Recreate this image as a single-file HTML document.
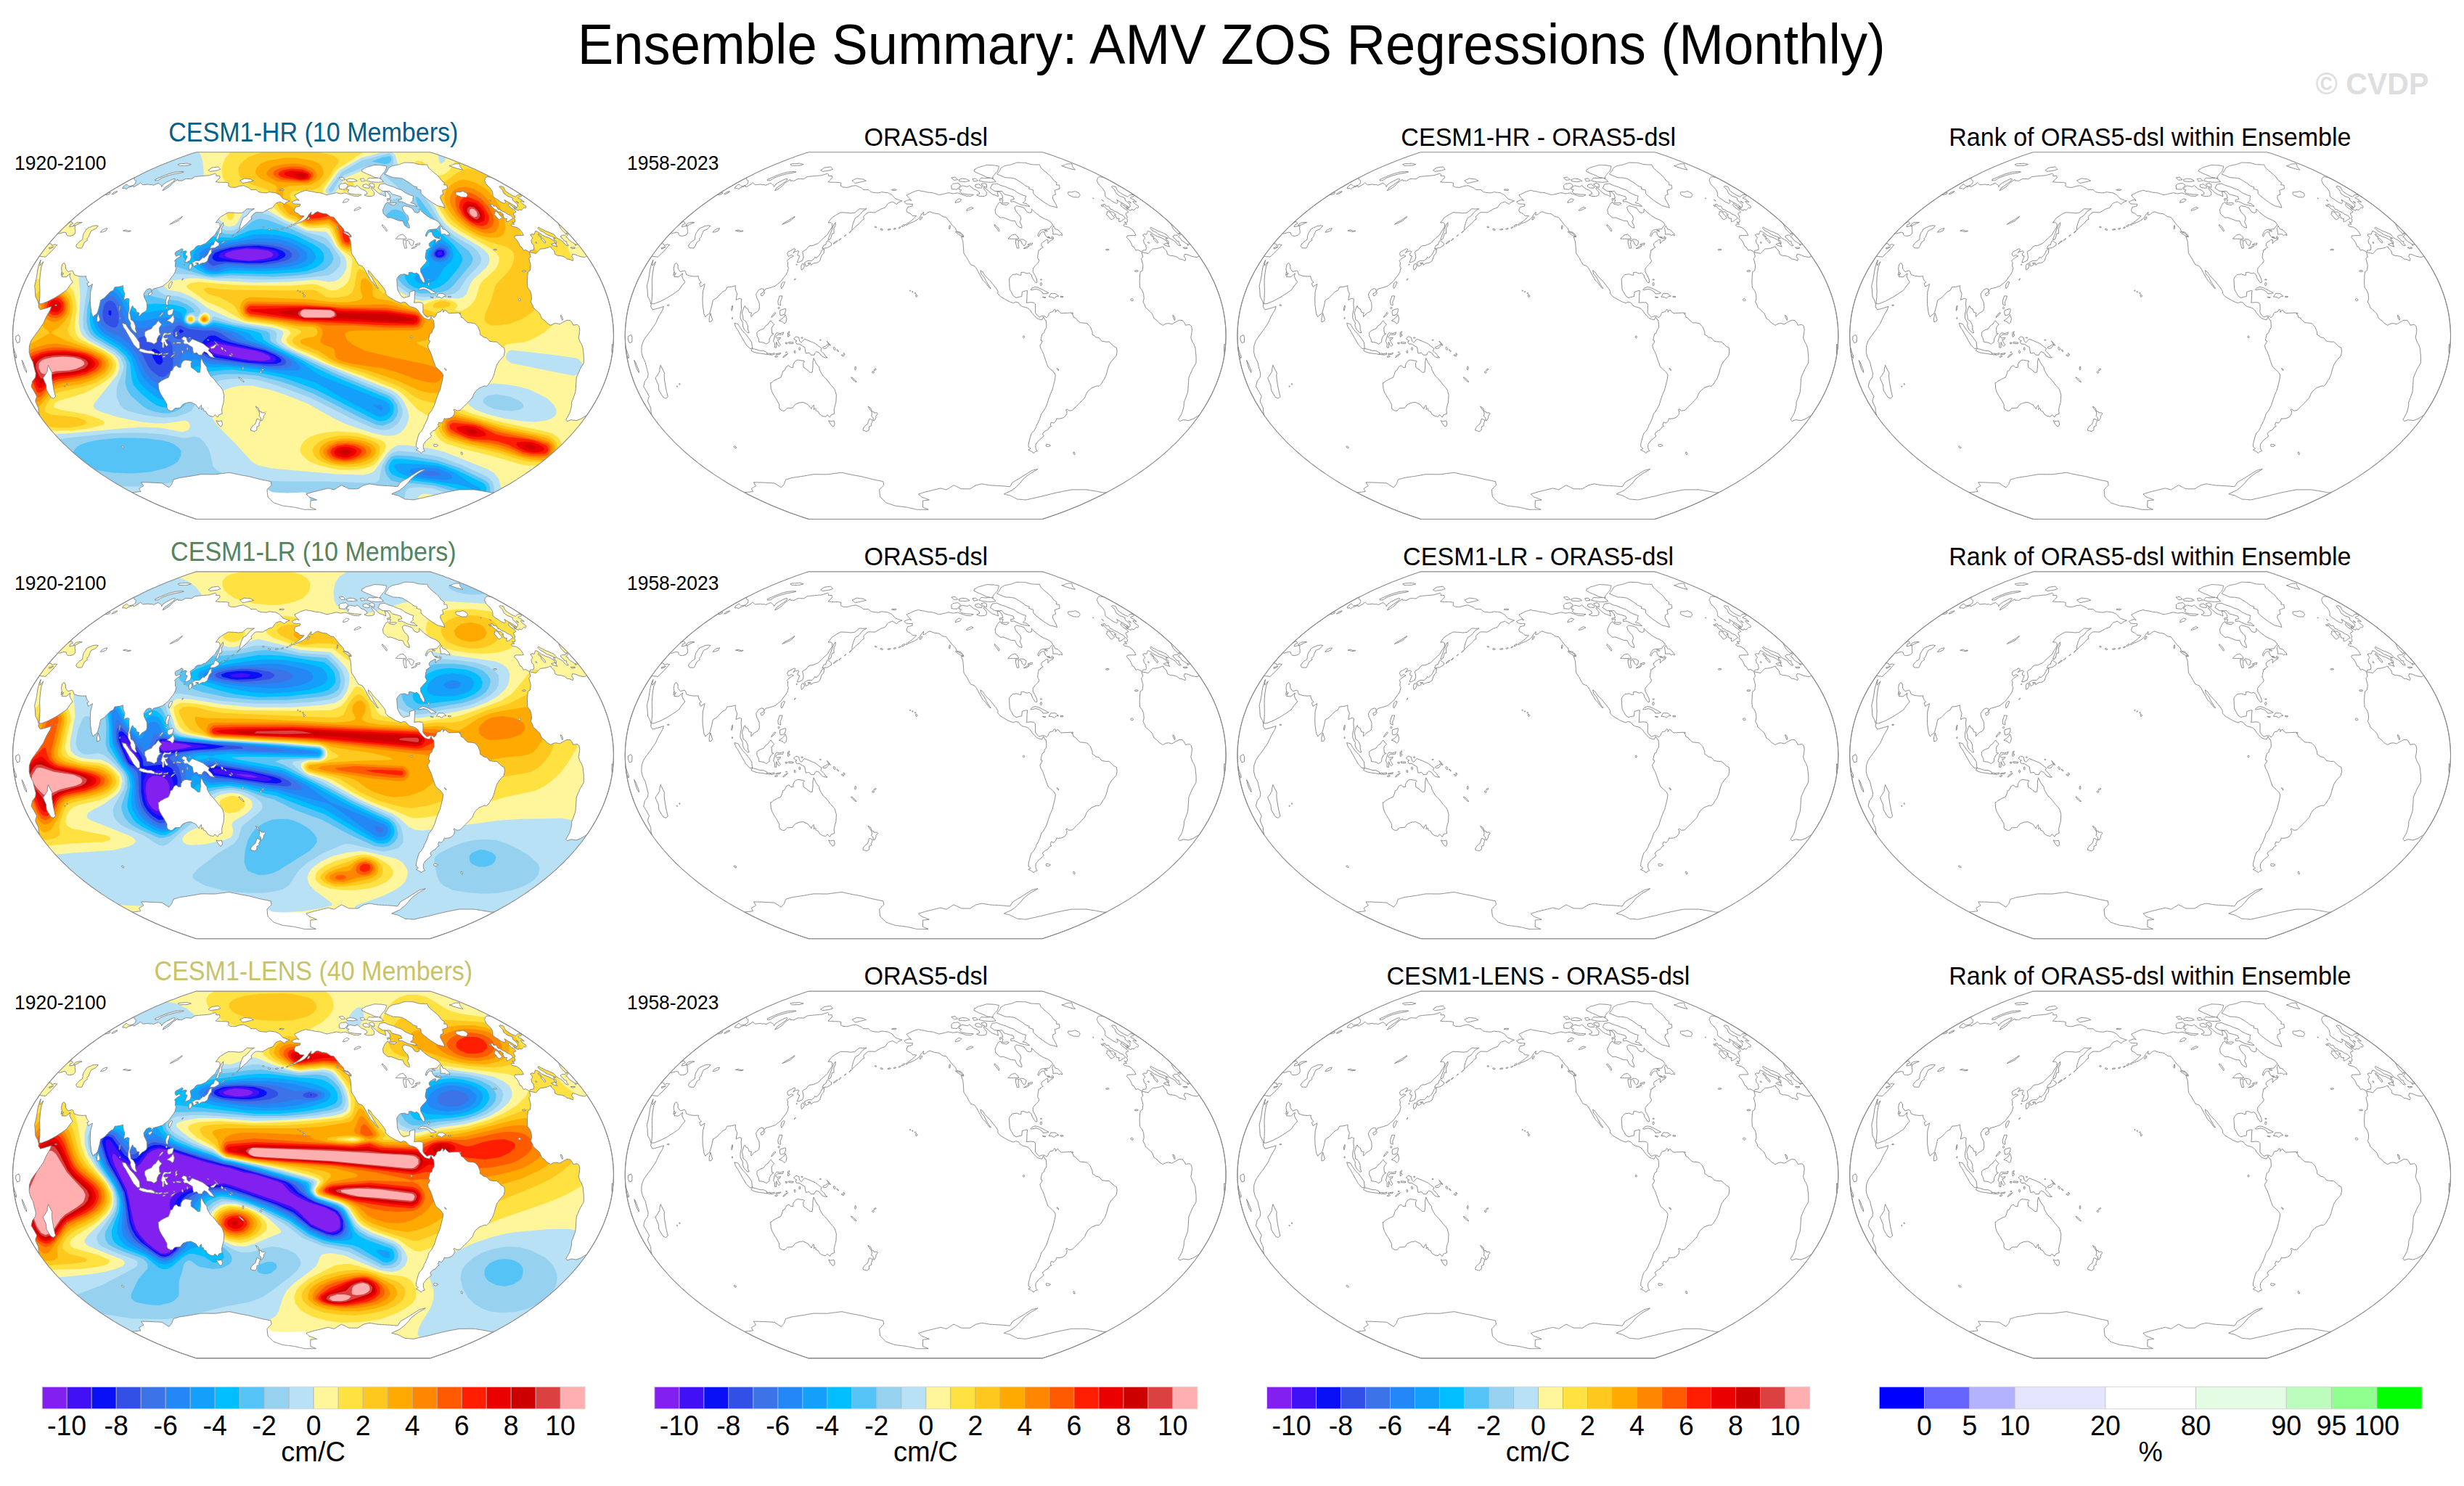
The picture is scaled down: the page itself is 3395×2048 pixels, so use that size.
<!DOCTYPE html>
<html><head><meta charset="utf-8"><title>Ensemble Summary: AMV ZOS Regressions (Monthly)</title>
<style>html,body{margin:0;padding:0;background:#fff;width:3395px;height:2048px;overflow:hidden}svg{display:block;font-family:"Liberation Sans",Arial,Helvetica,sans-serif}</style></head>
<body>
<svg xmlns="http://www.w3.org/2000/svg" width="3395" height="2048" viewBox="0 0 3395 2048">
<defs>
<path id="land" d="M-260.9 153.5L-260.5 154.5 -261.1 155.1 -262.4 154.8 -263.7 153.8 -264.1 152.8 -263.5 152.2 -262.2 152.5 -260.9 153.5ZM-341.7 70.6L-342 70.8 -342.5 70.6 -342.8 70.1 -342.9 69.5 -342.6 69.2 -342.1 69.4 -341.8 70 -341.7 70.6ZM-338.2 67.4L-338.5 67.7 -339 67.5 -339.4 66.8 -339.4 66.1 -339.2 65.8 -338.7 66 -338.3 66.7 -338.2 67.4ZM-367.9 68.3L-369.4 65 -370.8 61.7 -372.2 58.3 -371.2 56.9 -370.1 55.4 -369.1 54 -368.2 52.4 -367.3 50.9 -366.3 49.4 -366.3 49.3 -366.3 47.4 -366.2 45.6 -365.6 43.1 -365 40.7 -363.7 43.5 -362.4 46.2 -361 48.9 -359.6 51.6 -360 54 -360 54.1 -359.9 56.6 -359.8 59.1 -359.8 59.2 -359.4 62.2 -358.9 65.2 -358.4 68.3 -357.9 71.3 -357.3 74.3 -356.7 76.8 -356.2 79.2 -355.6 81.7 -354.9 84.1 -356.4 85.3 -357.9 86.5 -359.6 85.8 -361.2 85.1 -362.9 82.7 -364.4 80.2 -364.5 80.2 -365.9 77.8 -367.3 75.3 -367.6 73 -367.8 70.7 -367.9 68.4 -367.9 68.3ZM-204.1 29L-205.4 29.6 -206.9 29.7 -207.6 29.2 -207.2 28.5 -205.8 27.9 -204.4 27.8 -203.6 28.3 -204.1 29ZM-192 27.4L-193.6 28.6 -195.3 29.8 -196.4 30.1 -195.4 28.6 -194.3 27.1 -192.7 26.3 -191.1 25.5 -189.5 24.7 -190.8 26 -192 27.4ZM-212.7 26.8L-213.3 25.3 -213.2 25.3 -211.6 24.9 -210 24.5 -208.3 24 -208.2 25.8 -209.7 26.1 -211.2 26.5 -212.7 26.8ZM-205.9 26.1L-206.4 25.2 -204.6 24.9 -202.9 24.6 -201.1 24.2 -199.4 23.9 -200.6 25.7 -202.4 25.8 -204.1 26 -205.9 26.1ZM-190.8 23.3L-191.6 23.4 -192.5 23.3 -192.8 23 -192.5 22.6 -191.7 22.5 -190.9 22.6 -190.5 22.9 -190.8 23.3ZM-223.5 20.7L-221.9 21.4 -220.3 22.2 -218.7 23 -218.6 24 -218.6 24.1 -218.6 24.2 -218.5 24.2 -216.8 24.4 -215.2 24.5 -213.5 24.7 -214.1 26.5 -216 26.1 -218 25.7 -218.3 24.9 -218.4 24.9 -218.4 24.8 -218.5 24.8 -218.5 24.9 -218.5 25 -218.5 26 -220.4 25.6 -222.3 25.2 -224.3 24.9 -225.8 24.7 -227.4 24.5 -228.9 24.3 -230.5 24.1 -232 23.8 -233.5 23.5 -233.6 23.5 -235.3 22.9 -237.1 22.3 -238.6 21.5 -240.2 20.6 -239.4 19.2 -238.6 17.8 -236.8 18.2 -235 18.6 -233.2 19 -231.5 19.6 -229.8 20.1 -228.1 20.7 -228 20.7 -225.7 20.7 -223.5 20.7ZM-205.1 -3.9L-203.4 -3.6 -201.7 -3.3 -200.1 -3 -200 -3 -198.5 -3.5 -197 -4.1 -195.4 -4.7 -196 -3.1 -196.6 -1.5 -198.9 -1.5 -201.2 -1.5 -203.5 -1.5 -203.5 -1.4 -205 0 -206.4 1.4 -206.4 1.5 -206.4 1.6 -204.7 3.5 -204.6 3.5 -202.9 3.2 -201.2 3 -199.6 2.7 -200.4 4 -201.2 5.3 -202.4 5.5 -203.7 5.6 -203.8 5.6 -203.8 5.7 -203.8 5.8 -203 7.6 -202.2 9.4 -202.2 9.5 -201 11.1 -199.8 12.7 -200.9 13.7 -202 14.8 -203.2 13.3 -204.4 11.8 -204.8 10.4 -205.3 9 -205.3 8.9 -205.4 8.9 -205.5 8.9 -205.5 9 -205.5 11.6 -205.6 14.1 -205.6 16.6 -206.7 16.5 -207.9 16.3 -207.8 13.4 -207.7 10.5 -207.7 10.4 -207.7 10.3 -208.7 9.2 -209.6 8 -209.1 6.1 -208.6 4.3 -208.1 2.4 -207.5 0.4 -206.9 -1.5 -206 -2.7 -205.1 -3.8 -205.1 -3.9ZM-251.7 -6.1L-250.2 -4.6 -248.7 -3 -247.2 -1.5 -246 0 -244.9 1.5 -243.7 3 -242.3 5 -240.9 7.1 -239.5 9.1 -239.2 11.9 -238.9 14.7 -238.6 17.5 -240.3 17.7 -242 17.9 -243.8 16 -245.6 14.1 -247.4 12.2 -248.5 10.3 -249.6 8.4 -250.7 6.5 -251.7 4.6 -253.2 2.1 -254.5 -0.3 -255.9 -2.7 -257.3 -5.2 -258.6 -7.7 -259.7 -9.2 -260.8 -10.7 -261.8 -12.3 -262.5 -14.7 -263.2 -17.2 -263.1 -17.2 -261.5 -16.8 -259.8 -16.4 -258.2 -15.9 -257.1 -14.1 -256.1 -12.2 -254.7 -10.2 -253.2 -8.1 -251.7 -6.1ZM-222.9 -9.6L-221.7 -11.5 -220.4 -13.4 -218.8 -14.5 -217.1 -15.5 -215.6 -17.9 -214.4 -19.4 -213.1 -20.8 -212.1 -19.3 -211 -17.8 -209.7 -16.6 -208.4 -15.4 -209.5 -14.3 -210.6 -13.1 -211.3 -11.8 -212 -10.5 -212 -10.4 -212.1 -10.4 -211.9 -7.9 -211.7 -5.5 -211.5 -3.1 -211.5 -3 -211.4 -3 -209.2 -2.7 -211 -1.3 -212.7 0 -213.8 2.2 -214.9 4.4 -215 4.5 -215.2 6.7 -215.3 8.9 -216.7 9.8 -218 10.7 -219.4 11.6 -221.1 10.6 -222.9 9.6 -224.6 9.3 -226.4 9 -227.9 8.9 -229.3 8.7 -229.4 8.7 -229.6 6.6 -229.9 4.5 -231.1 2.2 -232.2 0 -232.2 -2.3 -232.2 -4.5 -230.8 -6 -229.2 -6.9 -227.5 -7.8 -226 -8.4 -224.5 -9 -222.9 -9.6ZM-193.1 -28.9L-192.4 -27.1 -191.8 -25.3 -191.2 -23.5 -191.7 -21 -192.2 -18.5 -193.2 -17.5 -194.1 -16.5 -195.7 -17.8 -197.2 -19.2 -198.7 -19.7 -200.2 -20.2 -201.7 -20.7 -199.9 -21.9 -198.1 -23 -196.9 -24 -195.7 -25 -195.7 -25.1 -195.6 -25.1 -194.3 -27 -193.1 -28.9ZM-265.9 -23.2L-266.4 -22.8 -266.7 -23.2 -266.8 -24.1 -266.6 -24.9 -266.1 -25.3 -265.8 -24.9 -265.7 -24 -265.9 -23.2ZM-293.5 -22L-295.1 -19.6 -296.5 -19.3 -297.9 -19 -298 -21.3 -298.1 -23.7 -297.5 -26.1 -296.9 -28.5 -296.3 -31 -295.7 -28.9 -295 -26.8 -294.3 -24.4 -293.5 -22.1 -293.5 -22ZM-206.3 -31.1L-207.7 -29.4 -209.2 -27.6 -210.8 -26.3 -212.4 -25 -211.5 -27.4 -210.2 -28.9 -208.9 -30.5 -207.6 -32 -206.3 -31.1ZM-194.3 -36.5L-194.2 -36.7 -193.3 -37.4 -192.6 -36.7 -192.5 -35 -192.7 -34.1 -192.6 -33.9 -193.4 -31.7 -194.1 -29.5 -195.9 -28.8 -197.7 -28 -200 -28.1 -200.4 -29.6 -200.8 -31 -200.7 -33 -200.4 -34.9 -198.5 -35.5 -196.5 -36.2 -194.5 -36.8 -194.3 -36.5ZM-266.5 -35.3L-267.1 -34.2 -267.4 -35.3 -267.2 -38 -266.6 -40.6 -265.9 -41.6 -265.6 -40.5 -265.9 -37.9 -266.5 -35.3ZM-353.5 -41.4L-354.7 -41.2 -355.7 -41.5 -356.1 -42 -355.5 -42.4 -354.4 -42.6 -353.3 -42.3 -353 -41.8 -353.5 -41.4ZM-201.4 -37.3L-202.3 -37 -203 -37.4 -203.3 -38.2 -202.8 -39 -202 -39.4 -201.2 -39 -201 -38.2 -201.4 -37.3ZM-198.4 -50.2L-199.2 -48.3 -200.1 -46.5 -200.1 -46.4 -199.9 -44 -199.7 -41.7 -200.7 -42 -201.8 -42.5 -202.9 -42.9 -203.1 -45.2 -203.4 -47.4 -202.6 -49.8 -201.8 -52.3 -201 -54.7 -199.1 -54.7 -197.2 -54.6 -197.8 -52.4 -198.4 -50.2ZM-224.3 -55.2L-226.4 -54.9 -226.4 -55 -226.8 -56.3 -227.2 -57.7 -225.6 -58.5 -224 -59.4 -222.4 -60.2 -221.6 -58.7 -223 -56.9 -224.3 -55.2ZM-372.9 -108.7L-372.8 -108.7 -372.8 -108.8 -372.7 -108.8 -372.7 -109 -370.9 -108.7 -369 -108.4 -368.9 -108.4 -368.9 -108.5 -366.9 -110.3 -365 -112.1 -364.9 -112.1 -363.2 -114 -360.6 -116.4 -358.4 -118.8 -356.3 -121.1 -354.6 -123.2 -352.8 -125.2 -352.8 -125.3 -352.8 -125.4 -354 -125 -354.1 -125 -354.7 -125.5 -355.3 -126 -355.4 -126 -357.6 -125.1 -359.9 -124.2 -360.2 -125.2 -360.4 -126.1 -360.4 -126.2 -361.6 -126.6 -362.8 -127 -362.9 -127 -362.9 -126.9 -364.4 -126.3 -361.9 -129.3 -359.4 -132.3 -356.8 -135.2 -354.1 -138.1 -351.4 -141 -350.7 -140.8 -349.9 -140.5 -347.7 -141.2 -345.6 -141.8 -343.4 -142.5 -342 -142.2 -340.5 -141.9 -340.2 -140.6 -339.9 -139.3 -339.1 -138.4 -338.4 -137.6 -337.1 -137.5 -335.9 -137.4 -334.6 -137.3 -332.4 -137.9 -330.2 -138.6 -327.8 -141.3 -327.8 -143.1 -327.8 -144.8 -328 -146 -328.2 -147.2 -328.3 -148.4 -328 -150.2 -328.3 -151.3 -329.8 -151.1 -331.4 -150.9 -333.6 -150.4 -335.7 -149.9 -335.2 -151.5 -334.6 -153 -332.8 -153.7 -331 -154.3 -331.5 -155.2 -331.9 -156 -332.4 -156.8 -334 -156.8 -335.9 -155.7 -337.8 -154.6 -334.7 -157.4 -331.7 -160.1 -328.6 -162.8 -325.4 -165.6 -322.2 -168.2 -319 -170.9 -315.7 -173.5 -312.4 -176.1 -309 -178.7 -305.6 -181.2 -302.1 -183.7 -298.7 -186.2 -295.1 -188.6 -291.6 -191.1 -288 -193.5 -287.9 -193.5 -287.8 -193.5 -287.8 -193.6 -287.7 -193.6 -287.6 -193.7 -284 -196 -280.4 -198.4 -276.7 -200.6 -273 -202.9 -269.2 -205.1 -265.5 -207.3 -261.7 -209.5 -257.9 -211.6 -254 -213.7 -250.2 -215.8 -246.3 -217.8 -246.4 -217.2 -246.5 -216.5 -246.6 -215.9 -246.7 -215.2 -246.1 -214.8 -245.4 -214.4 -244.8 -214.1 -244.1 -213.7 -244.3 -212.9 -244.4 -212.2 -244.5 -211.4 -244.6 -210.6 -244.7 -209.8 -246.3 -208.6 -247.8 -207.3 -249.6 -206.8 -251.5 -206.2 -252.8 -206.1 -254.1 -206.1 -254.6 -206.6 -255.1 -207.1 -255.7 -207.6 -256.2 -208.1 -256.8 -208.4 -257.4 -208.7 -257.5 -208.7 -257.5 -208.6 -257.6 -208.6 -257.7 -208.6 -257.7 -208.5 -257.8 -208.5 -260 -206.6 -262.3 -204.7 -262.3 -204.6 -262.5 -203.7 -262.6 -202.8 -261.1 -202.9 -259.7 -203.1 -258.9 -202.7 -258.2 -202.4 -257.5 -202 -257.4 -202 -257.4 -202.1 -257.3 -202.1 -257.2 -202.1 -257.2 -202.2 -257.1 -202.2 -255.3 -203.8 -252.9 -204.7 -250.4 -205.5 -248 -206.4 -247.8 -205.9 -247.7 -205.3 -247.5 -204.8 -247.4 -204.8 -247.3 -204.8 -243.7 -206.9 -240.2 -208.8 -240.1 -208.9 -240 -208.9 -240 -209 -239.1 -210 -238.1 -211 -237.7 -210.5 -237.2 -210 -236.8 -209.5 -236.2 -209.1 -235.7 -208.7 -235.2 -208.3 -234.7 -207.9 -233.1 -208 -231.5 -208.2 -229.9 -208.3 -228.3 -208.5 -226.7 -208.6 -226.4 -208.3 -226.2 -207.9 -224.8 -208 -223.4 -208.1 -222 -208.1 -221.2 -207.7 -220.3 -207.2 -220.2 -207.2 -220.2 -207.3 -217.9 -208.3 -215.7 -209.3 -213.4 -210.3 -212.8 -209.9 -212.2 -209.4 -211.5 -208.9 -210.9 -208.5 -210.4 -208 -209.9 -207.6 -209.3 -207.1 -208.8 -206.7 -208.8 -206.6 -208.9 -205.9 -208.9 -205.2 -208.8 -205.2 -208.8 -205.3 -208.7 -205.3 -208.6 -205.3 -208.6 -205.4 -207.5 -207.1 -206.3 -208.7 -204.1 -210.1 -201.9 -211.6 -199.3 -212.8 -196.8 -214.1 -194.2 -215.4 -192.7 -215.9 -191.2 -216.4 -190.7 -216.1 -190.1 -215.7 -191.4 -214 -192.7 -212.3 -192.8 -212.3 -196.1 -209.9 -199.1 -207.8 -202 -205.8 -204.9 -203.8 -205 -203.8 -205 -203.7 -205.1 -203.7 -206.3 -201.8 -207.5 -200 -207.5 -199.9 -207.4 -199.9 -205.4 -200.9 -203.4 -202 -203.3 -202 -200.6 -203.8 -198 -205.6 -197.9 -205.6 -197.9 -205.7 -197.8 -205.7 -196.2 -207.5 -194.5 -209.2 -192.8 -210.9 -189.7 -213.1 -186.5 -215.2 -186.4 -214.6 -186.2 -214.1 -186.1 -213.5 -184.5 -213.6 -182.9 -213.6 -182.2 -213.4 -181.4 -213.2 -181.3 -213.2 -178.8 -214.6 -176.2 -216 -175 -216.1 -173.7 -216.2 -172.6 -216.2 -171.4 -216.1 -170.2 -216 -169.1 -215.9 -167.9 -215.9 -167.8 -215.9 -165.3 -217.5 -165.3 -217.6 -163.1 -219 -161.9 -219.2 -160.6 -219.3 -159.4 -219.5 -158.2 -219.6 -156.8 -219.7 -155.4 -219.8 -154 -220 -152.7 -220.1 -151.3 -220.2 -149.9 -220.3 -148.5 -220.4 -147.1 -220.6 -145.8 -220.7 -144.4 -220.8 -143 -220.9 -141.3 -221.5 -139.6 -222 -138 -222.5 -136.3 -223 -134.6 -223.5 -134.2 -223.1 -133.8 -222.7 -133.4 -222.3 -133.7 -221.3 -133.9 -220.2 -132.6 -220.2 -131.4 -220.2 -130.2 -220.3 -129 -220.3 -128.8 -219.5 -128.6 -218.6 -128.3 -217.8 -130.3 -215.8 -132.2 -213.9 -134.1 -211.9 -134.2 -211.9 -134.2 -211.8 -133 -211.7 -131.9 -211.6 -130.7 -211.5 -129.5 -211.4 -128.3 -211.3 -127.1 -211.3 -125.9 -211.3 -124.7 -211.3 -123.5 -211.3 -122.3 -211.2 -121.1 -211.2 -119.9 -211.2 -119 -211 -118.1 -210.8 -117.2 -210.6 -116.3 -210.4 -116.5 -209 -116.6 -207.6 -116.8 -206.2 -116 -205.8 -115.2 -205.4 -114.4 -205 -113.6 -204.6 -112.2 -204.5 -110.8 -204.4 -109.4 -204.3 -108 -204.2 -106.5 -204.6 -105 -205 -103.6 -205.5 -102.1 -205.9 -100.7 -206.3 -99.5 -206.4 -98.3 -206.6 -97.1 -206.7 -95.9 -206.9 -95 -206.4 -94 -206 -93 -205.6 -92 -205.1 -90.9 -204.7 -89.9 -204.2 -88.9 -203.8 -87.8 -203.3 -87.2 -202.7 -86.6 -202 -86 -201.3 -84.5 -201.3 -83 -201.2 -81.6 -201.2 -80.1 -201.2 -78.6 -201.2 -77.8 -200.5 -77 -199.7 -76.3 -199 -75.5 -198.3 -75.4 -198.3 -74.4 -198 -73.4 -197.7 -72.4 -197.5 -71.3 -197.2 -70 -197.1 -68.7 -197 -67.4 -196.9 -66 -196.8 -64.7 -196.7 -63.2 -197.1 -61.8 -197.5 -60.4 -198 -59.2 -197.8 -57.9 -197.6 -56.7 -197.5 -55.4 -197.3 -54.2 -197.2 -52.9 -197 -51.7 -196.9 -50.6 -196.3 -49.5 -195.8 -48.5 -195.2 -47.4 -194.7 -46.3 -194.2 -45.3 -193.1 -44.4 -192 -43.4 -190.9 -42.4 -189.8 -41.3 -188.7 -40.1 -188.3 -38.9 -187.9 -37.7 -187.5 -36.5 -187 -35.3 -186.6 -34.3 -186.3 -33.3 -186 -32.3 -185.7 -33.6 -185.2 -34.9 -184.6 -36.2 -184.1 -37.5 -183.6 -37.5 -183.5 -38.6 -182.3 -39.6 -181.1 -40.8 -181.8 -42 -182.5 -43.1 -183.2 -44.3 -183.9 -45.4 -184.6 -45.5 -184.6 -46.8 -184.1 -48.1 -183.7 -49.4 -183.2 -50.8 -182.7 -51.9 -181.6 -53 -180.6 -53 -180.5 -54.3 -178.4 -55.7 -176.4 -57.1 -175.9 -58.5 -175.5 -59.9 -175 -61.3 -174.6 -62.9 -173.6 -64.5 -172.6 -66.2 -171.7 -67.8 -170.7 -69.5 -169.7 -71.2 -169.8 -73 -169.8 -74.7 -169.9 -76.4 -170 -77.7 -169.9 -79.1 -169.8 -80.8 -168.6 -82.5 -167.4 -82.5 -167.3 -83.9 -165.7 -85.3 -164.1 -85.4 -164 -85.1 -162.2 -84.8 -160.3 -85.8 -160 -86.8 -159.6 -86.8 -159.5 -86.9 -159.5 -88.3 -157.9 -89.7 -156.3 -91 -154.9 -92.4 -153.5 -94.3 -152 -96.1 -150.5 -97.8 -148.8 -99.5 -147 -101.2 -145.3 -101.2 -147.4 -101.1 -149.6 -100.5 -151.9 -99.8 -154.3 -99.1 -156.6 -98.3 -158.5 -97.5 -160.4 -96.7 -162.2 -96.7 -162.3 -95.2 -163.1 -93.7 -164 -92.2 -164.9 -90.7 -166.6 -89.2 -168.3 -87.7 -170.1 -86.2 -171.8 -84.6 -172.7 -82.9 -173.7 -81.3 -174.6 -81.3 -174.7 -81.2 -174.7 -81.2 -174.8 -81.2 -174.9 -82.6 -174.8 -83.9 -174.7 -85.2 -174.6 -86.6 -174.6 -88.1 -174.7 -89.6 -174.8 -91 -174.8 -91.1 -174.8 -92.7 -173.4 -94.3 -172.1 -95.9 -170.8 -97.6 -169.4 -98.9 -169.3 -100.3 -169.1 -101.7 -169 -103.1 -168.8 -104.7 -169 -106.4 -169.2 -108.1 -169.4 -109.8 -169.5 -111.5 -169.6 -113.2 -169.6 -114.9 -169.7 -116.6 -169.8 -116.7 -169.8 -118.5 -168.9 -120.3 -167.9 -122.1 -167 -123.8 -165.9 -125.5 -164.8 -127.3 -163.6 -129 -162.5 -129.1 -162.5 -130.8 -160.2 -132.4 -158 -134 -155.8 -134.1 -155.8 -134.1 -155.7 -134.1 -155.6 -134 -155.6 -132.2 -155.8 -130.3 -155.9 -129.3 -154.9 -128.3 -153.8 -128.5 -151.6 -128.6 -149.5 -128.7 -149.5 -130 -147.6 -131.3 -145.8 -132.6 -143.9 -133.7 -141.8 -134.7 -139.7 -136.4 -138.1 -138.2 -136.6 -140 -135 -141.9 -133.1 -143.9 -131.2 -145.9 -129.3 -147.8 -127.3 -149.6 -126.5 -151.4 -125.8 -153.2 -125 -155 -124.2 -157.1 -124 -159.2 -123.9 -159.2 -123.8 -160.5 -123.1 -161.8 -122.3 -161.8 -122.2 -161.9 -122.2 -163 -120.5 -164.1 -118.9 -166 -117.8 -168 -116.7 -169.4 -115.4 -169.5 -115.4 -169.5 -115.3 -169.5 -115.2 -169.1 -113.5 -168.7 -111.8 -168.4 -109.9 -168.1 -107.9 -168.8 -105.8 -169.5 -103.6 -171.1 -102.8 -172.7 -102 -174.3 -101.2 -175.6 -101.1 -176.9 -101 -176 -103.2 -175.1 -105.3 -174.3 -107.4 -173.4 -109.5 -173.4 -109.6 -173.4 -109.7 -173.5 -109.7 -174.8 -110 -176.1 -110.4 -176.2 -112.8 -175.3 -114.1 -174.3 -115.5 -174.2 -115.5 -174.2 -115.6 -174.2 -115.7 -175.5 -116.8 -175.6 -116.8 -177.6 -116.4 -179.6 -115.9 -181 -115 -182.4 -114 -180.8 -116.3 -179.2 -118.7 -179.2 -118.8 -179.2 -118.9 -180.1 -119.4 -181.1 -119.8 -181.2 -119.8 -183.2 -118.6 -185.2 -117.4 -187.1 -116.5 -189 -115.6 -189.1 -115.5 -190.4 -113.1 -190.5 -113.1 -190.5 -113 -190.5 -112.9 -189.9 -111.5 -189.4 -110 -189.3 -110 -188.4 -109.3 -188.3 -109.3 -186.6 -110.3 -184.9 -111.2 -183.4 -110.5 -181.9 -109.8 -183.9 -108.6 -185.9 -107.4 -188.2 -105.8 -188.2 -105.7 -189.5 -104.5 -190.8 -103.4 -190.9 -103.3 -190.9 -103.2 -190.9 -103.1 -190.3 -102.1 -189.6 -101.1 -189.8 -98.5 -190.1 -95.8 -190 -95.7 -189.4 -94.5 -188.7 -93.3 -189.5 -90.7 -189.8 -89.2 -190.1 -87.8 -191.2 -85.9 -192.2 -84 -193.9 -81.9 -195.6 -79.7 -197.1 -77.6 -198.6 -75.4 -200.2 -74 -201.8 -72.6 -203.6 -71.2 -205.4 -69.7 -207.2 -68.3 -209 -67.7 -210.9 -67.1 -212.7 -66.4 -214.6 -65.9 -216.5 -65.4 -218.4 -64.9 -220.3 -64.4 -220.3 -64.3 -220.4 -64.3 -221.5 -62.6 -222.7 -60.8 -222.9 -62.5 -223.1 -64.1 -223.1 -64.2 -224.5 -64.5 -225.8 -64.9 -225.8 -64.8 -227.7 -64 -229.5 -63.2 -229.6 -63.2 -231.2 -60.9 -232.4 -59.1 -233.5 -57.4 -233.5 -57.3 -233.5 -57.2 -233.1 -55 -232.7 -52.8 -232.7 -52.7 -231.7 -50.7 -230.7 -48.8 -229.9 -46.9 -229.1 -45.1 -229 -43.1 -228.9 -41.1 -228.8 -39.1 -229.2 -37 -229.6 -34.9 -231.1 -33.7 -232.6 -32.5 -234.1 -31.8 -235.5 -31.1 -235.6 -31.1 -237.1 -29.4 -238.7 -27.7 -240.2 -26 -240.3 -27.5 -240.3 -29.1 -239.7 -31.3 -239.7 -31.4 -239.7 -31.5 -241.3 -31.8 -243 -32.1 -243.8 -34.4 -244.6 -36.7 -244.7 -36.7 -244.7 -36.8 -246.3 -37.7 -248 -38.6 -248 -38.7 -248.5 -40.9 -248.5 -41 -248.6 -41 -248.7 -41 -249.9 -39.6 -250.9 -36.9 -251.9 -34.2 -252.8 -31.5 -252.8 -31.4 -252.4 -29.7 -251.9 -28.1 -251.6 -26 -251.4 -24 -251.1 -22 -251.1 -21.9 -251 -21.9 -249.9 -21.3 -248.7 -20.7 -247.7 -19.5 -246.8 -18.2 -245.8 -15.9 -244.8 -13.7 -244.8 -11.1 -244.8 -8.5 -244.7 -8.5 -243.9 -6.4 -243 -4.2 -245.1 -3.9 -246.7 -5.5 -248.2 -7 -249.8 -8.5 -250.9 -11.1 -251.9 -13.7 -251.7 -15.4 -251.5 -17 -251.5 -17.1 -252.2 -18.5 -252.9 -19.8 -254.1 -22.1 -255.2 -24.5 -255.2 -26.5 -255.1 -28.5 -255 -30.6 -254.5 -32.6 -254 -34.6 -253.5 -36.6 -253.5 -36.7 -253.7 -39.5 -253.9 -42.4 -254 -45.2 -253.7 -47.8 -253.4 -50.3 -253.4 -50.4 -253.5 -50.4 -253.5 -50.5 -254.8 -51 -256.1 -51.4 -256.2 -51.4 -257.8 -50.7 -259.5 -49.9 -261.1 -49.2 -260.6 -52 -260.1 -54.9 -259.5 -57.7 -259.5 -57.8 -260.4 -59.7 -261.2 -61.5 -261.7 -63.4 -262 -65.3 -262 -67.1 -261.9 -68.8 -261.9 -68.9 -262 -68.9 -263.5 -68.4 -265.1 -67.9 -266.9 -67.5 -268.6 -67.2 -270.9 -67 -273.1 -66.8 -273.2 -66.8 -273.2 -66.7 -273.3 -66.7 -274.4 -64.5 -275.6 -62.2 -277.5 -61.4 -279.4 -60.5 -281.5 -58.4 -283.6 -56.3 -285.6 -54.2 -287.6 -52.1 -289.3 -51 -291.1 -50 -292.8 -48.9 -292.9 -48.8 -293.4 -46.3 -293.9 -43.8 -294.4 -41.3 -295.2 -38.4 -296 -35.5 -296.8 -32.6 -296.8 -32.5 -297.8 -31 -298.8 -29.4 -300 -28.8 -301.2 -28.2 -301.3 -28.2 -302.2 -27 -303.2 -25.7 -304.3 -28 -305.3 -30.2 -305.3 -30.3 -305.6 -32.4 -305.9 -34.5 -306.2 -36.7 -306.5 -39.1 -306.9 -41.5 -307 -44.2 -307.1 -46.8 -307.2 -49.5 -307.1 -52.3 -307 -55.1 -306.9 -57.9 -306.7 -60.7 -306.1 -62.9 -305.5 -65.1 -304.9 -67.4 -304.5 -69.2 -304.1 -70.9 -304.1 -71 -304.1 -71.1 -304.2 -71.1 -304.3 -71.1 -306.1 -69.8 -308 -68.6 -309.8 -67.4 -310.4 -68.9 -311 -70.5 -311.5 -72 -311.6 -72 -311.5 -72 -310.3 -72.7 -309.1 -73.3 -309 -73.3 -309 -73.4 -309 -73.5 -308.9 -73.5 -309 -73.6 -310.1 -74.7 -311.2 -75.9 -312.1 -77.9 -313 -79.9 -312.8 -81.8 -312.9 -81.9 -314.5 -81.8 -316.1 -81.7 -317.8 -81.6 -319.8 -81.8 -321.9 -82 -323.9 -82.2 -325.7 -82.8 -327.5 -83.4 -329.3 -84 -329.9 -85.6 -330.4 -87.2 -331 -88.8 -332.1 -89.6 -332.2 -89.6 -334.1 -89.1 -335.9 -88.6 -337.8 -88.1 -339 -89.6 -340 -91.1 -341.1 -92.5 -341.1 -94.9 -341.1 -97.3 -341.2 -97.3 -342.2 -98.8 -343.3 -100.3 -343.4 -100.3 -343.4 -100.2 -345.7 -98.3 -345.8 -98.3 -345.8 -98.2 -345.8 -98.1 -345.9 -98.1 -346.4 -95.3 -347 -92.5 -346.6 -90.4 -346.3 -88.3 -346.8 -85.8 -347.3 -83.2 -347.2 -83.2 -347.2 -83.1 -347.1 -83.2 -345.5 -84.8 -343.9 -86.4 -345.1 -83.9 -346.3 -81.4 -346.3 -81.3 -346.3 -81.2 -346.2 -81.2 -344.3 -81.1 -342.3 -81 -340.3 -81 -340.2 -81 -338.4 -82.6 -336.5 -84.2 -334.6 -85.8 -335 -83.8 -335.5 -81.9 -335.5 -81.8 -334.8 -79.9 -334 -78.1 -334 -78 -333.1 -76.6 -332.2 -75.2 -331.3 -73.8 -333.1 -71.7 -334.8 -69.7 -336.5 -67.6 -338.1 -65.2 -339.7 -62.8 -341.7 -61.4 -343.7 -60.1 -345.7 -58.7 -347.7 -57.3 -349.7 -56.1 -351.6 -54.9 -353.6 -53.6 -355.5 -52.4 -357.8 -51.2 -360.1 -50 -362.4 -48.8 -364.8 -47.5 -367.1 -46.6 -369.4 -45.7 -371.7 -44.8 -374.1 -43.9 -375.8 -43.9 -377.5 -43.8 -377.3 -47 -377 -50.2 -376.7 -53.4 -376.7 -53.5 -376.7 -56.4 -376.6 -59.3 -376.5 -62.1 -376.5 -62.2 -376.7 -64.6 -376.7 -67.1 -376.8 -69.5 -376.8 -72 -376.8 -74.5 -376.7 -76.9 -376.5 -79.4 -376.3 -81.8 -376.1 -84.3 -375.8 -86.8 -375.3 -89.7 -374.8 -92.6 -374.3 -95.5 -373 -98.6 -371.7 -101.8 -371.7 -101.9 -371.8 -101.9 -371.8 -101.8 -371.9 -101.8 -374.1 -99.2 -376.3 -96.5 -376.5 -98.7 -375.9 -101.4 -375.2 -104.2 -375.2 -104.3 -375.3 -104.3 -375.3 -104.2 -375.4 -104.2 -375.4 -104.1 -376.4 -101.8 -377.3 -99.5 -378 -97.2 -378.6 -94.9 -379.2 -92.6 -379.8 -89.6 -380.2 -86.7 -380.6 -83.8 -381 -81.4 -381.4 -79.1 -381.8 -76.8 -382.5 -74 -383.2 -71.2 -383.8 -68.5 -383.8 -68.4 -383.6 -66.5 -383.3 -64.6 -383.1 -62.7 -383 -59.8 -382.8 -56.8 -382.6 -53.9 -381.7 -52 -380.7 -50.2 -379.7 -48.4 -378.9 -45.8 -378.1 -43.1 -378.5 -39.7 -378.4 -39.6 -377.2 -37.7 -375.9 -35.8 -375.8 -35.8 -373.9 -36.3 -372 -36.8 -370.1 -37.3 -368.1 -37.9 -366.2 -38.4 -364.4 -39 -362.6 -39.6 -360.8 -40.2 -361.5 -37.8 -362.2 -35.5 -363.9 -32.7 -365.5 -30 -367.1 -27.2 -368.3 -24.7 -369.5 -22.1 -370.6 -19.6 -371.7 -17.1 -373.1 -15 -374.5 -13 -375.9 -11 -377.3 -8.9 -378.6 -6.9 -380.3 -4.7 -381.9 -2.6 -383.5 -0.4 -385.1 1.7 -386.3 3.5 -387.4 5.2 -388.5 7 -389.4 9.3 -390.2 11.6 -391 14 -391.2 16.9 -391.2 19.8 -391.3 22.7 -391.3 22.8 -390.7 25.1 -390.2 27.4 -389.6 29.7 -389.5 29.7 -388.4 32 -387.2 34.3 -386 36.6 -385.3 39.7 -384.6 42.8 -383.8 45.9 -383 49 -382.1 52.1 -382.4 54.7 -382.7 57.4 -383.7 58.8 -384.7 60.2 -385.8 61.6 -386.7 63 -386.8 63 -387.3 65.4 -387.9 67.8 -388.4 70.2 -388.4 70.3 -388.3 70.3 -388.3 70.4 -387 72.6 -385.7 74.8 -384.3 77 -383.1 79.3 -381.9 81.5 -380.6 83.8 -381.3 85.4 -381.9 87 -382.5 88.6 -382.5 88.7 -382.4 91.1 -382.4 91.2 -381.1 94 -379.8 96.9 -378.5 99.7 -378.4 102.2 -378.3 104.7 -378.3 104.8 -377.7 107.2 -377.1 109.7 -379.3 106.4 -381.5 103.1 -383.6 99.8 -385.7 96.4 -387.7 93.1 -389.6 89.7 -391.4 86.3 -393.2 82.9 -394.9 79.5 -396.5 76.1 -398.1 72.6 -399.6 69.2 -401 65.7 -402.3 62.2 -403.6 58.7 -404.8 55.2 -405.9 51.7 -407 48.2 -408 44.6 -408.9 41.1 -409.7 37.6 -410.5 34 -411.2 30.4 -411.8 26.9 -412.3 23.3 -412.7 19.7 -413.1 16.1 -413.4 12.6 -413.7 9 -413.8 5.4 -413.9 1.8 -413.9 -1.8 -413.8 -5.4 -413.7 -9 -413.4 -12.6 -413.1 -16.1 -412.7 -19.7 -412.3 -23.3 -411.8 -26.9 -411.2 -30.4 -410.5 -34 -409.7 -37.6 -408.9 -41.1 -408 -44.6 -407 -48.2 -405.9 -51.7 -404.8 -55.2 -403.6 -58.7 -402.3 -62.2 -401 -65.7 -399.6 -69.2 -398.1 -72.6 -396.5 -76.1 -394.9 -79.5 -393.2 -82.9 -391.4 -86.3 -389.6 -89.7 -387.7 -93.1 -385.7 -96.4 -383.6 -99.8 -381.5 -103.1 -379.3 -106.4 -377.1 -109.7 -375.7 -109.3 -374.3 -109 -373 -108.7 -372.9 -108.7ZM-296.2 -151.3L-297.9 -151.6 -299.6 -151.8 -301.1 -151.5 -302.7 -151.3 -304.3 -151 -306.2 -149.9 -307.8 -149.3 -309.3 -148.8 -311 -147.7 -312.7 -146.6 -313.6 -144.7 -314.9 -142.9 -316.2 -141 -316.8 -139.1 -317.4 -137.1 -317.5 -135.5 -317.7 -134 -317.8 -132.4 -319.7 -131.1 -321.7 -129.9 -323.4 -128.3 -325 -126.6 -326.9 -123.8 -326.3 -122.8 -325.6 -121.8 -324.9 -120.8 -323 -120.8 -321 -120.7 -319 -120.7 -318.1 -121.9 -317.1 -124.2 -316 -126.6 -314.9 -128.9 -312.9 -130.3 -310.8 -131.7 -311.3 -132.6 -311.8 -133.5 -310.4 -135 -309 -136.5 -308.7 -138.1 -307.8 -140.2 -306.9 -142.3 -305.9 -144.4 -304 -145.3 -302.1 -146.1 -300.2 -146.9 -298.2 -149.1 -296.2 -151.3ZM-321.4 -156.3L-323 -156 -324.6 -155.8 -326.3 -155.5 -329.6 -153 -330 -151.6 -329 -151.6 -328 -151.6 -325 -153.1 -322.1 -154.6 -320.2 -155.3 -318.3 -156 -319.9 -156.1 -321.4 -156.3ZM-193.8 -73.7L-194.6 -71.8 -195.4 -69.9 -196.2 -67.9 -197.3 -66.3 -198.4 -64.7 -198.9 -66.4 -199.3 -68 -198.7 -69.9 -198.2 -71.8 -197 -73.1 -195.8 -74.4 -194.8 -74.1 -193.8 -73.7ZM-346 -86.4L-346.3 -86.3 -346.4 -86.5 -346.3 -87 -346 -87.4 -345.7 -87.6 -345.5 -87.4 -345.7 -86.9 -346 -86.4ZM-177.1 -97.4L-177.6 -97.2 -178.1 -97.4 -178.2 -97.9 -177.9 -98.3 -177.3 -98.4 -176.8 -98.2 -176.7 -97.8 -177.1 -97.4ZM-363.6 -119.4L-363.9 -121 -361.9 -121.5 -359.9 -122 -357.9 -122.5 -361 -120.4 -363.6 -119.4ZM-189.9 -225.5L-188.5 -225.6 -187.2 -225.7 -185.9 -225.8 -184.6 -225.9 -183.3 -226 -182 -226.1 -180.6 -226.2 -179.8 -226 -179 -225.9 -178.2 -225.7 -180.2 -225.1 -182.1 -224.5 -183.7 -224.2 -185.2 -224 -186.8 -223.7 -188.3 -223.5 -189.9 -223.2 -191.5 -222.9 -193.7 -222.3 -195.9 -221.7 -198.1 -221.1 -200.3 -220.5 -202.8 -219.6 -205.3 -218.6 -207.8 -217.7 -207.9 -217.7 -207.9 -217.6 -208 -217.6 -210.9 -215.8 -213.8 -214 -213.8 -213.9 -215.2 -213.9 -216.5 -213.8 -217.9 -213.7 -217.8 -214.4 -217.8 -215.2 -215 -216.4 -212.2 -217.6 -209.5 -218.8 -206.7 -220.1 -204 -221.1 -201.4 -222.1 -198.7 -223.1 -196.5 -223.7 -194.3 -224.3 -192.1 -224.9 -189.9 -225.5ZM-132.2 -227.7L-133.5 -227.5 -134.8 -227.3 -136.2 -227.1 -137.5 -226.9 -138.9 -226.7 -140.2 -226.5 -141.6 -226.3 -142.2 -226.6 -142.8 -226.9 -143.3 -227.3 -143.9 -227.6 -144.5 -227.9 -142 -229.7 -139.5 -231.5 -138.2 -231.7 -137 -231.8 -135.7 -232 -134.4 -232.2 -133.1 -232.3 -131.9 -232.5 -130.6 -232.7 -130.2 -232.2 -129.8 -231.7 -129.4 -231.2 -129 -230.7 -128.6 -230.2 -128.2 -229.8 -127.7 -229.3 -129.2 -228.7 -130.7 -228.2 -132.2 -227.7ZM-168.2 -236L-169.9 -235.5 -171.7 -235 -173.4 -234.5 -174.6 -234.5 -175.8 -234.4 -176.9 -234.4 -178.1 -234.4 -179.3 -234.3 -180.4 -234.3 -181.6 -234.2 -182.8 -234.2 -184 -234.2 -184.4 -234.5 -184.8 -234.8 -185.2 -235 -185.6 -235.3 -186 -235.6 -186.4 -235.9 -184.9 -236.4 -183.4 -236.8 -182.2 -236.9 -180.9 -237 -179.7 -237 -178.5 -237.1 -177.3 -237.2 -176 -237.3 -174.8 -237.4 -173.6 -237.5 -172.9 -237.3 -172.3 -237.1 -171.6 -236.9 -170.9 -236.8 -170.2 -236.6 -169.6 -236.4 -168.9 -236.2 -168.2 -236ZM-79.9 121.9L-79.9 121.8 -79.8 121.8 -79.2 120 -78.5 118.1 -78.2 116.5 -77.8 115 -76.6 114.7 -74.8 115.6 -73 116.6 -73.5 118.8 -73.5 118.9 -74.1 120.3 -74.8 121.7 -74.8 121.8 -74.2 124 -75.9 124.7 -77.5 125.4 -77.5 125.5 -77.6 125.5 -77.6 127.8 -77.7 130 -79.2 131 -80.8 132.1 -82.5 131.6 -84.3 131 -86.1 130.5 -86 128.3 -84.9 126.5 -83.7 124.8 -82.4 123.8 -81.2 122.8 -79.9 121.9ZM-126.1 117.4L-125.6 119.2 -125.1 121.1 -125.4 123.4 -126 124.3 -126.7 125.2 -128.5 125 -128.5 124.9 -129.9 123.1 -131.3 121.3 -132.4 119.2 -133.6 117.1 -132.1 117.6 -130.6 118.1 -129.1 117.9 -127.6 117.6 -126.1 117.4ZM-73.8 104.4L-72.6 104.5 -71.5 104.7 -71.1 106.2 -71.1 106.3 -71 106.3 -68.9 106.3 -66.9 106.3 -65.7 107.4 -67 109.1 -68.3 110.8 -68.3 110.9 -68.2 113.1 -69.4 115.1 -70.5 117.1 -72 116.8 -72 115 -72.1 113.2 -72.2 113.1 -73.4 112 -74.5 110.9 -74.2 109.3 -73.8 107.6 -73.8 107.5 -74.4 104.7 -75.7 102.8 -77.1 101 -78.4 99.1 -79.2 97.4 -77.4 98.7 -75.5 99.9 -74.7 102.1 -73.9 104.3 -73.8 104.3 -73.8 104.4ZM-212.2 64.9L-210.9 63.7 -209.6 62.5 -209.6 62.4 -208.6 62 -207.6 61.5 -206.2 60.7 -204.9 60 -203.5 59.3 -202.2 58.7 -200.8 58.2 -199.4 57.7 -199.4 57.6 -198.4 55.2 -197.5 52.9 -197 50.8 -196.4 48.7 -195.3 48.4 -194.3 48.1 -194.2 48.1 -194.2 48 -193.3 46.2 -192.5 44.5 -191.6 42.7 -190 41.9 -188.4 41.1 -188.3 41.1 -187.1 42.4 -185.8 43.7 -185.7 43.7 -184.1 43.7 -182.5 43.7 -182.4 43.7 -182.4 43.6 -182.4 43.5 -182.3 41.5 -182.2 39.6 -182.2 39.5 -181.2 37.9 -180.3 36.3 -179.9 35.7 -178.3 34.6 -176.6 33.6 -175.5 33.6 -173.8 33.8 -172 34.1 -170.3 34.4 -168.6 34.6 -166.7 35.5 -167.6 36.6 -168.5 37.8 -168.5 37.9 -168.3 40.7 -168.1 43.6 -168.1 43.7 -168 43.7 -166 45.1 -163.9 46.5 -162.2 47.9 -160.6 49.3 -158.9 50.7 -158.8 50.7 -157.4 50.6 -156 50.4 -156 50.3 -155.7 48 -155.5 45.7 -155.2 43.4 -155.2 41 -155.2 38.6 -155.2 36.2 -154.6 33.6 -154.1 31 -153.1 33 -152.2 35 -151.3 37 -150 39 -148.6 41 -147.6 42.2 -146.6 43.3 -146.3 45.1 -146 47 -146 47.1 -145.1 48.8 -144.2 50.5 -142.8 52.9 -141.4 55.3 -139.7 57 -138 58.7 -136.2 60.4 -134.9 62.1 -133.6 63.8 -133.5 63.8 -132.2 65.6 -130.8 67.5 -129.5 68.9 -128.2 70.3 -126.9 71.7 -125.9 73.1 -124.9 74.5 -124.2 77 -123.5 79.4 -122.8 81.9 -123 84.4 -123.1 86.8 -123.2 89.2 -123.4 91.7 -123.9 93.5 -124.5 95.4 -125 97.2 -125.3 98.9 -125.7 100.6 -126 102.4 -125.7 105 -125.4 107.5 -125.4 107.6 -126.9 108.1 -128.4 108.6 -129.9 109.2 -130 109.2 -130.8 110.8 -131.6 112.4 -133.5 110.8 -135.3 109.1 -135.4 109.1 -135.5 109.1 -136.5 110.5 -137.6 111.8 -139 111.4 -140.5 111.1 -142 110.8 -143.9 109.6 -145.8 108.4 -146.8 106.5 -147.7 104.7 -147.8 104.7 -147.8 104.6 -149.5 103.9 -151.3 103.1 -151.1 101.1 -151.1 101 -151.9 100 -152 100 -153 101 -153.9 102 -153.5 100 -153.5 99.9 -153.8 97.9 -154.1 95.9 -154.2 95.9 -154.2 95.8 -154.3 95.8 -155.2 96.9 -156.1 98 -156.1 98.1 -156.7 99.5 -157.2 101 -158.7 99 -160.3 97.1 -161.8 95.1 -164 94 -166.2 92.9 -168.4 91.9 -168.5 91.8 -170.2 92 -172 92.2 -173.7 92.4 -175.2 92.9 -176.6 93.5 -178 94.1 -179.5 94.7 -180.8 96.3 -182.1 97.9 -183.3 99.6 -185.1 99.7 -187 99.8 -188.8 99.9 -190.6 100 -191.7 101.1 -192.7 102.2 -193.7 103.4 -195.2 103.5 -196.8 103.6 -198.6 102.6 -200.4 101.7 -201.5 99.4 -201.5 97.1 -201.5 94.9 -201.5 94.8 -202.9 92.4 -204.2 90 -205.5 87.6 -206.8 85.7 -208 83.8 -209.2 81.8 -210.4 79.6 -211.5 77.5 -212.2 75.2 -212.9 73 -213.1 70.3 -213.3 67.7 -213.5 65 -212.2 64.9ZM-96.6 63.5L-98 62.4 -99.3 61.4 -100.6 60.1 -101.8 58.8 -102.6 57.3 -101.2 57.7 -99.9 58.7 -98.5 59.8 -97.3 61.1 -96 62.3 -95.3 63.9 -96.6 63.5ZM-96.1 46.8L-96.8 47.4 -97.4 46.6 -97.5 44.7 -97.1 43 -96.4 42.4 -95.9 43.3 -95.7 45.1 -96.1 46.8ZM-113 28.5L-114.3 28.2 -115.4 27.4 -115.8 26.6 -115.2 26.3 -113.9 26.6 -112.7 27.4 -112.3 28.2 -113 28.5ZM-111.7 26.6L-112.5 25.9 -113.1 24.8 -113 24.1 -112.5 24.1 -111.7 24.9 -111.1 26 -111.2 26.7 -111.7 26.6ZM-179.3 23.7L-179.9 24.3 -180.6 23.7 -181 22.2 -180.8 20.8 -180.2 20.2 -179.5 20.8 -179.1 22.2 -179.3 23.7ZM-120.3 21.9L-121.4 21.1 -122.2 20.1 -122.3 19.3 -121.7 19.3 -120.7 20 -119.9 21.1 -119.7 21.9 -120.3 21.9ZM-172.7 19.5L-173.3 20.1 -174 19.5 -174.3 18.1 -174.1 16.6 -173.5 16 -172.8 16.6 -172.5 18.1 -172.7 19.5ZM-124.1 18.6L-124.5 19.7 -125.5 19.7 -126.4 18.5 -126.9 16.9 -126.5 15.8 -125.5 15.9 -124.5 17 -124.1 18.6ZM-173.5 7.2L-173.5 7.3 -172.4 8.4 -171.3 9.5 -171.2 9.6 -171.1 9.6 -171.1 9.5 -169.6 7.9 -168.2 6.3 -166.7 4.7 -164.8 5.4 -162.8 6.2 -160.9 7 -159.4 7.6 -157.8 8.3 -156.3 9 -154.7 9.6 -153.2 10.3 -151.6 11 -150.2 12.1 -148.8 13.3 -147.4 14.4 -146 15.5 -144.6 16.5 -143.1 17.6 -143.7 19.1 -144.3 20.7 -144.3 20.8 -143.1 21.9 -142 23 -140.5 24.5 -139.1 25.9 -138.1 27.6 -137.1 29.3 -137 29.3 -135.2 30.2 -136.3 30.3 -137.4 30.5 -139.5 29.8 -141.6 29.1 -143.6 27.4 -145 25.5 -146.5 23.7 -146.5 23.6 -148.3 22.8 -150 22 -150.1 22 -151.2 23 -152.2 24 -152.7 25.3 -153.2 26.6 -155.5 26.6 -157.8 26.7 -159 25.1 -160.2 23.6 -160.2 23.5 -160.3 23.5 -161.7 23.8 -163 24.1 -164.8 24.4 -165.3 22.4 -165.7 20.4 -165.7 20.3 -166 18.2 -166.4 16.1 -166.4 16 -168.2 15 -169.9 14 -171.7 12.8 -173.4 11.7 -175.7 11.4 -177.3 11.7 -178.3 10.1 -179.3 8.5 -177.3 7.2 -177.3 7.1 -177.3 7 -177.4 7 -178.8 6.7 -179.9 5.6 -180.9 4.4 -181 4.4 -181.6 4.1 -179.9 2.6 -178.2 1.2 -176.4 1.9 -174.5 2.6 -174 4.9 -173.5 7.2ZM-134.4 12.1L-132.9 12.3 -132.8 12.3 -132.8 12.2 -132.7 12.2 -132.7 12.1 -132.8 12.1 -134.4 10.1 -135.2 8.8 -136.1 7.5 -134.7 8.8 -133.3 10 -133.3 10.1 -132.1 11.5 -130.9 12.9 -131.3 13.8 -132.4 12.4 -132.5 12.4 -132.6 12.4 -133.4 13.4 -134.3 14.4 -135.4 15.8 -136.5 17.2 -136.5 17.3 -138.2 17.5 -139.9 17.8 -141.6 16.7 -141.1 15.8 -139.4 15.1 -137.8 14.4 -137.7 14.4 -136.1 13.2 -134.4 12.1ZM-191.1 11.5L-193 10.9 -193 9.4 -191.6 9.6 -190.3 9.7 -191.1 11.5ZM-188.4 10.6L-188.4 8.8 -186.3 9 -184.1 9.2 -182 9.4 -182.6 11.1 -184.6 10.9 -186.5 10.8 -188.4 10.6ZM-144 6.5L-144.8 6.6 -145.6 6.5 -146 6.1 -145.6 5.6 -144.8 5.5 -144 5.6 -143.7 6.1 -144 6.5ZM-169.3 3.4L-170.1 3.6 -171 3.4 -171.3 2.9 -171 2.4 -170.2 2.2 -169.3 2.4 -169 2.9 -169.3 3.4ZM-188.5 -1.6L-188.5 -1.5 -188.5 -1.4 -188.4 -1.4 -186.7 -0.9 -187.6 0.3 -188.5 1.5 -188.6 1.5 -189.7 1.5 -189.7 -1.5 -189.7 -4.4 -188.5 -5.1 -187.4 -5.9 -187.9 -3.7 -188.5 -1.6ZM-179 -78L-179.6 -77.2 -180.4 -76.6 -180.9 -76.6 -180.7 -77.2 -180.1 -78.1 -179.3 -78.6 -178.9 -78.6 -179 -78ZM-166.9 -95.3L-167.9 -93.4 -169 -91.6 -170.8 -90.5 -171.2 -92 -171.3 -94.2 -171.3 -96.4 -169.7 -98.9 -167.6 -98.8 -167.2 -97.1 -166.9 -95.3ZM-156.8 -103.3L-156.7 -103.3 -155.4 -104.4 -153.9 -105.8 -152.5 -107.1 -152.5 -107.2 -152.5 -107.3 -152.5 -108.4 -151.5 -107.7 -150.4 -107.1 -150.3 -107.1 -150.3 -107.2 -148.9 -108.5 -147.5 -109.9 -146 -111.2 -146 -111.3 -144.9 -113.4 -143.7 -115.5 -143.4 -117.2 -142.2 -118 -141 -118.9 -139.6 -119.4 -139.9 -116.6 -140.1 -113.9 -141.6 -112.2 -143.1 -110.6 -143.1 -110.5 -144 -108.1 -144.8 -105.6 -145.6 -103.1 -146.9 -102.2 -148.2 -101.2 -149.7 -100.4 -151 -100.3 -152.3 -100.2 -153.6 -99.8 -154.8 -99.4 -154.9 -99.4 -156.3 -98.3 -157.8 -97.2 -158.2 -98.8 -158.6 -100.4 -158.6 -100.5 -158.7 -100.5 -160.3 -100.2 -161.9 -100 -162.1 -100 -162.2 -99.9 -162.2 -99.8 -162.2 -99.7 -161 -99.5 -159.8 -99.4 -159.9 -98.2 -162.1 -96.8 -164.3 -95.5 -165.2 -96.1 -165.6 -98.4 -165.5 -98.5 -165.5 -98.6 -165.4 -98.6 -165.4 -98.7 -165.5 -98.7 -166.4 -99.4 -167.2 -100 -165.9 -101.1 -163.9 -102.2 -162 -103.2 -162 -103.3 -160.3 -103.3 -158.5 -103.3 -156.8 -103.3ZM-137.5 -125.3L-137.5 -125.4 -137.4 -125.4 -137.4 -125.5 -136.5 -128 -135.5 -130.5 -134.5 -131 -133.3 -130.1 -132 -129.1 -130.7 -128.2 -129.4 -127.3 -129.6 -125.9 -129.7 -124.4 -131.6 -123.3 -133.5 -122.1 -135.5 -120.9 -136.9 -120.8 -138.2 -120.7 -139.6 -120.5 -139.7 -120.5 -141 -120.2 -142.3 -119.8 -141.6 -122.1 -140.1 -124.6 -138.8 -125 -137.5 -125.3ZM-121.7 -130.6L-121.1 -130.7 -121.5 -130 -122.7 -128.9 -123.9 -128 -124.3 -127.9 -126.1 -126.6 -126.9 -126.4 -126.3 -127.4 -124.6 -129.1 -122.7 -130.4 -121.9 -130.6 -122.1 -130.3 -121.7 -130.6ZM-116.5 -133.2L-117.7 -132.1 -118.9 -131.2 -119.4 -131.1 -119 -131.9 -117.9 -133 -116.7 -133.8 -116.1 -133.9 -116.5 -133.2ZM-133.6 -134.1L-132.8 -136.1 -132 -138.1 -130.9 -140.9 -129.8 -143.8 -129.2 -145.7 -128.6 -147.5 -127.9 -149.4 -126.8 -151.5 -125.8 -153.6 -125.8 -153.7 -123.9 -155.9 -124 -154 -124 -152.1 -125.1 -150 -126.2 -148 -126.2 -147.9 -126.3 -147.9 -126.3 -145.5 -126.2 -143.1 -126.2 -140.7 -127.3 -140.8 -128.5 -140.8 -128.6 -140.8 -128.6 -140.7 -128.7 -140.7 -129.3 -138.3 -130 -136 -130.6 -133.7 -131.6 -133.3 -131.6 -133.2 -132.1 -132.2 -132.7 -131.8 -132.9 -132.2 -132.8 -132.9 -134 -132.4 -133.6 -134.1ZM-109.7 -138.4L-110.5 -137.5 -111.4 -136.9 -111.8 -136.9 -111.5 -137.5 -110.7 -138.4 -109.8 -139 -109.4 -139 -109.7 -138.4ZM-102.4 -143.9L-103.4 -142.7 -104.6 -141.7 -105.2 -141.6 -104.8 -142.3 -103.7 -143.5 -102.6 -144.5 -102 -144.7 -102.4 -143.9ZM-67.9 -148.8L-68.9 -148.9 -69.8 -149.4 -70 -150 -69.5 -150.4 -68.4 -150.3 -67.5 -149.8 -67.3 -149.2 -67.9 -148.8ZM-81.9 -213.5L-83.4 -213.1 -84.8 -212.8 -86.3 -212.4 -87.8 -212.1 -89.3 -211.7 -90.7 -211.4 -92.2 -211.1 -93.7 -210.7 -95.2 -210.4 -96.7 -210 -97.5 -210.6 -98.2 -211.2 -99 -211.9 -99.7 -212.5 -100.4 -213.1 -101.1 -213.7 -99.5 -214.4 -97.9 -215.2 -96.3 -215.9 -94.8 -216.7 -93.5 -216.5 -92.3 -216.4 -91 -216.2 -89.8 -216.1 -88.5 -215.9 -87.3 -215.8 -86 -215.6 -85.2 -215.2 -84.4 -214.8 -83.6 -214.4 -82.8 -213.9 -81.9 -213.5ZM-237.6 214.8L-238.2 213.8 -238.8 212.8 -239.3 211.8 -239.8 210.7 -239.1 210.3 -238.4 209.8 -237.6 209.4 -236.9 208.9 -236.1 208.5 -235.3 208 -234.5 207.6 -233.7 207.1 -234.5 205.9 -235.3 204.6 -236.1 203.4 -236.8 202.1 -235.2 202.1 -233.6 202.2 -232 202.2 -230.4 202.2 -228.8 202.3 -227.2 202.3 -225.6 202.4 -224 202.5 -222.5 202.5 -220.9 202.6 -219.3 202.7 -217.7 202.8 -216.1 202.8 -214.6 202.9 -213 203 -211.4 203.1 -209.8 203.2 -208.2 203.3 -205.1 205.3 -202 207.3 -198.8 209.2 -198.8 209.3 -198.7 209.3 -198.6 209.3 -198.1 208.6 -197.6 208 -197 207.3 -196.5 206.7 -195.9 206 -195.3 205.3 -194.7 204.7 -194.5 203.8 -194.2 202.9 -193.9 202 -193.5 201.1 -193.2 200.2 -192.8 199.3 -192.5 198.4 -191.4 198.1 -190.4 197.8 -189.3 197.5 -188.3 197.2 -187.3 196.9 -186.2 196.6 -185.1 196.2 -184.1 195.9 -182.7 195.7 -181.4 195.5 -180 195.3 -178.7 195.1 -177.4 194.9 -176 194.7 -174.6 194.5 -173.3 194.3 -171.9 194.1 -170.5 193.9 -169.2 193.7 -167.9 193.5 -166.6 193.2 -165.2 193 -163.9 192.8 -162.6 192.5 -161.3 192.3 -159.9 192.1 -158.6 191.8 -157.3 191.6 -155.9 191.4 -154.6 191.1 -153.1 191.1 -151.6 191.1 -150.1 191.1 -148.6 191.1 -147.1 191.1 -145.6 191.1 -144.1 191.2 -142.6 191.2 -141.1 191.2 -139.6 191.2 -138.1 191.2 -136.6 191.2 -135.1 191.2 -133.7 191 -132.3 190.9 -130.9 190.7 -129.6 190.5 -128.2 190.3 -126.8 190.1 -125.4 189.9 -123.9 189.8 -122.5 189.6 -121.1 189.4 -119.6 189.2 -118.2 189 -116.7 188.9 -115.2 188.7 -113.5 189.1 -111.7 189.5 -109.9 189.9 -108.1 190.3 -106.4 190.7 -104.6 191 -102.9 191.4 -101.1 191.8 -99.6 192.1 -98 192.4 -96.4 192.7 -94.9 192.9 -93.3 193.2 -91.8 193.5 -90.2 193.8 -88.7 194 -87 194.4 -85.4 194.8 -83.8 195.3 -82.2 195.7 -80.6 196.1 -79 196.5 -77.4 196.9 -75.8 197.3 -74.2 197.7 -72.6 198.1 -71 198.4 -69.4 198.8 -67.8 199.1 -66.3 199.4 -64.7 199.7 -63.1 200 -61.5 200.4 -60 200.7 -58.4 201 -57.9 203.5 -57.4 206 -58.3 206.9 -59.2 207.8 -60.1 208.7 -61 209.5 -61.8 210.4 -62.6 211.3 -63.4 212.1 -63.4 212.2 -63.5 212.2 -63.3 214.2 -63.2 216.2 -63 218.2 -62.7 220.1 -62.5 222.1 -62.5 222.2 -62.4 222.2 -62.4 222.3 -60.7 223.9 -59.1 225.5 -57.5 227.1 -55.9 228.7 -54.3 230.3 -52.9 230.8 -51.5 231.2 -50.1 231.7 -48.8 232.2 -47.4 232.6 -46.1 233.1 -44.7 233.5 -43.4 234 -42.1 234.5 -40.9 234.6 -39.7 234.8 -38.6 234.9 -37.4 235 -36.2 235.2 -35.1 235.3 -33.9 235.5 -32.7 235.6 -31.6 235.7 -30.4 235.9 -29.3 236 -28.2 236.2 -27 236.3 -25.9 236.5 -24.8 236.7 -23.6 237 -22.5 237.2 -21.4 237.5 -20.3 237.7 -19.2 238 -18.1 238.2 -17.1 238.5 -16 238.7 -14.9 239 -13.8 239.2 -12.8 239.5 -11.7 239.7 -10.7 239.7 -9.7 239.7 -8.6 239.7 -7.6 239.7 -6.6 239.7 -5.5 239.7 -4.5 239.7 -3.5 239.7 -2.4 239.7 -1.4 239.7 -0.4 239.7 0.7 239.7 1.7 239.7 2.7 239.7 3.7 239.7 3.8 239.7 3.8 239.6 3.8 239.5 3.8 239.4 2.7 239 1.7 238.6 0.6 238.2 -0.4 237.8 -1.5 237.4 -2.6 237 -3.6 236.6 -3.7 234.3 -3.7 232 -3.6 229.7 -3.6 227.3 -2.6 227.2 -1.5 227.1 -0.4 227 0.7 226.9 1.8 226.8 2.8 226.7 3.9 226.6 5 226.5 5.1 226.5 5.1 226.4 5.1 226.3 5 226.3 3.9 225.8 2.7 225.4 1.6 224.9 0.4 224.5 -0.8 224 -2 223.6 -3.2 223.2 -4.4 222.7 -5.6 222.3 -6.6 221.3 -7.6 220.3 -8.6 219.3 -9.7 218.4 -8.4 218 -7.2 217.6 -5.9 217.2 -4.6 216.8 -3.4 216.4 -2.1 216 -0.8 215.6 0.5 215.2 1.9 214.9 3.2 214.6 4.5 214.3 5.9 213.9 7.2 213.6 8.6 213.3 9.9 213 11.2 212.6 12.6 212.3 13.9 212 15.3 211.6 16.6 211.3 18 211 19.4 210.6 20.7 210.3 21.9 210.6 23.1 210.9 24.2 211.2 25.4 211.5 26.5 211.8 27.7 212.1 28.8 212.4 30.2 211.5 31.7 210.6 33.1 209.7 34.5 208.8 36 207.9 37.5 207 39 206.1 40.2 206.7 41.3 207.2 42.5 207.8 43.6 208.3 44.8 208.9 45.9 209.5 47 210 48.1 210.6 49.2 211.1 50.5 211.1 51.9 211.2 53.2 211.2 54.6 211.2 55.9 211.2 57.3 211.2 58.7 211.2 60 211.2 61.4 211.2 63 210.2 64.6 209.2 66.2 208.2 67.8 207.2 69.5 206.2 71.1 205.8 72.7 205.4 74.3 205 75.9 204.7 77.5 204.3 78.7 204.5 80 204.7 81.2 204.9 82.4 205.1 83.6 205.3 84.8 205.5 86.1 205.7 87.3 205.9 88.5 206.1 89.7 206.3 91 206.3 92.4 206.4 93.8 206.5 95.1 206.6 96.5 206.6 97.9 206.7 99.2 206.8 100.6 206.9 101.9 206.9 103.3 207 104.6 207.1 106 207.2 107.3 207.3 108.6 207.4 109.8 207.5 111.1 207.7 112.4 207.8 113.7 207.9 114.9 208 116.2 208.1 116.3 208.1 116.3 208 116.4 208 117.7 206.1 118.9 204.1 120.2 202.2 122.2 200.9 124.2 199.7 126.3 198.5 128.3 197.3 130.4 196.1 132.7 194.6 135 193.1 137.3 191.7 139.7 190.2 142 188.7 144.3 187.3 146.7 185.8 148.3 185.4 149.9 185 151.5 184.6 153.1 184.2 154.7 183.8 153.3 184.9 151.9 185.9 151.8 185.9 149.5 187.2 147.2 188.4 144.9 189.7 143.1 191 141.3 192.3 139.5 193.6 137.2 195.6 134.9 197.5 134.9 197.6 134.8 197.6 132.7 200.3 130.5 202.9 128.8 204.7 127.1 206.5 125.3 208.2 123.1 210 120.9 211.7 118.7 213.4 116.6 214.3 114.6 215.3 112.5 216.2 110.5 217.1 108.4 218.1 108.3 218.2 108.3 218.3 108.2 218.3 109.3 218.6 110.3 218.8 111.3 219.1 112.3 219.3 113.3 219.5 114.4 219.8 115.4 220 116.4 220.2 117.2 220.7 118.1 221.1 119 221.5 119.8 222 120.7 222.4 121.5 222.8 122.3 223.2 123.2 223.7 124 224.1 124.8 224.5 125.6 224.9 126.3 225.4 127.5 225.5 128.6 225.5 129.7 225.6 130.9 225.7 132 225.8 133.1 225.9 134.2 226 135.4 226.1 136.5 226.2 137.6 226.2 138.7 226.3 140.4 225.9 142.1 225.5 143.8 225.1 145.5 224.7 147.1 224.3 148.8 224 150.6 223.6 152.3 223.2 154 222.8 155.7 222.4 157.4 222 159.1 221.7 160.9 221.3 162.9 220.8 164.9 220.3 166.9 219.7 168.9 219.2 170.9 218.7 172.9 218.2 174.9 217.7 177 217.2 179 216.8 181 216.3 182.9 215.9 184.7 215.5 186.5 215.2 188.4 214.8 190.2 214.4 192 214.1 193.9 213.7 195.7 213.4 197.5 213 199.4 212.7 201.2 212.3 201.3 212.3 202.7 212.3 204.2 212.3 205.7 212.3 207.1 212.3 208.6 212.3 210 212.3 211.5 212.3 213 212.3 214.4 212.2 215.9 212.3 217.3 212.3 218.8 212.3 220.2 212.3 221.7 212.3 222.9 212.5 224 212.6 225.2 212.8 226.3 213 227.5 213.2 228.6 213.4 229.8 213.6 230.9 213.7 232 213.9 233.1 214.1 234.3 214.3 235.4 214.5 236.5 214.7 237.6 214.9 238.7 215.1 239.8 215.3 240.8 215.5 241.8 215.7 242.8 215.9 243.7 216.1 244.7 216.3 245.8 216.3 246.9 216.3 248 216.3 249.2 216.3 249.1 216.3 245.1 218.4 241.1 220.5 237 222.5 232.9 224.5 228.8 226.4 224.6 228.4 220.5 230.2 216.3 232.1 212.1 233.9 207.9 235.7 203.7 237.4 199.4 239.1 195.2 240.8 190.9 242.5 186.7 244.1 182.4 245.6 178.1 247.1 173.9 248.6 169.6 250.1 165.3 251.5 161 252.9 160.1 252.9 159.2 252.9 158.3 252.9 157.4 252.9 156.5 252.9 155.6 252.9 154.7 252.9 153.8 252.9 152.9 252.9 152.1 252.9 151.2 252.9 150.3 252.9 149.4 252.9 148.5 252.9 147.6 252.9 146.7 252.9 145.8 252.9 144.9 252.9 144 252.9 143.1 252.9 142.2 252.9 141.3 252.9 140.4 252.9 139.5 252.9 138.6 252.9 137.7 252.9 136.8 252.9 136 252.9 135.1 252.9 134.2 252.9 133.3 252.9 132.4 252.9 131.5 252.9 130.6 252.9 129.7 252.9 128.8 252.9 127.9 252.9 127 252.9 126.1 252.9 125.2 252.9 124.3 252.9 123.4 252.9 122.5 252.9 121.6 252.9 120.7 252.9 119.9 252.9 119 252.9 118.1 252.9 117.2 252.9 116.3 252.9 115.4 252.9 114.5 252.9 113.6 252.9 112.7 252.9 111.8 252.9 110.9 252.9 110 252.9 109.1 252.9 108.2 252.9 107.3 252.9 106.4 252.9 105.5 252.9 104.6 252.9 103.8 252.9 102.9 252.9 102 252.9 101.1 252.9 100.2 252.9 99.3 252.9 98.4 252.9 97.5 252.9 96.6 252.9 95.7 252.9 94.8 252.9 93.9 252.9 93 252.9 92.1 252.9 91.2 252.9 90.3 252.9 89.4 252.9 88.5 252.9 87.7 252.9 86.8 252.9 85.9 252.9 85 252.9 84.1 252.9 83.2 252.9 82.3 252.9 81.4 252.9 80.5 252.9 79.6 252.9 78.7 252.9 77.8 252.9 76.9 252.9 76 252.9 75.1 252.9 74.2 252.9 73.3 252.9 72.4 252.9 71.6 252.9 70.7 252.9 69.8 252.9 68.9 252.9 68 252.9 67.1 252.9 66.2 252.9 65.3 252.9 64.4 252.9 63.5 252.9 62.6 252.9 61.7 252.9 60.8 252.9 59.9 252.9 59 252.9 58.1 252.9 57.2 252.9 56.3 252.9 55.5 252.9 54.6 252.9 53.7 252.9 52.8 252.9 51.9 252.9 51 252.9 50.1 252.9 49.2 252.9 48.3 252.9 47.4 252.9 46.5 252.9 45.6 252.9 44.7 252.9 43.8 252.9 42.9 252.9 42 252.9 41.1 252.9 40.2 252.9 39.4 252.9 38.5 252.9 37.6 252.9 36.7 252.9 35.8 252.9 34.9 252.9 34 252.9 33.1 252.9 32.2 252.9 31.3 252.9 30.4 252.9 29.5 252.9 28.6 252.9 27.7 252.9 26.8 252.9 25.9 252.9 25 252.9 24.1 252.9 23.3 252.9 22.4 252.9 21.5 252.9 20.6 252.9 19.7 252.9 18.8 252.9 17.9 252.9 17 252.9 16.1 252.9 15.2 252.9 14.3 252.9 13.4 252.9 12.5 252.9 11.6 252.9 10.7 252.9 9.8 252.9 8.9 252.9 8 252.9 7.2 252.9 6.3 252.9 5.4 252.9 4.5 252.9 3.6 252.9 2.7 252.9 1.8 252.9 0.9 252.9 0 252.9 -0.9 252.9 -1.8 252.9 -2.7 252.9 -3.6 252.9 -4.5 252.9 -5.4 252.9 -6.3 252.9 -7.2 252.9 -8 252.9 -8.9 252.9 -9.8 252.9 -10.7 252.9 -11.6 252.9 -12.5 252.9 -13.4 252.9 -14.3 252.9 -15.2 252.9 -16.1 252.9 -17 252.9 -17.9 252.9 -18.8 252.9 -19.7 252.9 -20.6 252.9 -21.5 252.9 -22.4 252.9 -23.3 252.9 -24.1 252.9 -25 252.9 -25.9 252.9 -26.8 252.9 -27.7 252.9 -28.6 252.9 -29.5 252.9 -30.4 252.9 -31.3 252.9 -32.2 252.9 -33.1 252.9 -34 252.9 -34.9 252.9 -35.8 252.9 -36.7 252.9 -37.6 252.9 -38.5 252.9 -39.4 252.9 -40.2 252.9 -41.1 252.9 -42 252.9 -42.9 252.9 -43.8 252.9 -44.7 252.9 -45.6 252.9 -46.5 252.9 -47.4 252.9 -48.3 252.9 -49.2 252.9 -50.1 252.9 -51 252.9 -51.9 252.9 -52.8 252.9 -53.7 252.9 -54.6 252.9 -55.5 252.9 -56.3 252.9 -57.2 252.9 -58.1 252.9 -59 252.9 -59.9 252.9 -60.8 252.9 -61.7 252.9 -62.6 252.9 -63.5 252.9 -64.4 252.9 -65.3 252.9 -66.2 252.9 -67.1 252.9 -68 252.9 -68.9 252.9 -69.8 252.9 -70.7 252.9 -71.6 252.9 -72.4 252.9 -73.3 252.9 -74.2 252.9 -75.1 252.9 -76 252.9 -76.9 252.9 -77.8 252.9 -78.7 252.9 -79.6 252.9 -80.5 252.9 -81.4 252.9 -82.3 252.9 -83.2 252.9 -84.1 252.9 -85 252.9 -85.9 252.9 -86.8 252.9 -87.7 252.9 -88.5 252.9 -89.4 252.9 -90.3 252.9 -91.2 252.9 -92.1 252.9 -93 252.9 -93.9 252.9 -94.8 252.9 -95.7 252.9 -96.6 252.9 -97.5 252.9 -98.4 252.9 -99.3 252.9 -100.2 252.9 -101.1 252.9 -102 252.9 -102.9 252.9 -103.8 252.9 -104.6 252.9 -105.5 252.9 -106.4 252.9 -107.3 252.9 -108.2 252.9 -109.1 252.9 -110 252.9 -110.9 252.9 -111.8 252.9 -112.7 252.9 -113.6 252.9 -114.5 252.9 -115.4 252.9 -116.3 252.9 -117.2 252.9 -118.1 252.9 -119 252.9 -119.9 252.9 -120.7 252.9 -121.6 252.9 -122.5 252.9 -123.4 252.9 -124.3 252.9 -125.2 252.9 -126.1 252.9 -127 252.9 -127.9 252.9 -128.8 252.9 -129.7 252.9 -130.6 252.9 -131.5 252.9 -132.4 252.9 -133.3 252.9 -134.2 252.9 -135.1 252.9 -136 252.9 -136.8 252.9 -137.7 252.9 -138.6 252.9 -139.5 252.9 -140.4 252.9 -141.3 252.9 -142.2 252.9 -143.1 252.9 -144 252.9 -144.9 252.9 -145.8 252.9 -146.7 252.9 -147.6 252.9 -148.5 252.9 -149.4 252.9 -150.3 252.9 -151.2 252.9 -152.1 252.9 -152.9 252.9 -153.8 252.9 -154.7 252.9 -155.6 252.9 -156.5 252.9 -157.4 252.9 -158.3 252.9 -159.2 252.9 -160.1 252.9 -161 252.9 -165.3 251.5 -169.6 250.1 -173.9 248.6 -178.1 247.1 -182.4 245.6 -186.7 244.1 -190.9 242.5 -195.2 240.8 -199.4 239.1 -203.7 237.4 -207.9 235.7 -212.1 233.9 -216.3 232.1 -220.5 230.2 -224.6 228.4 -228.8 226.4 -232.9 224.5 -237 222.5 -241.1 220.5 -245.1 218.4 -249.1 216.3 -249.2 216.3 -248.4 216.1 -247.2 216 -246 215.8 -244.8 215.7 -243.6 215.6 -242.4 215.4 -241.2 215.3 -240 215.1 -238.8 215 -237.6 214.9 -237.6 214.8ZM154.5 121.3L155.4 119.1 156.4 116.9 157.4 114.7 158.2 112.3 158.9 109.9 159.7 107.5 161.4 105.4 163.1 103.3 164.4 100.9 165.6 98.5 166.8 96.2 166.9 96.2 166.9 96.1 167.8 93.3 168.7 90.4 169.6 87.5 170.3 85.6 171 83.7 171.7 81.7 172.7 79.3 173.8 76.9 174.8 74.5 175.5 71.8 176.2 69 176.8 66.5 177.4 64.1 178 61.6 178.5 59.1 178.8 56.6 179.1 54.2 179.1 54.1 178 52.3 176.9 50.6 175.4 49.1 173.9 47.6 172.2 46.1 170.5 44.6 168.8 43.1 168.1 41.2 167.4 39.3 166.6 37.1 165.8 34.9 165 32.5 164.2 30 163.4 27.6 162.5 25.1 161.5 22.6 160.6 20.9 159.7 19.1 158.7 17.4 158.3 15.5 157.7 13.6 158.9 11.7 160.1 9.9 160.2 9.9 160.2 9.8 160.9 7.4 160.9 7.3 160.8 7.3 160.8 7.2 158.8 6.4 159.3 3.9 159.8 1.5 159.8 1.4 160.4 -0.6 161 -2.6 162.1 -3.2 163.2 -3.8 163.3 -3.8 163.7 -5.2 164.3 -7.6 165.4 -9.3 166.5 -11 166.5 -11.1 166.6 -11.1 166.6 -13.5 166.6 -16 166.4 -17.7 166.2 -19.5 165.9 -21.1 165.9 -21.2 165.8 -21.2 165 -21.2 163.8 -23.4 162.5 -25.7 162.4 -25.7 162.3 -25.7 161.4 -23.7 160.4 -21.8 158.6 -22.2 156.9 -22.6 155.1 -23.3 153.4 -24 152 -25.4 150.6 -26.9 149.2 -28.3 147.9 -29.9 146.5 -31.4 146.5 -31.5 145.6 -33 144.7 -34.6 144.6 -34.6 143.2 -36 141.7 -37.4 141.7 -37.5 140.1 -38.1 138.6 -38.8 137.1 -39.2 135.5 -39.6 134 -39.9 132.5 -40.8 131.1 -41.6 129.5 -43.6 127.8 -45.6 126.1 -46 124.4 -46.4 124.3 -46.4 122.7 -45.7 121.1 -44.9 119.5 -45.5 118 -46 116.4 -46.6 114.6 -47.4 112.9 -48.2 111 -49.4 109.1 -50.5 107.2 -51.6 105.3 -52.7 103.4 -53.8 102.1 -55.2 100.9 -56.6 99.6 -58 99.7 -59.6 99.7 -61.1 99.7 -61.2 98.8 -62.8 97.8 -64.4 96.8 -65.9 96.8 -66 95.4 -67.6 94.1 -69.3 92.7 -71 91.4 -72.6 90.2 -74.2 88.9 -75.8 87.2 -77.4 85.4 -79.1 83.8 -80.9 82.2 -82.7 82.2 -82.8 81 -84.4 79.9 -86.1 78.8 -87.8 78.7 -87.8 77.3 -88.8 75.9 -89.8 75.9 -89.9 75.8 -89.9 75.8 -89.8 75.8 -89.7 76.3 -87.3 76.9 -85 76.9 -84.9 77 -84.9 78.2 -83.5 79.4 -82.1 80.7 -80.7 81.6 -78.9 82.5 -77 83.5 -75.1 84.8 -73 86.1 -70.8 87.4 -68.7 87.4 -68.6 88.7 -67 90 -65.3 88.9 -65 87.6 -66.5 86.4 -68 85.1 -69.5 84.2 -70.9 83.3 -72.3 81.8 -73.7 80.4 -75.1 78.9 -76.5 78.2 -77.9 77.5 -79.3 76.2 -81.5 74.9 -83.8 73.8 -85.8 72.7 -87.9 71.6 -89.9 70.9 -91.2 70.3 -92.4 70.3 -92.5 70.2 -92.5 68.8 -94.3 67.3 -96.1 67.2 -96.1 65.6 -96.6 64 -97.2 62.4 -97.7 61.3 -99.6 60.2 -101.4 59.1 -103.3 58.2 -105 57.4 -106.7 56.3 -108.3 55.3 -109.8 54.2 -111.4 53.4 -112.7 52.7 -113.9 52.6 -116.2 52.5 -118.4 52.4 -120.3 52.2 -122.2 52.1 -124.1 51.9 -126.1 51.7 -128.2 51.5 -130.2 51.5 -130.3 51.4 -130.3 50.7 -132.3 50 -134.4 49.2 -136.4 50.9 -136.2 52.5 -136 52.6 -136 52.6 -136.1 52.3 -138.1 52.3 -138.2 50.9 -139.6 49.6 -141 48.2 -142.3 48.2 -142.4 46.4 -142.8 44.6 -143.2 42.9 -143.7 42.1 -145.7 41.4 -147.8 41.4 -147.9 41.3 -147.9 39.9 -149.3 38.5 -150.6 37.1 -152 35.6 -153.9 34.2 -155.7 32.8 -157.6 31.3 -159.4 29.9 -161.3 28.5 -163.1 28.5 -163.2 27 -163.4 25.5 -163.7 24 -163.9 24 -164 22.6 -164.9 21.2 -165.9 19.8 -166.9 18.4 -167.8 16.8 -168 15.3 -168.2 13.7 -168.4 12.2 -168.6 10.7 -169.2 9.1 -169.7 7.6 -170.3 6.1 -170.8 6.1 -170.9 6 -170.9 6 -170.8 4.9 -170.4 3.8 -169.9 2.6 -169.4 1.3 -168.2 0 -166.9 -1.6 -166.6 -3.2 -166.4 -2.9 -168.3 -2.6 -170.2 -2.6 -170.3 -2.7 -170.3 -2.7 -170.4 -2.8 -170.4 -2.8 -170.3 -3.9 -169 -5 -167.7 -6.2 -166.4 -6.2 -166.3 -7.1 -164.7 -8 -163 -9.3 -161.9 -10.5 -160.8 -11.7 -159.6 -13.3 -158.7 -14.8 -157.8 -16.4 -156.9 -17.8 -156.3 -19.2 -155.8 -20.6 -155.2 -22.1 -154.7 -22.1 -154.6 -23.8 -154.1 -24.1 -153.6 -25.3 -152.6 -26.7 -152.2 -27.3 -152.6 -26.8 -153.5 -25.6 -154.5 -24.7 -154.8 -23.3 -155.8 -21.8 -156.8 -20.4 -157.8 -19 -158.8 -17.4 -160.2 -15.8 -161.6 -14.3 -163 -13.4 -163.9 -12.6 -164.7 -12.6 -164.8 -12.6 -164.9 -12.6 -165 -12.7 -165 -14.3 -165.1 -16 -165.2 -17.7 -165.3 -18.8 -166.3 -19.9 -167.4 -20.9 -168.4 -21 -168.4 -22.4 -169 -23.7 -169.6 -25.1 -170.1 -25.1 -170.2 -25.7 -171.6 -26.2 -173 -25.3 -175.1 -24.4 -177.2 -22.9 -177.5 -21.4 -177.8 -19.9 -178.2 -18.4 -178.5 -18.4 -178.6 -17.8 -181.2 -17.8 -181.3 -17.9 -181.3 -19.1 -181.3 -20.3 -181.3 -21.4 -181.4 -22.7 -181.4 -24 -181.5 -25.4 -181.6 -26.7 -181.7 -27.8 -182.8 -29 -184 -29.2 -184.5 -29.2 -184.6 -28.1 -185.1 -26.9 -185.6 -25.8 -186.2 -25.7 -186.2 -24.6 -186.6 -23.5 -186.9 -22.4 -187.3 -21 -186.7 -19.6 -186.1 -19.5 -186.1 -19.5 -186.2 -19.5 -186.3 -20.6 -187.5 -21.8 -188.7 -23 -190 -24.1 -191.2 -25.1 -192.5 -26 -193.8 -24.6 -194.4 -23.2 -195 -21.9 -195.6 -20.6 -196.2 -20.6 -196.3 -19.3 -196.9 -18 -197.6 -16.5 -198.2 -15 -198.7 -13.5 -199.3 -12.2 -199.6 -11 -200 -9.8 -200.4 -8.5 -200 -7.3 -199.6 -6 -199.2 -4.5 -199.1 -3 -198.9 -1.8 -198.7 -0.6 -198.4 0.6 -198.1 1.8 -197.8 3 -197.5 4.2 -197.4 5.4 -197.3 6.7 -197.2 7.9 -197.1 9.1 -197 10.3 -196.7 11.4 -196.3 12.6 -196 13.8 -195.6 14.9 -195.2 16.1 -194.8 17.3 -194.4 18.5 -194 19.7 -194.2 20.8 -194.4 21.9 -194.6 23 -194.9 24 -195.1 25 -195.3 26 -195.5 27.2 -195.8 28.4 -196.1 29.5 -196.4 30.7 -196.7 31.9 -197 33.1 -196.7 34.4 -196.5 35.7 -196.2 36.9 -195.9 38.2 -195.7 39.4 -195.9 40.6 -196.1 41.8 -196.3 42.9 -196.5 44.1 -196.7 45.4 -196.2 46.8 -195.7 48.2 -195.2 49.5 -194.8 50.9 -194.3 52.2 -193.8 53.5 -193.4 54.8 -192.9 56.1 -192.5 57.7 -192.4 59.3 -192.3 60.9 -192.2 62.5 -192.1 63.3 -192.6 64.2 -193.1 65.1 -193.6 66.1 -194 66.1 -194.1 66 -194.2 65 -194.3 64 -194.4 62.6 -194.5 61.2 -194.6 59.7 -194.6 58.3 -194.7 56.9 -194.8 55.5 -195 54 -195.2 52.5 -195.5 51.1 -195.7 49.6 -196 48.5 -197.3 47.3 -198.7 48.4 -199.6 49.5 -200.6 49.5 -200.7 49.5 -200.8 49.4 -200.8 48.2 -201.1 46.9 -201.5 45.7 -201.8 46.4 -202.8 47.1 -203.9 47.7 -204.9 48.7 -205.5 49.7 -206.1 50.7 -206.7 52.1 -206.4 53.5 -206.1 54.9 -205.8 56.3 -205.5 57.7 -205.2 58.7 -205.8 59.7 -206.4 60.6 -207 62 -205.8 63.4 -204.6 64.8 -203.4 66.3 -202.1 67.8 -201.5 69.3 -200.9 70.8 -200.3 72.5 -199 74.2 -197.6 74.4 -195.4 73.1 -194.9 71.8 -194.4 70.5 -193.8 70.5 -193.7 70.5 -193.6 70.6 -193.6 72.1 -193 73.6 -192.5 75 -192 75.1 -192 76.6 -192.1 78.1 -192.1 79.7 -192.2 81.2 -192.3 82.1 -192.7 82.9 -193.1 83.8 -193.5 84.1 -195.4 84.3 -197.2 84.3 -197.3 84.2 -197.3 82.9 -199.1 81.5 -200.9 80.1 -202.7 80.4 -203.4 80.8 -204.1 82.6 -202.8 84.4 -201.5 85.9 -200.1 87.3 -198.8 88.8 -197.5 88.8 -197.4 90.6 -196.1 92.5 -194.8 93.8 -194.4 95 -194 96.3 -193.6 97.6 -193 98.9 -192.4 100.3 -191.8 100.3 -191.9 99.8 -194.2 99.3 -196.5 98.7 -198.8 98.7 -198.9 98.6 -198.9 98.6 -199 98.5 -199 98.5 -199.1 97 -199.1 95.4 -199.2 93.4 -200.6 91.3 -202 89.3 -203.4 89.9 -204.5 90.4 -205.5 90.9 -206.6 91.4 -207.6 91.9 -208.6 93 -208.8 94.1 -208.9 95.2 -209.1 96.3 -209.3 97.4 -209.4 98.5 -209.6 100.2 -208.7 102 -207.9 103.8 -207.1 105.4 -206.6 107 -206.1 108.6 -205.7 110.2 -205.2 112 -204.4 113.9 -203.5 115.7 -202.7 117.2 -202.2 118.6 -201.8 120.1 -201.3 121.6 -200.8 123.3 -199.5 125.1 -198.2 126.8 -197 126.8 -196.9 128.6 -196.1 130.3 -195.3 132.1 -194.5 133.9 -193.7 135.4 -193.3 136.9 -192.8 138.4 -192.4 138 -191.3 137.7 -190.2 137.3 -189.1 137.5 -187.7 137.6 -186.2 136.8 -185.5 135.9 -184.7 135.1 -184 134.2 -183.2 134.2 -183.1 134.3 -183.1 134.3 -183 134.4 -183 135.9 -182.6 137.4 -182.3 138.9 -182 141.2 -180.1 143.5 -178.3 141.9 -178.4 140.2 -178.6 138.9 -178.9 137.6 -179.2 136.3 -179.5 134.8 -179.8 133.3 -180.1 131.9 -180.5 130.4 -180.8 128.3 -181.8 126.3 -182.8 124.2 -183.8 122.1 -184.8 120.6 -184.7 119.2 -184.6 117.7 -184.5 117.6 -185.8 117.5 -187.1 118.6 -187.3 119.8 -187.5 120.9 -187.8 122.1 -188 122.1 -188.1 121.5 -189.8 120.8 -191.5 120.8 -191.6 120.7 -191.6 120.7 -191.7 120.6 -191.7 118.8 -192.2 117.1 -192.7 115.3 -193.3 113.6 -193.7 112 -194.1 110.4 -194.5 108.8 -194.9 107.1 -197 105.4 -199.1 105.3 -199.1 105.3 -199.2 105.2 -199.2 103.8 -199.1 102.3 -199 100.9 -198.9 99.9 -199 98.8 -199 98.8 -198.9 98.9 -198.8 99 -198.8 100.5 -198.5 102.1 -198.2 103.7 -196.1 105.3 -194.1 105.4 -194.1 106 -191.7 106.5 -189.3 105 -189.1 103.5 -188.9 102 -188.8 102 -188.7 102.3 -187.4 102.5 -186.2 102.5 -186.1 102.6 -186 102.7 -186 103.4 -186.9 104.2 -187.7 105.6 -187.4 107 -187 106.4 -185.7 105.9 -184.3 105.3 -182.9 105.3 -182.8 105.4 -182.8 105.4 -182.7 105.5 -182.7 107 -182.8 108.6 -182.8 110.1 -182.9 111.7 -183 113.2 -183.1 115 -182.4 113.9 -181.5 112.7 -180.7 111.6 -179.9 110 -180.2 108.3 -180.5 106.7 -180.9 105.1 -181.2 104 -182.7 103 -184.2 102.9 -184.2 102.9 -184.3 102.8 -184.3 102.8 -184.2 102.9 -184 102 -183.4 101.2 -182.9 100.4 -182.4 100.3 -182.4 99.8 -181.3 99.1 -180.2 98.5 -179.2 97.9 -177.8 97.2 -176.4 96.6 -175 95.9 -173.6 95.8 -173.6 95.9 -173.6 96.2 -171.7 96.4 -169.9 96.7 -168 96.8 -168 96.8 -167.9 98.8 -166.1 100.9 -164.3 102.9 -162.6 102.9 -162.5 103 -162.5 104.4 -162.6 105.9 -162.7 107.3 -162.7 109.1 -162 110.9 -161.3 112.7 -160.6 114.6 -159.9 116.4 -159.1 118.2 -158.4 119.9 -158.3 121.6 -158.2 123.3 -158.1 124.2 -156.2 125.1 -154.2 126 -152.3 126 -152.2 126.1 -152.2 127.7 -150.9 129.4 -149.5 131 -148.9 132.7 -148.3 132.7 -148.4 132.7 -149.7 132.6 -151.1 132.6 -151.2 131.3 -154 129.9 -156.8 130.5 -158.1 131.1 -159.5 131.6 -160.9 131.6 -161 131 -163.2 130.3 -165.4 130.3 -165.5 130.2 -165.5 128.7 -166.8 127.2 -168.2 127.1 -168.2 125.6 -170.2 124.1 -172.3 123.4 -174.6 122.6 -176.8 123.6 -177.5 124.6 -178.3 125.6 -179 127 -178.7 128.5 -178.3 130 -178 131.4 -177.7 132.9 -177.1 134.4 -176.5 135.9 -176 137.2 -174.2 138.6 -172.3 139.9 -170.5 140 -170.5 140 -170.4 141.7 -169.8 143.3 -169.2 143.4 -169.2 144.8 -169.8 146.2 -170.3 146.2 -170.4 146.2 -171.8 146.2 -173.2 146.1 -174.7 147.7 -173.1 149.3 -171.4 150.9 -169.8 151 -169.8 153.2 -168 155.5 -166.3 157.7 -164.5 157.8 -164.5 159.9 -163.2 162 -161.9 162.1 -161.9 164.1 -161 166.1 -160.2 168.1 -159.4 170.3 -158.1 172.4 -156.8 174 -154.7 175.5 -152.6 174.3 -151.6 173.2 -150.7 173.2 -150.6 172.3 -149.4 171.4 -148.1 170.5 -146.9 168.6 -146.8 166.8 -146.6 165 -146.5 163.1 -146.4 161.7 -146.1 160.2 -145.8 158.8 -145.5 158 -144.5 157.2 -143.4 156.4 -142.4 155.8 -140.9 155.2 -139.5 154.6 -138 154.5 -138 154.5 -137.9 154.6 -137.9 154.6 -137.8 156 -136.6 156.1 -136.6 156.7 -138.1 157.4 -139.6 158 -141 159 -141.7 159.9 -142.3 160.9 -143 162.5 -142.8 164 -142.6 164.2 -141.3 164.3 -140 164.3 -139.9 166 -137.2 166 -137.1 167.3 -136.1 168.5 -135 168.6 -135 170.4 -134.5 172.3 -134 174.1 -133.6 174.2 -133.6 175.4 -134.3 174.5 -134.5 173.7 -135.3 173.7 -136.2 174.3 -136.5 175.3 -136.3 176 -135.5 176.1 -134.7 176.5 -134.9 176.1 -133.7 175.6 -132.5 174.3 -131.8 173 -131.1 171.6 -130.5 170.6 -129.3 169.6 -128.2 168.6 -127 168.7 -128.7 168.7 -130.4 168.8 -132.1 168.7 -132.2 168.7 -132.3 168.6 -132.3 167.3 -132.1 166 -131.9 165.3 -131.2 164.5 -130.6 163.1 -129.8 161.6 -129 160.7 -127.9 159.7 -126.8 159.7 -125.4 159.8 -124 159.8 -123.9 159.9 -123.8 161 -122.7 162.1 -121.7 161 -121.2 160 -120.7 158.9 -119.9 157.8 -119.2 158.1 -119.3 158.7 -119.1 158.4 -118.7 157.4 -118.2 156.4 -118 156.1 -118.1 155.7 -117.9 155.7 -117.8 155.9 -116.1 155.5 -114.5 155.1 -112.8 154.9 -111.5 154.7 -110.2 154.6 -108.8 154.5 -107.3 154.5 -107.2 155.6 -105.3 156.7 -103.3 156.1 -102 155.4 -100.6 154.1 -99.4 152.9 -98.2 151.9 -97.1 150.9 -96.1 150 -94.9 149 -93.7 148.1 -92.5 148.1 -90.2 148.1 -87.9 148.1 -87.8 149.1 -86 150.1 -84.2 151 -82.5 152.2 -80 153.3 -77.6 153.5 -75.6 153.7 -73.6 153.7 -73.5 152 -72.9 151 -74 150.1 -75.2 148.7 -77.3 147.3 -79.4 146.6 -81.6 146 -83.7 145.9 -83.7 145.9 -83.8 144.4 -85.1 142.8 -86.5 142.7 -86.5 141.2 -86 139.7 -85.6 138.1 -86.2 136.6 -86.8 135 -87.4 133.4 -87.2 131.9 -87.1 131.9 -87 131.8 -87 131.8 -85.1 131.7 -83.3 130.5 -83.4 129.3 -83.5 129.2 -83.5 127.5 -84.2 125.8 -84.9 125.7 -84.9 123.8 -84.6 121.9 -84.4 120 -84.1 118.9 -83 117.8 -81.8 116.7 -80.6 115.9 -79.2 115.2 -77.8 115.2 -77.7 115.4 -75.7 115.5 -73.7 115.7 -71.2 115.8 -68.6 116 -66.2 116.2 -63.8 116.2 -63.7 117.4 -61.4 118.7 -59.2 119.9 -56.9 121 -55 121 -54.9 122.9 -53.5 124.9 -52.2 124.9 -52.1 124.9 -52.2 126.4 -52.6 127.8 -53 129.3 -53.4 130.9 -53.7 132.5 -54 132.6 -54 132.6 -54.1 132.8 -56.2 133 -58.2 133.1 -60.3 134.8 -60.8 136.6 -61.4 138.3 -61.9 140.5 -61.9 140.2 -59.8 140 -57.6 139.8 -55.1 139.7 -52.7 139.7 -50.1 139.6 -47.5 139 -45.7 139 -45.6 139 -45.5 139.1 -45.5 141 -45.6 142.9 -45.7 144.7 -45.9 146.3 -45.8 147.8 -45.7 149.3 -45.6 150.3 -44.5 151.3 -43.4 151.4 -41 151.4 -38.5 151.4 -36.1 151.3 -34 151.3 -31.9 151.3 -31.8 152.2 -30.3 153 -28.9 153.1 -28.9 154.9 -27.2 156.7 -25.5 156.8 -25.5 158.5 -26.2 160.3 -27 162.5 -26.9 164.6 -26.7 166.3 -24.8 166.4 -24.8 166.5 -24.8 167.8 -26.1 169.1 -27.3 169.2 -27.4 169.6 -28.8 170.1 -30.3 171.5 -32.1 173.5 -32.5 175.5 -33 175.6 -33 176.6 -34.6 177.5 -36.2 179.5 -35.1 179.1 -32.6 179.1 -32.5 179.2 -32.5 179.2 -32.4 179.3 -32.4 179.3 -32.5 180.7 -34.1 182.1 -35.7 183.5 -33.7 185.3 -32.3 187.1 -30.9 187.1 -30.8 187.2 -30.8 189.5 -31 191.7 -31.2 194 -31.2 196.3 -31.3 198.5 -31.5 200.8 -31.6 201.8 -30.2 201.6 -30.8 201.8 -31.4 202.4 -31.7 203.1 -31.4 203.4 -30.8 203.2 -30.2 202.6 -29.9 201.9 -30.1 203.4 -28.1 204.1 -25.3 204.1 -25.2 204.2 -25.2 206.4 -24.6 208.1 -22.7 209.7 -20.8 211.5 -19.3 213.3 -17.9 213.4 -17.9 215.6 -17.7 217.9 -17.6 219.5 -17.3 221 -17 222.6 -16.8 223.8 -15.6 225 -14.4 226.1 -13.2 227.2 -12 228.1 -9.7 229 -7.4 229.9 -5.1 229.9 -3.4 229.9 -1.6 229.9 -1.5 230 -1.5 231.7 -0.4 233.4 0.6 234.5 2.1 234.6 2.1 236.1 2.4 237.6 2.7 239.1 3 240.4 4.5 241.7 6 242.9 7.5 242.9 7.6 243 7.6 244.7 7.9 246.5 8.2 248.2 8.5 250.5 8.5 252.8 8.5 254.5 9.9 256.1 11.3 257.8 13 259.4 14.7 261.3 15.7 263.2 16.6 263.6 19.4 263.9 22.1 263.9 22.2 263.4 24.9 262.9 27.7 261.3 29.6 259.6 31.4 257.9 33.3 256.3 35.2 256.2 35.2 254.8 37.5 253.3 39.7 252.6 41.7 251.9 43.7 251.2 45.8 251.1 45.8 250.5 48.3 249.9 50.8 249.2 53.3 248.4 55.3 247.6 57.3 246.8 59.3 246.8 59.4 244.9 61.7 243.5 64.3 242 66.8 240.5 68.2 239 69.7 237.8 69.5 236.5 69.3 234.6 69.9 232.8 70.6 230.8 71.4 228.8 72.2 228.8 72.3 227.2 73.7 225.5 75.1 223.9 76.5 223.9 76.6 222.7 78.3 221.6 80 221.5 80.1 220.5 82.7 219.5 85.3 219.5 85.4 217.5 87.5 215.5 89.7 213.9 91.4 212.2 93.1 210.5 94.8 208.9 96.4 207.3 98 205.6 99.6 204 101.3 202.3 103 200.6 103.2 199 103.4 197.5 103.3 196.2 102.3 194.8 101.4 193.5 102.1 193.4 102.1 193.4 102.2 193.4 102.3 194.2 103.3 195 104.4 194.4 107.2 194.4 107.3 194.7 107.9 193.1 110 191.4 112.2 189.5 113.1 187.6 114 185.8 114.2 184 114.4 182.2 114.6 180.9 114 180.8 114 180.8 114.1 180.7 114.1 180.2 115.7 179.7 117.4 178.2 118.9 176.8 120.5 175 119.9 173.3 119.4 173.2 119.4 173.1 119.5 173.1 119.6 172.5 121.4 172 123.3 172 123.4 172.9 124.2 173.7 125 171.8 125.4 171.8 125.5 171.7 125.5 169.9 127.7 168.2 130 166.7 130.6 165.3 131.2 165.3 131.3 165.2 131.3 163.7 132.6 162.1 133.9 162.1 134 161.3 135.3 161.3 135.4 162.2 136.9 163.1 138.4 161.5 139.8 159.9 141.2 158.3 142.5 156.6 144 154.9 145.5 154.9 145.6 153.5 147.6 152 149.6 152 149.7 151.9 149.8 151.9 152 151.9 152.1 151.8 152.1 151.7 152.1 151.7 152.2 151.6 152.2 151.6 152.3 151.8 153.8 152 155.3 152.3 156.3 152.7 157.4 153.5 158.2 154.2 158.9 152.9 159.3 151.5 159.6 151.4 159.6 150.1 160.8 148.7 162 148.1 160.8 147.1 160.3 146.2 159.7 145.3 159.2 144.1 158.6 142.8 158.1 141.6 157.5 142.8 156.8 144 156.2 144.1 156.2 144.8 155.6 144.8 155.5 144.9 155.5 144.9 155.4 144.8 155.4 143.8 154.6 142.8 153.9 141.8 153.1 141.9 151 142 148.8 142.6 146.6 143.1 144.5 143.7 142.4 144.2 140.2 144.8 138.3 145.5 136.4 146.1 134.5 147.6 133.1 149.1 131.8 149.2 131.7 150.2 129.9 151.3 128 152.3 126.1 152.8 125.1 152.6 124.7 152.9 123.5 153.5 122.3 154.1 121.8 154.1 122 154.5 121.3ZM-71.1 51.2L-72 51.6 -73 51.2 -73.5 50.3 -73.1 49.4 -72.2 49.1 -71.2 49.4 -70.8 50.3 -71.1 51.2ZM-68.2 46.9L-69.3 47.7 -70.6 48 -71.2 47.7 -71 46.9 -69.9 46.1 -68.6 45.8 -67.9 46.1 -68.2 46.9ZM136.2 2.7L135.4 3.2 134.6 2.7 134.3 1.7 134.6 0.7 135.4 0.3 136.2 0.7 136.6 1.7 136.2 2.7ZM162 -52.9L161.9 -52.9 161.2 -53.4 162.7 -53.3 164.2 -53.1 165.8 -52.9 164.8 -52 163.4 -52.4 162 -52.9ZM-11.2 -54.2L-12.8 -53.1 -13.5 -54.8 -13.2 -56.8 -12.2 -56.1 -11.2 -55.4 -11.2 -54.2ZM-13.5 -58L-14.1 -57.8 -14.7 -58 -15 -58.5 -14.7 -59 -14.1 -59.2 -13.5 -59 -13.2 -58.5 -13.5 -58ZM-17.3 -59.9L-17.9 -59.7 -18.4 -59.9 -18.6 -60.4 -18.4 -60.9 -17.8 -61.1 -17.3 -60.9 -17.1 -60.4 -17.3 -59.9ZM154.2 -66.6L156.1 -65.8 157.9 -65 159.7 -64.1 161.5 -63.3 163.5 -62.2 165.5 -61.1 167.6 -60 169.6 -58.9 168.2 -58.4 166.8 -57.9 165.2 -57.9 163.5 -57.8 161.9 -57.8 160.9 -59.8 159 -61.2 157.1 -62.6 155.6 -63.2 154 -63.7 152.4 -64.2 150.8 -63.9 149.2 -63.6 147.6 -63.2 145.9 -62.9 144.8 -63.2 145.7 -64.4 146.6 -65.5 148 -66.1 149.4 -66.6 150.8 -67.1 152.5 -66.8 154.2 -66.6ZM-20.7 -61.5L-21.2 -61.3 -21.7 -61.5 -21.8 -62 -21.6 -62.5 -21.2 -62.7 -20.7 -62.5 -20.5 -62 -20.7 -61.5ZM159.6 -69.2L158.7 -69.1 158.1 -70.2 158.1 -71.8 158.8 -73 159.7 -73.1 160.3 -72 160.3 -70.4 159.6 -69.2ZM160.3 -76.8L159.4 -76.6 158.5 -76.8 158 -77.2 158.3 -77.6 159.2 -77.8 160.2 -77.6 160.6 -77.3 160.3 -76.8ZM50.2 -139L51.1 -137.7 52 -136.5 50.2 -137.2 48.5 -137.8 46.7 -138.9 45 -140 43.2 -141.1 42.2 -142.1 41.2 -143.1 42.6 -142.8 44 -142.6 45.3 -142 46.7 -141.5 48 -140.9 49.1 -140 50.2 -139ZM-59.4 -145.3L-60.8 -145.4 -61.9 -146.1 -62.3 -146.8 -61.6 -147.2 -60.2 -147.1 -59.1 -146.5 -58.7 -145.7 -59.4 -145.3ZM-48.5 -146L-50.2 -145.6 -51.8 -145.7 -52.4 -146.1 -51.7 -146.6 -50 -147 -48.4 -147 -47.8 -146.6 -48.5 -146ZM-41.2 -147.1L-42.4 -146.6 -43.6 -146.5 -44.1 -146.9 -43.6 -147.5 -42.4 -148 -41.2 -148.1 -40.7 -147.7 -41.2 -147.1ZM-34.5 -148.8L-35.6 -148.2 -36.7 -148 -37.1 -148.3 -36.7 -149 -35.7 -149.6 -34.6 -149.8 -34.1 -149.5 -34.5 -148.8ZM33.6 -147.3L32.9 -146.8 32.5 -147.8 32.6 -149.8 33 -151.6 33.6 -152.1 34.1 -151 34 -149.1 33.6 -147.3ZM-29 -151.8L-30.5 -150.7 -32.1 -150.2 -32.9 -150.5 -32.3 -151.5 -30.8 -152.6 -29.2 -153.1 -28.4 -152.8 -29 -151.8ZM-4.8 -162.3L-5.8 -160.6 -7 -159.5 -7.8 -159.6 -7.7 -160.9 -6.8 -162.6 -5.5 -163.7 -4.7 -163.6 -4.8 -162.3ZM-40 -201.1L-40.9 -200.5 -41.7 -200 -43 -200.2 -44.3 -200.3 -45.5 -200.5 -46.8 -200.7 -45.8 -201.5 -44.5 -201.6 -43.3 -201.6 -42 -201.7 -41 -201.4 -40 -201.1ZM77.9 -205.4L77.7 -204.4 77.5 -203.4 76.3 -203.5 75.1 -203.5 73.9 -203.6 72.7 -203.7 71.5 -203.7 69.9 -204.7 68.4 -205.6 68.6 -206.7 68.8 -207.9 70 -208.1 71.1 -208.4 72.2 -208.6 73.3 -208.9 74.8 -207.7 76.4 -206.6 77.9 -205.4ZM44.6 -210.2L45.9 -209.2 47.1 -208.2 48.4 -207.2 47.5 -206.1 46.6 -205 45.6 -203.9 44.7 -202.9 43.8 -202.1 42.9 -201.4 41.5 -201.6 40.1 -201.7 38.8 -201.8 37.4 -202 36 -202.1 35.9 -204.5 35.6 -206.9 36.4 -207.7 37.2 -208.4 37.9 -209.2 39 -209.3 40.2 -209.5 41.3 -209.7 42.4 -209.8 43.5 -210 44.6 -210.2ZM84.4 -204.3L83.1 -204.6 81.9 -204.9 80.6 -205.2 79.4 -205.5 78.1 -207.3 76.8 -209 77.9 -209.3 79 -209.6 80.1 -209.8 81.1 -210.1 82.7 -209.3 84.2 -208.5 84.3 -207.1 84.3 -205.7 84.4 -204.3ZM72.2 -213.6L71.1 -213.4 70 -213.2 68.9 -213 67.7 -212.8 66.6 -212.6 65.7 -214.3 64.8 -216.1 65.9 -216.2 67 -216.4 68.2 -216.5 69.3 -216.6 70.7 -215.1 72.2 -213.6ZM56.2 -215.8L57.3 -215.3 58.5 -214.8 59.6 -214.3 60.8 -213.2 59.6 -213 58.5 -212.8 57.3 -212.6 56.2 -212.4 55 -212.2 53.8 -212.2 52.6 -212.3 51.4 -212.4 50.2 -212.5 49 -212.6 47.8 -212.7 46.5 -212.8 45.8 -215 46.7 -215.3 47.7 -215.6 48.7 -215.9 49.6 -216.2 50.6 -216.5 51.7 -216.4 52.8 -216.2 54 -216.1 55.1 -216 56.2 -215.8ZM39.2 -214.3L38 -215.4 36.8 -216.5 35.6 -217.6 36.6 -217.8 37.6 -217.9 38.6 -218.1 39.6 -218.3 40.6 -218.5 41.9 -217.3 43.1 -216.1 44.4 -215 43.4 -214.8 42.4 -214.7 41.3 -214.5 40.3 -214.4 39.2 -214.3ZM89.6 -217.2L89.6 -217.3 89.5 -217.3 89.5 -217.4 89.5 -217.5 89.4 -217.5 88.1 -217.7 86.8 -217.9 85.5 -218.1 84.2 -218.4 82.7 -219.1 81.2 -219.9 79.7 -220.7 78.2 -221.4 76.9 -221.9 75.6 -222.4 74.3 -222.9 73.1 -223.4 71.7 -224.1 70.4 -224.7 69 -225.4 67.7 -226 67.8 -226.2 67.8 -226.3 67.7 -226.3 67.7 -226.4 67.6 -226.4 67.6 -226.5 66.6 -226.8 67 -227.8 67.4 -228.7 67.8 -229.6 68.9 -229.4 69 -229.7 69.7 -230.1 70.4 -230.5 71 -230.9 71.7 -231.3 72.3 -231.7 73.2 -232 74.1 -232.2 75 -232.5 75.9 -232.7 76.8 -233 77.7 -233.2 78.6 -233.5 79.4 -233.7 80.3 -234 81.2 -234.2 82 -234.5 82.9 -234.7 83.7 -235 84.5 -235.2 85.6 -235.2 86.7 -235.1 87.7 -235.1 88.8 -235 89.8 -235 90.9 -234.9 91.9 -234.9 93 -234.8 94.1 -234.8 95.2 -234.6 96.4 -234.4 97.6 -234.2 98.8 -234 100 -233.7 101.2 -233.5 101.1 -232.9 100.9 -232.3 100.8 -231.6 100.6 -230.8 100.3 -230.1 100.1 -229.3 99.8 -228.5 99.5 -227.7 99.1 -226.9 98.8 -226.1 98.2 -225.5 97.6 -224.9 96.9 -224.3 96.3 -223.7 95.6 -223.1 95.2 -222.4 94.7 -221.7 94.2 -221 93.6 -220.2 93.1 -219.5 92.5 -218.8 92.5 -218.7 93.3 -216.9 91.9 -217.1 90.5 -217.3 90.5 -217.2 90.6 -217.2 90.6 -217.1 90.7 -217.1 92.1 -216.3 93.4 -215.5 94.8 -214.7 96.8 -212 95.4 -211.9 94.1 -211.8 92.8 -211.6 91.5 -211.5 90.2 -211.4 88.8 -211.3 87.6 -211.4 86.3 -211.5 85.1 -211.6 83.8 -211.7 82.5 -211.8 81.3 -211.9 80 -212 78.7 -212.3 77.4 -212.7 76.1 -213 74.9 -213.3 73.6 -213.7 74.2 -214.4 74.9 -215.2 75.5 -215.9 76.2 -216.7 76.8 -217.5 77.9 -217.3 79.1 -217.2 80.2 -217.1 81.4 -217 82.5 -216.9 83.7 -216.9 84.9 -217 86 -217.1 87.2 -217.1 88.4 -217.2 89.6 -217.2ZM204.8 164L204 162.9 203.6 161.5 203.9 160.4 204.7 160.4 205.6 161.5 205.9 162.9 205.6 164 204.8 164ZM169.4 153L168 152.8 166.5 152.5 166 150.7 166.6 149.6 167.9 149.8 169.3 150 170.6 150.2 171.5 150.7 172.3 151.2 170.9 152.1 169.4 153ZM300.5 -57.2L299.7 -59.5 298.8 -61.8 298.8 -61.9 298.7 -61.9 297.1 -64.2 295.4 -66.5 295.3 -69.3 295.1 -72.2 295 -75 295 -75.1 295.1 -77.6 295.3 -80.2 295.3 -82.8 295.6 -84.5 295.8 -86.2 296 -87.9 296 -88 297.5 -88.9 298.9 -89.8 299.2 -92.2 299.5 -94.6 299.7 -97 299.1 -99.3 298.5 -101.6 297.9 -103.9 297.3 -106.2 298.4 -107.4 299.4 -108.7 299.5 -108.7 298.8 -111.6 298 -114.4 299 -114.8 301 -114.4 303 -114 304.9 -113.6 306.9 -113.1 307 -113.1 307 -113.2 307.8 -114.1 308.6 -115.1 309.3 -116.1 310.3 -116.9 311.3 -117.8 312.3 -118.7 313.3 -119.6 315.3 -119.7 317.3 -119.8 318.9 -120.2 320.5 -120.5 322.1 -120.9 323.7 -121.3 324.9 -122 326.1 -122.7 328 -122.3 328 -121 328 -120.9 328.1 -120.9 328.1 -120.8 330.1 -118.8 332.2 -116.7 332.8 -114.5 333.3 -112.2 333.4 -112.2 333.4 -112.1 333.5 -112 335.4 -111.1 337.3 -110.2 337.4 -110.2 339.2 -110.1 341.1 -110 342.8 -109.6 344.5 -109.1 346.2 -108.6 348 -107.2 349.8 -105.7 349.8 -105.6 349.9 -105.6 351.6 -105.4 353.4 -105.1 355.5 -104.2 357.7 -103.2 357.8 -103.2 357.8 -103.3 358.1 -104.5 358.5 -105.7 358.5 -105.8 358.4 -105.9 356.2 -109 356.7 -110.6 357.2 -112.3 358.9 -112 360.7 -111.8 362.9 -110.9 365 -110.1 367.1 -109.2 367.2 -109.2 369.4 -108.8 371.7 -108.4 373.9 -108.1 375 -108.6 376 -109.1 377.1 -109.7 379.3 -106.4 381.5 -103.1 383.6 -99.8 385.7 -96.4 387.7 -93.1 389.6 -89.7 391.4 -86.3 393.2 -82.9 394.9 -79.5 396.5 -76.1 398.1 -72.6 399.6 -69.2 401 -65.7 402.3 -62.2 403.6 -58.7 404.8 -55.2 405.9 -51.7 407 -48.2 408 -44.6 408.9 -41.1 409.7 -37.6 410.5 -34 411.2 -30.4 411.8 -26.9 412.3 -23.3 412.7 -19.7 413.1 -16.1 413.4 -12.6 413.7 -9 413.8 -5.4 413.9 -1.8 413.9 1.8 413.8 5.4 413.7 9 413.4 12.6 413.1 16.1 412.7 19.7 412.3 23.3 411.8 26.9 411.2 30.4 410.5 34 409.7 37.6 408.9 41.1 408 44.6 407 48.2 405.9 51.7 404.8 55.2 403.6 58.7 402.3 62.2 401 65.7 399.6 69.2 398.1 72.6 396.5 76.1 394.9 79.5 393.2 82.9 391.4 86.3 389.6 89.7 387.7 93.1 385.7 96.4 383.6 99.8 381.5 103.1 379.3 106.4 377.1 109.7 374.4 111.3 371.8 112.9 369.1 114.6 366.9 115.4 364.7 116.2 362.4 117.1 360.7 116.8 359 116.5 357.3 116.3 355.6 116 353.7 116.6 351.9 117.3 350 117.9 349.2 116.8 348.3 115.6 350 112.7 351.7 109.8 353.3 106.8 354.1 104.4 354.8 101.9 355.4 99.5 356 97 356.1 95.2 356.2 93.3 356.2 91.5 357.3 88.8 358.4 86.1 359.4 83.3 360.4 80.6 361.3 77.9 361.3 77.8 361.6 75.3 361.8 72.9 362 70.4 362.1 67.9 362.3 64.8 362.5 61.8 362.6 58.7 363.5 56 364.6 53.5 365.7 51 366.8 48.5 367.9 46 369.5 43.2 371.1 40.5 372.7 37.7 372.7 37.6 372.8 37.6 372.8 35.3 372.9 33.1 372.9 30.8 372.8 29.1 372.8 27.4 372.5 25.2 372.3 23 372 20.8 371.9 19 371.7 17.1 371.7 17 370.8 14.5 369.8 11.9 368.8 10.2 367.7 8.5 367 6.4 366.3 4.4 365.6 2.4 366.1 0.3 366.5 -1.7 366.8 -4 367 -6.2 367.3 -8.5 367.2 -8.5 366.8 -10.8 366.3 -13.2 366.3 -13.3 366.2 -13.3 365.1 -14.2 363.9 -15.2 363.8 -15.2 362.1 -15 360.4 -14.8 359.3 -14.6 358.2 -14.4 357.5 -16.1 356.7 -17.8 355.4 -19.4 354.1 -21 354.1 -21.1 351.8 -21.2 349.5 -21.3 347.7 -20.4 345.9 -19.4 344 -18.5 342.6 -17.6 341.1 -16.7 339.7 -15.8 338.1 -16.2 336.6 -16.6 335 -17 333.3 -16.8 331.6 -16.6 330.1 -15.9 328.6 -15.1 327.2 -14.3 325.6 -15.2 324 -16.2 322.4 -17.1 320.5 -19.2 318.6 -21.3 318.5 -21.3 316.7 -22.5 314.8 -23.8 314 -26 313.1 -28.2 312.2 -30.4 312.1 -30.4 312.1 -30.5 310.6 -31.9 309.1 -33.4 307.6 -34.8 306 -36.2 304.4 -37.7 302.8 -39.1 302.6 -41.3 302.6 -41.4 301.1 -44 299.7 -46.6 300.4 -48.7 301 -50.8 300.9 -52.9 300.7 -55 300.5 -57.1 300.5 -57.2ZM285.9 -48.4L284.7 -47.9 283.3 -48.3 282.6 -49.4 282.9 -50.5 284 -51 285.4 -50.6 286.2 -49.5 285.9 -48.4ZM186.3 -52.9L186 -54.3 187.8 -54.2 189.7 -54.1 189.4 -52.9 187.8 -52.9 186.3 -52.9ZM183.3 -54.5L181.7 -54.2 180 -53.9 178.6 -52.7 177.2 -51.5 175.8 -52.3 174.3 -53.1 172.1 -53.4 169.9 -53.6 170.9 -55.1 171.9 -56.6 172.8 -58.1 174.9 -58 177 -58 179.1 -57.9 181.2 -56.2 183.3 -54.5ZM292.6 -88.6L290.9 -88.2 289 -88.3 288 -88.9 288.5 -89.6 290.1 -90 292 -89.9 293 -89.3 292.6 -88.6ZM357.1 -119.8L357 -119.8 354.7 -121.5 356.6 -121.5 358.6 -121.5 360.6 -121.5 360.8 -120.4 358.9 -120.1 357.1 -119.8ZM362.2 -124.5L362 -124.2 361.4 -124.4 360.9 -124.8 360.7 -125.3 360.9 -125.5 361.5 -125.4 362 -125 362.2 -124.5ZM252.6 -118.1L251.1 -117.7 249.3 -117.8 248.3 -118.3 248.7 -118.9 250.3 -119.2 252.1 -119.2 253 -118.7 252.6 -118.1ZM308.4 -127.6L308 -127.2 307.1 -127.4 306.4 -128 306.2 -128.7 306.6 -129.1 307.5 -128.9 308.2 -128.3 308.4 -127.6ZM320.5 -128.4L319.8 -127.9 319.1 -127.5 317.7 -129.1 316.3 -130.8 315 -132.3 313.6 -133.8 314.9 -134 316.1 -134.2 317.5 -132.7 318.9 -131.2 320.5 -128.4ZM314.4 -135.3L312.1 -136.6 309.6 -139.6 311 -140.2 312.9 -137.9 314.7 -135.7 314.4 -135.3ZM171.1 -135L169.8 -135.1 168.4 -135.5 167.8 -136 168.2 -136.3 169.5 -136.2 170.9 -135.8 171.6 -135.3 171.1 -135ZM280.2 -132.4L280.2 -132.5 280.1 -132.5 278.6 -133.9 277.1 -135.3 277.6 -136.5 278 -137.7 279.6 -137.8 281.2 -137.9 282.7 -138 284.4 -138 286.1 -138 287.7 -138 288.8 -138.2 289.8 -138.3 289.9 -138.3 289.9 -138.4 289.8 -138.4 289 -140.2 288.1 -142 288.1 -142.1 286.2 -144.4 284.3 -146.7 284.2 -146.7 284.2 -146.8 282.1 -148.1 280.1 -149.4 280 -149.4 278.2 -149.8 276.4 -150.2 274.6 -150.5 272.6 -152.2 272.5 -152.2 272.6 -152.2 273.2 -152.9 273.7 -153.7 273.8 -153.7 275.5 -153.6 277.3 -153.6 277.4 -153.6 277.4 -153.7 277.3 -153.7 277.3 -153.8 275.7 -155.2 274.1 -156.7 276.2 -156 277.1 -156.3 278 -156.6 278.1 -158 278.3 -159.3 278.2 -159.4 276.8 -161.4 277.5 -162 278.1 -162.6 277.7 -164.5 276.8 -166 275.9 -167.5 276.1 -168.4 276.4 -169.2 277.9 -169.5 278 -169.5 278.8 -170 279.6 -170.5 279.6 -170.6 279.5 -170.6 277.7 -172.3 275.8 -174.1 275.7 -174.1 273.3 -175.6 271.3 -177.2 269.4 -178.9 268.8 -180.1 269.1 -180.8 269.4 -181.5 269.7 -182.2 271.1 -180.9 272.5 -179.6 272.5 -179.5 272.6 -179.5 272.6 -179.4 272.7 -179.4 274.7 -178.6 274.7 -178.5 275.9 -176.5 276 -176.5 276 -176.4 276 -176.3 276.1 -176.5 276.8 -176.3 277.6 -175.8 278.1 -175.2 278 -174.8 277.3 -175 276.8 -175.3 277.2 -174.8 277.3 -174.7 277.4 -174.7 277.4 -174.6 279.3 -173.9 281.1 -173.1 282.9 -172.5 282.9 -172.4 283 -172.4 283 -172.5 283.4 -173.2 283.9 -174 285.6 -173.5 287.3 -173 288 -173.8 288.7 -174.6 289.3 -175.3 290 -176 290.7 -176.7 292 -175.7 292.1 -175.7 292.2 -175.7 292.8 -176.1 293.3 -176.6 293.3 -177.6 293.2 -178.5 293.2 -178.6 293.1 -178.6 293.1 -178.7 293 -178.7 290.7 -180.4 288.4 -182 287.1 -183.4 285.7 -184.8 286 -185.3 286.4 -185.7 288.2 -184.9 290 -184.1 290.1 -184.1 290.8 -184.3 290.8 -184.4 288.7 -186 286.7 -187.7 286.6 -187.7 286.6 -187.8 286.5 -187.8 284.9 -188.4 283.2 -189.1 282.1 -189.8 282.6 -190.3 283 -190.7 283.9 -191 284.9 -191.3 285.9 -191.6 286.8 -191.9 287.2 -192.4 287.6 -193 288 -193.5 291.6 -191.1 295.1 -188.6 298.7 -186.2 302.1 -183.7 305.6 -181.2 309 -178.7 312.4 -176.1 315.7 -173.5 319 -170.9 322.2 -168.2 325.4 -165.6 328.6 -162.8 331.7 -160.1 334.7 -157.4 337.8 -154.6 338.4 -153.4 339.2 -151.8 339.9 -150.1 340.9 -148.3 341.9 -146.5 343.7 -144.7 345.4 -142.9 347.6 -140.8 348.7 -140.8 349.8 -140.9 351.4 -141 354.1 -138.1 356.8 -135.2 359.4 -132.3 361.9 -129.3 364.4 -126.3 364.2 -125.4 362.2 -125.9 360.2 -126.5 358.5 -127.6 356.8 -128.8 354.9 -130 353 -131.3 351.8 -133 350.6 -134.7 350.6 -134.8 350.5 -134.9 348.2 -136.2 348.9 -136.9 349.6 -137.6 350.4 -138.2 351.3 -138.9 351.3 -139 351.2 -139.1 350 -140.4 349.9 -140.4 349.9 -140.5 349.8 -140.5 348.5 -139.9 347.8 -139 347.2 -138.2 345.6 -138.6 344.2 -138.5 342.7 -138.4 341.9 -137.5 340.8 -137 340.8 -136.9 341.8 -135.1 341.8 -135 341.9 -135 341.9 -134.9 344.4 -133 346 -130.6 346.1 -130.6 346.1 -130.5 346.2 -130.5 346.2 -130.4 346.3 -130.4 347.7 -130.1 349.1 -129.9 349.2 -128.7 349.2 -127.5 349.2 -127.4 349.3 -127.4 349.3 -127.3 351.9 -124.3 350.9 -123.8 348.4 -124.8 345.5 -127.5 344.5 -129.3 344.5 -129.4 344.4 -129.5 342.7 -130.6 341 -131.7 338 -133.3 335.4 -134.9 333.6 -137.2 331.7 -139.4 331.7 -139.5 331.6 -139.5 331.6 -139.6 331.5 -139.6 329.9 -140.3 328.3 -141 325.7 -142.2 323.2 -143.3 321.7 -143.7 320.3 -144.1 318.4 -145.2 316.6 -146.2 316.5 -146.3 314.9 -147 313.2 -147.7 310.7 -149.6 310.6 -149.6 310.1 -148.9 309.5 -148.2 309.5 -148.1 309.6 -148.1 309.6 -148 311.3 -146.3 313 -144.7 313.1 -144.6 315 -143.7 316.8 -142.9 319.3 -141.1 321.8 -139.2 321.9 -139.2 324.1 -138.4 326.3 -137.6 328.2 -136.8 330.1 -136.1 332.2 -135.1 334.3 -134 332.8 -134.3 331.3 -134.6 331.3 -134.5 332 -132 332 -131.9 332.1 -131.9 332.1 -131.8 332.2 -131.8 334.6 -130.2 334.9 -128.5 335.2 -126.8 333.7 -127.5 333.7 -127.6 333.6 -127.5 333.7 -127.5 334.6 -125.6 335.5 -123.8 335.5 -123.7 336.4 -122.5 334.2 -123.2 331.9 -123.9 329.5 -124.6 328.2 -126.1 328.1 -126.1 328.2 -126.1 329.5 -126.5 330.8 -126.8 332.2 -127.2 333.5 -127.6 333.5 -127.7 332.7 -129.2 331.9 -130.7 331.9 -130.8 331.8 -130.8 331.8 -130.9 329.8 -132.1 327.8 -133.3 324.9 -134.9 322.5 -135.7 320.1 -136.5 317.7 -137.7 315.3 -138.8 313.7 -140.1 312 -141.3 312 -141.4 310.3 -142.4 308.7 -143.5 308.6 -143.5 307.4 -143.8 306.2 -144.1 305.8 -143 305.4 -142 305 -140.7 304.5 -139.5 303.1 -139.8 301.7 -140 301.7 -140.1 301.7 -140 300.5 -139.5 299.4 -139.1 299.4 -139 299.4 -138.9 301 -136.6 301.1 -136.6 302.4 -135.1 302.1 -134.3 301.8 -133.4 301 -132.6 300.3 -131.9 300.3 -131.8 300.8 -129.4 301.3 -127.1 301.4 -127 301.4 -126.9 304 -124.7 303.5 -123.3 304.4 -121.1 304 -119.6 303.7 -118 302.2 -117.9 300.7 -117.7 299.3 -117.5 299.2 -117.5 298.8 -116.5 298.4 -115.4 298.2 -115.1 295.9 -116.5 294.2 -117.4 292.5 -118.3 292.4 -118.3 291.2 -117.9 289.9 -117.4 288.5 -119.9 287 -122.4 286.9 -122.4 286.9 -122.5 286.8 -122.5 286.8 -122.6 285.3 -122.7 284.2 -125.3 283.1 -127.9 283.1 -128 281.7 -130.2 280.2 -132.4ZM174.6 -148.1L175.3 -149.2 175.9 -150.4 176.5 -151.5 177.6 -149.3 178.6 -147.1 178.6 -147 178.7 -147 178.7 -146.9 178.8 -146.9 180.6 -146.5 182.4 -146 183.8 -144.5 185.1 -143 186.6 -141.7 188 -140.5 188.2 -139.2 188.4 -137.9 186.2 -139.2 186.1 -139.2 185 -138.6 183.8 -138.1 182 -139.7 181.9 -139.8 180 -139.8 178 -139.8 176.8 -139.7 175.6 -139.6 175.7 -140.9 175.8 -142.3 175.4 -144.2 175 -146.2 174.6 -148.1ZM167.8 -143.7L166.2 -143.8 164.5 -144.3 163.7 -144.9 164.2 -145.3 165.7 -145.2 167.4 -144.7 168.2 -144.1 167.8 -143.7ZM248.9 -167.4L249.7 -168 250.5 -168.6 250.2 -169.7 249.8 -170.7 250.9 -170.9 252 -171.1 254.5 -169.9 254.5 -169.8 255.6 -168.3 256.6 -166.7 256.6 -166.6 256.7 -166.6 258.7 -164.7 260.7 -162.8 259.9 -162.2 259 -161.6 258.2 -161.1 257.5 -160.5 256.8 -159.9 254.9 -160.6 253.1 -162.9 251.4 -165.2 251.3 -165.2 248.9 -167.4ZM248.4 -178.7L248.5 -178.6 248.6 -178.6 248.6 -178.5 248.7 -178.5 249.9 -178.5 251.1 -178.5 252.3 -178.5 253.5 -176.4 254.8 -174.3 254.8 -174.2 254.9 -174.2 254.9 -174.1 255 -174.1 256.7 -174.1 256.7 -174 258.4 -172.9 260 -171.7 260.1 -171.7 262.4 -170.8 264.6 -169.8 267.7 -167.5 267.8 -167.5 267.8 -167.4 269.9 -166.6 272 -165.8 273.8 -163.8 275.5 -161.8 274.5 -161.2 273.6 -160.6 272.7 -160.1 271.7 -159.4 270.8 -158.7 269.9 -158 268.8 -157.6 267.8 -157.2 266.7 -156.9 266.5 -158.6 266.2 -160.3 267.1 -161 267.2 -161 267.1 -161 267.1 -161.1 267.1 -161.2 267 -161.2 266.9 -161.2 266.9 -161.3 265 -161.5 263.1 -161.8 262.6 -163.3 262.1 -164.8 262 -164.8 262 -164.9 261.9 -164.9 261.9 -165 260 -166.2 261.2 -166.4 262.3 -166.6 262.4 -166.6 262.3 -166.6 262.3 -166.7 261.2 -167.9 261.2 -168 261.1 -168 259.3 -169.4 257.5 -170.8 257.5 -170.9 257.4 -170.9 256.5 -170.6 255.7 -170.3 252.7 -172.7 252.7 -172.8 252.6 -172.8 249.9 -174.2 248.1 -175.9 246.4 -177.5 245.3 -179.1 244.2 -180.7 245.7 -180.9 247.1 -181.1 247.8 -179.9 248.4 -178.7ZM280.4 -175.9L280.1 -175.4 278.9 -175.6 277.6 -176.4 276.9 -177.4 277.2 -177.9 278.3 -177.6 279.6 -176.8 280.4 -175.9ZM282.8 -183.3L283.3 -182.7 282.8 -182.8 281.4 -183.6 280.1 -184.5 279.6 -185.1 280.2 -185 281.5 -184.3 282.8 -183.3ZM243.9 -179.1L244.6 -178.2 244.4 -177.7 243.6 -178 242.6 -178.8 242 -179.7 242.1 -180.2 242.9 -179.9 243.9 -179.1ZM245.1 -185.6L245.3 -185.3 244.8 -185.6 243.8 -186.3 243 -187.1 242.8 -187.4 243.3 -187.1 244.3 -186.4 245.1 -185.6ZM231.8 -189L231.7 -188.8 231.2 -188.9 230.6 -189.2 230.3 -189.6 230.5 -189.8 230.9 -189.7 231.5 -189.4 231.8 -189ZM281.7 -194.1L281 -193.5 280.4 -192.8 279.9 -192.4 279.3 -191.9 278.8 -191.4 277.1 -192.1 275.4 -192.7 273.2 -193.9 271 -195.1 268.3 -197 265.5 -198.8 264.5 -200.3 263.6 -201.7 263.5 -201.7 263.2 -202.6 262.8 -203.5 262.5 -204.4 262.2 -204.8 262.2 -204.9 262.1 -204.9 262 -205 261.9 -205 259.9 -205.6 257.9 -206.2 257.9 -206.3 257.3 -205.9 256.8 -205.6 256.2 -205.3 256.2 -205.2 257.7 -203.8 259.2 -202.4 261 -200.5 261.4 -199.3 261.8 -198 262.3 -197 262.8 -196 262.8 -195.9 262.9 -195.9 265.1 -194.3 267.3 -192.7 267.4 -192.7 267.4 -192.6 268.5 -192 268.5 -191.9 268.6 -191.9 270.3 -191.4 271.9 -191 272 -191 275.3 -189 274.6 -188.5 275 -187.4 275.3 -186.4 275.3 -186.3 275.4 -186.3 277.5 -184.6 279.5 -182.8 281.6 -180.9 281.8 -179.6 281.9 -178.6 281.9 -177.6 281.3 -177.2 280.7 -176.7 278.8 -178 277.5 -178.8 274.6 -180.7 271.6 -182.6 271.5 -182.6 268.2 -184.2 268.2 -184.3 265.7 -186 265.6 -186 265.6 -186.1 263.6 -187.1 263.6 -187.2 263.5 -187.2 263.4 -187.2 263.4 -187.1 263.5 -187.1 264.6 -185.5 264.7 -184.4 264.9 -183.3 264.3 -182.7 263.6 -182.1 261.2 -183.1 258.8 -184.1 256.1 -186 253.4 -188 253.3 -188 250.8 -189.4 249.2 -190.8 247.6 -192.1 247.6 -192.9 247.5 -193.6 247.5 -194.6 247.5 -195.5 247.3 -196.5 247.2 -197.4 247 -198.3 246.4 -199.5 245.7 -200.6 244.5 -202.3 243.2 -203.9 241.4 -205.6 239.6 -207.3 238.6 -208.6 237.5 -210 237.5 -210.7 237.4 -211.5 236.7 -212.6 236 -213.6 236.2 -214.1 236.4 -214.5 236.6 -215 236.8 -215.6 236.9 -216.2 237 -216.8 237.4 -217.3 237.7 -217.7 238.1 -218.2 238.5 -218.6 239.4 -218.7 240.3 -218.8 241.2 -218.9 242.9 -218.5 244.6 -218.2 246.2 -217.8 246.3 -217.8 250.2 -215.8 254 -213.7 257.9 -211.6 261.7 -209.5 265.5 -207.3 269.2 -205.1 273 -202.9 276.7 -200.6 280.4 -198.4 284 -196 287.6 -193.7 286.2 -193.9 284.8 -194.2 283.2 -194.2 281.7 -194.1ZM206.1 -199.1L208.8 -197.8 211.5 -196.5 212.2 -195.2 213 -194 212.5 -193.2 212 -192.3 211.5 -191.5 211 -190.7 209.6 -190.7 208.2 -190.8 206.9 -190.8 205.5 -190.9 204.1 -190.9 201.7 -192.1 201.6 -192.1 200 -192.7 198.4 -193.2 196.4 -195.1 196.4 -196 196.5 -196.9 196.5 -197.8 197.8 -197.8 199 -197.9 200.2 -197.9 201.4 -197.9 202.7 -198 203.5 -198.3 204.4 -198.5 205.3 -198.8 206.1 -199.1ZM108.9 -233.9L109.8 -234.1 110.6 -234.3 111.5 -234.5 112.3 -234.6 113.2 -234.8 114 -235 114.9 -235.1 115.7 -235.3 116.6 -235.5 117.4 -235.6 118.2 -235.8 118.9 -236 119.6 -236.3 120.3 -236.6 121 -236.8 121.7 -237.1 122.4 -237.3 123.1 -237.6 123.8 -237.8 124.4 -238.1 125.1 -238.3 125.8 -238.5 126.8 -238.5 127.9 -238.5 129 -238.5 130 -238.4 131.1 -238.4 132.2 -238.4 133.2 -238.4 134.3 -238.3 135.4 -238.3 136.4 -238.3 137.5 -238.3 139.2 -237.8 140.9 -237.3 142.6 -236.8 144.3 -236.3 146 -235.9 147.1 -235.8 148.2 -235.8 149.4 -235.7 150.5 -235.7 151.6 -235.7 152.7 -235.6 153.8 -235.6 155 -235.6 156.1 -235.5 157.2 -235.5 157.5 -234.8 157.8 -234.1 158.1 -233.3 158.4 -232.6 158.6 -231.8 160.4 -230.2 162 -228.6 163.7 -227 165.7 -225.4 167.6 -223.8 169.5 -222.2 169.6 -222.2 171.5 -220.3 173.5 -218.5 174.3 -217.2 175.2 -215.9 176 -214.6 176 -214.5 176.1 -214.5 178.5 -212.6 180.8 -210.8 180.9 -210.8 180.6 -209.9 180.4 -208.9 180.2 -208 180.2 -207.9 180.3 -207.9 180.3 -207.8 180.4 -207.8 180.5 -207.8 181.8 -207.7 183 -207.6 184.3 -207.4 184.5 -206.2 184.6 -205 184.8 -203.8 184.8 -202.5 183.9 -202.2 182.9 -201.9 182 -201.6 181 -201.2 180 -200.9 179.1 -200.6 178.1 -200.3 178.1 -200.2 178.4 -198.8 178.7 -197.4 179 -195.9 179.3 -194.5 178.4 -194.2 177.5 -193.9 176.6 -193.5 175.7 -193.2 175.5 -192 175.3 -190.8 175.1 -189.6 176.1 -187.5 177.2 -185.4 178.2 -183.5 179.3 -181.7 180.3 -179.8 180.8 -178 181.3 -176.3 179.6 -176.9 177.8 -177.5 176.3 -177.8 174.7 -178.2 173.1 -178.5 171.5 -178.9 169.4 -180.2 167.3 -181.5 165.2 -182.7 165.1 -182.7 163 -184.2 160.9 -185.7 158.8 -187.1 156.8 -188.7 154.9 -190.3 152.9 -191.8 150.7 -193.8 148.6 -195.8 148.5 -197.4 148.5 -199 148.3 -200.5 148.3 -200.6 148.3 -200.7 148.2 -200.7 148.2 -200.8 148.1 -200.8 146.1 -201.3 144.2 -201.9 142.2 -202.5 142.7 -203.4 143.2 -204.4 143.2 -204.5 143.1 -204.5 143.1 -204.6 143 -204.6 143 -204.7 141.3 -205.2 139.6 -205.8 137.9 -206.4 136.3 -207.7 134.8 -209 132.9 -210.3 131 -211.5 129.1 -212.8 127 -214 124.9 -215.3 122.8 -216.5 122.7 -216.5 121.3 -216.8 119.9 -217 118.5 -217.3 117.1 -217.5 115.9 -217.6 114.7 -217.6 113.5 -217.7 112.3 -217.7 111.2 -217.8 110 -217.9 108.6 -218.4 107.2 -219 105.8 -219.6 104 -220.3 102.2 -221.1 100.4 -221.9 98.5 -222.7 99.1 -223.4 99.7 -224.1 100.3 -224.8 100.8 -225.5 101.3 -226.2 101.8 -226.9 102.3 -227.6 102.7 -228.3 103 -229 103.3 -229.6 103.6 -230.3 103.9 -231 104.5 -231.4 105.2 -231.7 105.8 -232.1 106.4 -232.5 107.1 -232.8 107.7 -233.2 108.3 -233.6 108.9 -233.9ZM201.7 -236.8L201.7 -236.7 201.8 -236.3 202 -235.8 202.1 -235.4 202.2 -234.9 202.3 -234.5 202.3 -234 202.3 -233.6 202.3 -233.2 203 -232.3 203.7 -231.5 204.4 -230.7 205 -230 205.6 -229.3 206.1 -228.5 204 -229 201.8 -229.5 199.7 -230 197 -230.8 194.3 -231.7 191.6 -232.5 191.6 -232.6 189.6 -233.3 187.6 -234.1 188.3 -234.2 189.1 -234.4 189.8 -234.5 190.6 -234.6 191.3 -234.8 191.7 -235.1 192 -235.3 192.3 -235.6 192.6 -235.9 193.3 -236.1 194 -236.2 194.7 -236.4 195.4 -236.6 196.1 -236.8 197.2 -236.8 198.3 -236.8 199.4 -236.8 200.5 -236.8 201.7 -236.8Z"/>
<path id="lakes" d="M-399.6 40.8L-400.2 38.5 -400.8 36.1 -401.4 33.8 -400.3 35.5 -399.3 37.2 -398.3 39.9 -397.3 42.5 -396.2 45.1 -395.1 47.7 -394.9 50.9 -396.4 48.5 -397.8 46.1 -398.7 43.4 -399.6 40.8ZM-412 25.2L-412.5 21.9 -412.9 18.6 -413.2 15.2 -412.3 18.4 -411.4 21.6 -410.5 24 -409.6 26.4 -408.7 28.7 -409.2 31.3 -410.2 29.1 -411.3 27 -412 25.2ZM-409.9 5.4L-409.8 3.2 -409.8 1.1 -407.8 0 -405.8 -1.1 -405 0.4 -404.2 1.8 -404.3 4.2 -404.4 6.5 -404.5 8.9 -406.2 9.5 -407.9 10 -408.9 7.7 -409.9 5.4ZM-293.1 -142.4L-290.7 -145.4 -288.9 -146.3 -287.2 -147.2 -285.4 -147.6 -283.6 -147.9 -284.5 -146.3 -285.4 -144.6 -287.6 -143.8 -289.8 -142.9 -291.5 -142.7 -293.1 -142.4ZM-259.2 -144.3L-260.5 -144.4 -261.9 -144.6 -260 -145.2 -258.1 -145.7 -257.1 -145.3 -256.1 -144.9 -255.2 -144.4 -253.8 -144.5 -252.5 -144.5 -251.1 -144.6 -251.8 -143.7 -253.2 -143.5 -254.6 -143.4 -256 -143.3 -257.1 -143.6 -258.1 -143.9 -259.2 -144.3ZM-180 -163.7L-182.2 -161.8 -184.3 -159.9 -186.5 -158 -188.7 -157 -190.9 -156 -193.1 -155 -195.3 -154.2 -197.4 -153.3 -196.3 -154.4 -194.7 -155.5 -193.1 -156.5 -191.2 -157.5 -189.2 -158.6 -187.3 -159.6 -185 -161.2 -182.7 -162.7 -180.5 -164.3 -180 -163.7ZM-286.7 -194.3L-283.7 -196.2 -281.5 -197.1 -280.3 -197 -279.2 -196.9 -279.9 -196.1 -280.5 -195.2 -282.5 -194.7 -284.4 -194.1 -285.6 -194.2 -286.7 -194.3ZM61.5 -173.7L60.3 -173.3 59.1 -172.9 57.9 -172.6 56.7 -172.2 56.5 -173.3 57.5 -174.2 58.6 -175 59.7 -175.6 60.9 -176.1 62 -176.6 63.1 -177.2 64.6 -176.5 66 -175.8 64.9 -175.3 63.8 -174.8 62.6 -174.2 61.5 -173.7ZM-274.2 -197.5L-272.1 -198.3 -270 -199.2 -269.9 -198.6 -269.9 -198.1 -272.6 -196.6 -275.4 -195 -276.5 -195 -277.6 -194.9 -276 -196.2 -274.2 -197.5ZM41.9 -185.9L43 -186.6 44 -187.4 45 -188.1 46.1 -188.8 47.2 -188.4 48.4 -187.9 49.6 -187.5 48.8 -186.5 47.9 -185.6 47.1 -184.6 45.8 -184.3 44.6 -184 43.4 -183.7 42.1 -183.4 40.9 -183.1 41.4 -184.5 41.9 -185.9ZM181.1 44.8L182.1 45.6 183.2 46.3 183.4 48.1 181.9 46.9 181 45.7 181.1 44.8ZM411.6 11.9L413 12.6 413.2 15.2 412.9 18.6 412.5 21.9 412 25.2 411.7 22.5 411.4 19.8 411.5 17.2 411.6 14.5 411.6 11.9ZM343.3 -21.2L342.4 -22.9 341.5 -24.7 341.1 -26.4 340.6 -28 342.6 -27.1 343.3 -25 344 -22.8 343.3 -21.2ZM136.9 -121L138 -121.6 139.2 -122.3 140.3 -122.9 141.7 -123.2 143.1 -123.6 142.1 -122.7 141 -121.8 140 -120.8 138.4 -120.6 136.9 -120.3 135.3 -120.1 136.9 -121ZM141.4 -126.1L143.2 -126.6 144.9 -127.2 146.1 -127.4 147.3 -127.6 147 -126.4 146.6 -125.2 144.7 -125.1 142.9 -125 141 -124.9 141.4 -126.1ZM128.8 -120.6L127.5 -120.6 126.2 -120.5 125.6 -122.9 124.9 -125.3 124.3 -127.6 124.3 -129.8 124.3 -132 125.7 -131.8 127 -131.7 128.4 -131.6 128.2 -129.8 127.9 -128.1 127.7 -126.4 128.1 -124.5 128.5 -122.5 128.8 -120.6ZM136 -123.8L134.5 -125.2 133 -126.6 132.6 -128.3 132.1 -130 130.7 -130.8 129.4 -131.6 130.1 -132.2 130.9 -132.8 132.3 -132.7 133.6 -132.6 135 -132.5 137 -131.1 139 -129.8 138.4 -128.1 137.8 -126.4 137.3 -124.8 136 -123.8ZM128.7 -133.6L126.7 -133.5 124.8 -133.4 122.9 -133.3 121.2 -133.4 119.6 -133.4 117.9 -133.4 116.5 -133.4 115.1 -133.5 113.7 -133.5 114.8 -134.6 115.8 -135.7 116.8 -136.8 118 -137.7 119.1 -138.6 120.6 -139 122.1 -139.3 123.6 -139.7 125.4 -138.1 127.1 -136.4 127.9 -135 128.7 -133.6ZM101.1 -143.6L99.5 -145.8 97.9 -148 96.4 -149.8 94.9 -151.6 95.3 -153.1 97.3 -151.3 99.3 -149.5 100.6 -147.4 101.9 -145.3 101.1 -143.6ZM286.7 -194.3L284.1 -195.7 283.7 -196.2 286.7 -194.3Z"/>
<path id="ol" d="M161 252.9L165.4 251.5 169.8 250 174.2 248.5 178.6 247 183 245.4 187.4 243.8 191.8 242.1 196.2 240.4 200.6 238.7 204.9 236.9 209.3 235.1 213.6 233.3 217.9 231.4 222.2 229.5 226.5 227.5 230.7 225.5 234.9 223.5 239.1 221.4 243.3 219.3 247.5 217.2 251.6 215 255.7 212.8 259.8 210.5 263.9 208.2 267.9 205.9 271.9 203.6 275.8 201.2 279.7 198.8 283.6 196.3 287.4 193.8 291.3 191.3 295 188.7 298.7 186.1 302.4 183.5 306.1 180.9 309.6 178.2 313.2 175.5 316.7 172.7 320.2 169.9 323.6 167.1 326.9 164.3 330.2 161.4 333.5 158.5 336.7 155.6 339.8 152.6 342.9 149.7 346 146.7 348.9 143.6 351.9 140.6 354.7 137.5 357.5 134.4 360.3 131.2 363 128.1 365.6 124.9 368.2 121.7 370.7 118.5 373.1 115.2 375.5 112 377.8 108.7 380 105.4 382.2 102 384.3 98.7 386.3 95.3 388.3 92 390.2 88.6 392 85.2 393.8 81.7 395.5 78.3 397.1 74.8 398.6 71.3 400.1 67.9 401.5 64.4 402.8 60.9 404.1 57.3 405.3 53.8 406.4 50.3 407.4 46.7 408.4 43.2 409.3 39.6 410.1 36 410.8 32.4 411.4 28.8 412 25.2 412.5 21.6 412.9 18 413.3 14.4 413.6 10.8 413.7 7.2 413.9 3.6 413.9 0 413.9 -3.6 413.7 -7.2 413.6 -10.8 413.3 -14.4 412.9 -18 412.5 -21.6 412 -25.2 411.4 -28.8 410.8 -32.4 410.1 -36 409.3 -39.6 408.4 -43.2 407.4 -46.7 406.4 -50.3 405.3 -53.8 404.1 -57.3 402.8 -60.9 401.5 -64.4 400.1 -67.9 398.6 -71.3 397.1 -74.8 395.5 -78.3 393.8 -81.7 392 -85.2 390.2 -88.6 388.3 -92 386.3 -95.3 384.3 -98.7 382.2 -102 380 -105.4 377.8 -108.7 375.5 -112 373.1 -115.2 370.7 -118.5 368.2 -121.7 365.6 -124.9 363 -128.1 360.3 -131.2 357.5 -134.4 354.7 -137.5 351.9 -140.6 348.9 -143.6 346 -146.7 342.9 -149.7 339.8 -152.6 336.7 -155.6 333.5 -158.5 330.2 -161.4 326.9 -164.3 323.6 -167.1 320.2 -169.9 316.7 -172.7 313.2 -175.5 309.6 -178.2 306.1 -180.9 302.4 -183.5 298.7 -186.1 295 -188.7 291.3 -191.3 287.4 -193.8 283.6 -196.3 279.7 -198.8 275.8 -201.2 271.9 -203.6 267.9 -205.9 263.9 -208.2 259.8 -210.5 255.7 -212.8 251.6 -215 247.5 -217.2 243.3 -219.3 239.1 -221.4 234.9 -223.5 230.7 -225.5 226.5 -227.5 222.2 -229.5 217.9 -231.4 213.6 -233.3 209.3 -235.1 204.9 -236.9 200.6 -238.7 196.2 -240.4 191.8 -242.1 187.4 -243.8 183 -245.4 178.6 -247 174.2 -248.5 169.8 -250 165.4 -251.5 161 -252.9 -161 -252.9 -165.4 -251.5 -169.8 -250 -174.2 -248.5 -178.6 -247 -183 -245.4 -187.4 -243.8 -191.8 -242.1 -196.2 -240.4 -200.6 -238.7 -204.9 -236.9 -209.3 -235.1 -213.6 -233.3 -217.9 -231.4 -222.2 -229.5 -226.5 -227.5 -230.7 -225.5 -234.9 -223.5 -239.1 -221.4 -243.3 -219.3 -247.5 -217.2 -251.6 -215 -255.7 -212.8 -259.8 -210.5 -263.9 -208.2 -267.9 -205.9 -271.9 -203.6 -275.8 -201.2 -279.7 -198.8 -283.6 -196.3 -287.4 -193.8 -291.3 -191.3 -295 -188.7 -298.7 -186.1 -302.4 -183.5 -306.1 -180.9 -309.6 -178.2 -313.2 -175.5 -316.7 -172.7 -320.2 -169.9 -323.6 -167.1 -326.9 -164.3 -330.2 -161.4 -333.5 -158.5 -336.7 -155.6 -339.8 -152.6 -342.9 -149.7 -346 -146.7 -348.9 -143.6 -351.9 -140.6 -354.7 -137.5 -357.5 -134.4 -360.3 -131.2 -363 -128.1 -365.6 -124.9 -368.2 -121.7 -370.7 -118.5 -373.1 -115.2 -375.5 -112 -377.8 -108.7 -380 -105.4 -382.2 -102 -384.3 -98.7 -386.3 -95.3 -388.3 -92 -390.2 -88.6 -392 -85.2 -393.8 -81.7 -395.5 -78.3 -397.1 -74.8 -398.6 -71.3 -400.1 -67.9 -401.5 -64.4 -402.8 -60.9 -404.1 -57.3 -405.3 -53.8 -406.4 -50.3 -407.4 -46.7 -408.4 -43.2 -409.3 -39.6 -410.1 -36 -410.8 -32.4 -411.4 -28.8 -412 -25.2 -412.5 -21.6 -412.9 -18 -413.3 -14.4 -413.6 -10.8 -413.7 -7.2 -413.9 -3.6 -413.9 0 -413.9 3.6 -413.7 7.2 -413.6 10.8 -413.3 14.4 -412.9 18 -412.5 21.6 -412 25.2 -411.4 28.8 -410.8 32.4 -410.1 36 -409.3 39.6 -408.4 43.2 -407.4 46.7 -406.4 50.3 -405.3 53.8 -404.1 57.3 -402.8 60.9 -401.5 64.4 -400.1 67.9 -398.6 71.3 -397.1 74.8 -395.5 78.3 -393.8 81.7 -392 85.2 -390.2 88.6 -388.3 92 -386.3 95.3 -384.3 98.7 -382.2 102 -380 105.4 -377.8 108.7 -375.5 112 -373.1 115.2 -370.7 118.5 -368.2 121.7 -365.6 124.9 -363 128.1 -360.3 131.2 -357.5 134.4 -354.7 137.5 -351.9 140.6 -348.9 143.6 -346 146.7 -342.9 149.7 -339.8 152.6 -336.7 155.6 -333.5 158.5 -330.2 161.4 -326.9 164.3 -323.6 167.1 -320.2 169.9 -316.7 172.7 -313.2 175.5 -309.6 178.2 -306.1 180.9 -302.4 183.5 -298.7 186.1 -295 188.7 -291.3 191.3 -287.4 193.8 -283.6 196.3 -279.7 198.8 -275.8 201.2 -271.9 203.6 -267.9 205.9 -263.9 208.2 -259.8 210.5 -255.7 212.8 -251.6 215 -247.5 217.2 -243.3 219.3 -239.1 221.4 -234.9 223.5 -230.7 225.5 -226.5 227.5 -222.2 229.5 -217.9 231.4 -213.6 233.3 -209.3 235.1 -204.9 236.9 -200.6 238.7 -196.2 240.4 -191.8 242.1 -187.4 243.8 -183 245.4 -178.6 247 -174.2 248.5 -169.8 250 -165.4 251.5 -161 252.9Z"/>
<clipPath id="clip"><use href="#ol"/></clipPath>
</defs>
<rect width="100%" height="100%" fill="#fff"/>
<text x="795.8" y="87.7" font-size="78.34" textLength="1802.0" lengthAdjust="spacingAndGlyphs" fill="#000">Ensemble Summary: AMV ZOS Regressions (Monthly)</text>
<text x="3190.5" y="130.0" font-size="42.15" textLength="155.8" lengthAdjust="spacingAndGlyphs" fill="#dedede" font-weight="bold">© CVDP</text>
<g transform="translate(431.5 462.6)">
<g clip-path="url(#clip)"><use href="#ol" fill="#FFF59B"/><path fill="#FFE141" d="M-114 -253l3-2 182 0-3 3-35 23-18 25-2 6 2 4 2 2 4 1 6 1 9-2 1 0 5 9 11 15 9 33 0 9-3 15 1 3 23 24 13 16 9 6 27 14 15 4 6 1 13-5 8-2 9 0 8 2 6 3 2 3-1 3-3 3 3 2 6 0 6-3 6-4 6-7 3-6 4-15 4-6 17-15 4-6 2-6 0-6-4-6-7-6-44-25-11-8-6-6-8-12-22-45-10-12-4-6 0-3 1-3 3-1 6 1 3 2 7 10 5 4 6 3 6 0 6-3 5-4 4-6 9-16 3-3 6-2 6 0 18 5 18 8 15 9 17 14 15 15 13 18 25 39 13 24 7 18 4 18 0 15-2 15-7 15-7 12-12 13-15 13-12 7-9 4-6 2-18 2-6 1-6 4-9 6-15 9-6 7-11 19-19 24-3 6-1 6 1 3 3 3 4 3 15 6 42 12 53 11 15 4 8 6 5 9 0 6-2 6-2 3-7 6-8 4-15 4-12 0-9-1-45-13-33-8-27-8-8-5-5-6-4-9-2-12-2-4-18-11-20-21-10-7-45-18-45-16-30-15-18-7-10-6-2-3-1-3 1-3 5-6-1-3-4-3-21-6-33-4-7-2-29-17-21-9-27-19 0-3 4-3 11-2 48 4 39 1 42 0 30-2 6 1 15 7 6 1 6-1 9-5 6-6 3-7 3-21-1-6-14-10-5-5-10-21-2-3-4-2-21 1-9-2-12-7-12-4-6-4-10-9-8-11-6-5-6-2-33-6-6-3-6-5-5-7-3-6-1-6 0-6 2-6 2-6zM48 -212l6 0 2 2 0 3-6 6-8 4-1-1 1-6zM-114 -178l3 0 3 7-1 6-1 3-4 3-3-1-1-2-2-6 2-6 1-2zM-378 -78l12-3 12 1 9 4 9 7 6 9 3 12 1 12-3 24 2 9 4 6 4 3 31 15 9 6 5 6 3 6-1 6-2 6-5 6-9 7-15 9-12 6-12 4-24 7-5 3-1 2 0 4 8 3 34 6 18 6 7 3 3 3-3 3-19 5-24 3-24 0-21-2-7-3-6-6-14-28-6-4-6-2 0-128 7-12 10-12 10-7zM-153 -28l3-1 3 0 2 2 1 3 0 3-3 3-3 1-3-1-3-3 0-3zM-171 -26l3-1 3 3 0 3-3 3-3-1-2-2 0-3zM-66 104l3 1-3 1-2-1zM9 135l12-2 12-1 15 1 12 1 18 5 15 5 5 3 2 3 0 3-2 6-8 12-6 7-6 3-12 3-15 1-15 0-15-3-15-4-12-5-9-8-3-6 1-6 1-3 5-6 8-5z"/><path fill="#FFC81E" d="M-69 -253l15-2 50 0 25 5 9 3 5 4 0 3-1 3-5 6-8 13-12 13-3 2-6 2-27 2-3 2-2 2 0 3 2 6 2 3 4 2 3 0 12-3 21-3 15 0 6 3 15 16 2 3 8 24 2 9-1 6-2 6-3 3-3 1-3 0-6-3-5-4-3-6-7-17-3-4-6-3-15 2-12 0-6-3-9-6-9-3-7-5-6-6-14-24-3-3-24-8-11-7-3-3-2-6 0-6 3-6 4-4 7-5 8-3zM207 -229l6-1 6 1 15 5 13 8 13 12 6 9 6 12 16 47 5 7 13 10 6 6 6 9 5 11 2 12-1 12-3 12-5 9-7 9-10 9-11 7-15 6-15 3-12 0-8-4-2-3 0-3 1-6 8-18 6-21 5-6 12-12 4-6 3-6 2-9-1-6-2-3-7-5-21-6-15-6-15-7-14-9-10-8-6-7-6-9-7-15-1-6 0-6 3-6 23-17zM63 -92l6 2 6 5 9 10 7 12 5 4 36 16 33 10 10 6 9 9 4 9 4 18 9 17 3 7 2 9 0 6-1 9-5 9-11 14-9 9-6 3-6 1-6-1-12-3-9-4-19-13-11-5-39-15-36-11-13-5-20-11-21-8-8-5-2-3-1-3 2-3 9-6 2-3-6-3-24-6-47-7-7-5-8-13-3-3-18-10-15-4-4-3-3-3 4-3 3 0 15 2 18 1 72 1 39-1 6 2 12 8 9 1 9-1 12-2 6-5 3-9 3-18zM-366 -67l9-1 9 1 9 6 5 7 2 6 1 9-1 9-6 21 1 6 2 3 6 6 6 3 26 11 9 5 9 7 3 7-1 6-2 4-4 5-8 6-9 5-15 5-36 8-5 3-4 3-8 12-2 6 1 3 3 2 6 2 21 2 15 2 10 4 2 3-4 3-8 2-12 2-15 0-21-2-6-2-5-6-3-9-7-12-7-18-5-4-12-4 0-58 13-9 5-6 1-6 3-24 6-15 4-6 6-6 7-5zM168 -45l9-3 6 1 6 2 0 3-3 2-6 2-12 0-2-1-1-3zM-150 -28l3 1 2 3 0 3-2 2-3 1-3-1-2-2 0-3 2-3zM-171 -25l3 0 2 1 0 3-2 1-3 0-1-1zM183 105l6-2 6 1 10 4 52 15 67 15 6 4 5 5 2 6 0 6-3 6-3 3-7 4-9 2-15 0-12-2-32-10-46-11-21-6-6-3-5-4-4-6-1-6 0-6 2-6 4-6zM24 140l12-2 12 0 12 1 12 3 12 4 6 4 2 3 0 6-2 6-6 7-6 4-6 2-9 2-15 1-12-1-12-2-9-3-8-4-6-6-2-6 2-6 5-5 9-5z"/><path fill="#FFAA00" d="M-51 -243l12-2 15 0 12 2 12 2 8 4 4 4 2 5 0 6-4 6-4 3-9 5-12 1-18 1-8 2-1 20 0-2-6-4-3-4 0-4 1-6-2-3-20-9-4-3-4-6 2-6 6-6 9-4zM201 -214l6-1 6 1 12 4 12 7 12 12 10 17 5 15 1 12-2 6-3 3-5 3-9 0-9-1-9-3-12-6-11-8-7-6-8-9-4-6-4-9-1-6 0-6 3-6 5-6 6-4zM-39 -184l9 7 6 2 12-4 24-3 12-1 6 2 15 14 4 5 9 27 0 6-3 6-4 3-3 1-6-3-3-2-3-5-8-21-7-5-21 2-9-1-5-2-10-8-9-3-4-4-4-6-1-6zM69 -79l3 0 3 2 6 7 1 4 0 9 1 3 1 1 4 2 17 3 24 8 15 4 10 6 10 9 2 3 2 6-1 3-2 6-3 4-6 5-3 1-6 1-5 1 3 3 5 2 13 7 17 8 6 5 4 5 3 9 0 9-5 9-8 9-6 3-6 1-6 0-12-2-12-5-24-11-24-8-18-6-33-8-8-3-6-3-16-11-24-10-3-3 1-3 2-1 6-2 9-1 4-2 2-3 0-3-1-3-2-2-3-1-21-1-33-6-36-5-6-3-4-6-1-6 2-6 3-4 3-2 6-2 84 3 21 3 12 1 18 0 13-2 6-3 1-3-2-6-1-6 1-10zM-366 -60l6-2 6-1 9 3 3 3 5 6 2 9 0 6-1 6-6 10-9 9-8 5-1 2-3 1-2-3-7-6-4-6-3-6-2-9 1-9 3-9 5-5zM-153 -25l3-1 3 1 1 4-4 2-3-1-1-1zM-168 -22l0 1-1 0zM-366 -2l3-1 3 0 17 9 37 13 11 5 7 4 5 5 1 3 1 6-3 6-4 4-6 4-9 5-18 6-27 4-6 2-6 4-15 18-3 3-3 0-3 0-4-5-7-18-3-6-4-3-15-7 0-34 38-19zM186 110l3-1 6 0 33 8 33 11 45 9 18 5 6 5 2 3 2 6 0 3-3 6-7 5-9 2-12-1-12-2-42-13-36-7-12-4-15-5-3-3-4-5-2-6 1-6 3-6zM30 144l9-2 12 0 12 2 9 2 9 4 3 3 2 3 0 6-5 6-3 2-6 3-9 3-21 2-9-1-9-2-8-4-4-3-2-3-2-6 3-6 3-3 7-4z"/><path fill="#FF8700" d="M-51 -234l9-2 9-1 12 0 9 2 9 3 5 4 2 3 1 3 0 3-2 3-4 3-8 3-27-1-12-1-9-4-4-3-3-3 0-3 2-3 5-4zM201 -204l9-1 12 3 11 7 9 9 8 12 5 12 1 6-1 6-3 6-3 2-6 1-6 0-9-3-9-4-8-5-13-12-7-12-2-6-1-6 2-6 2-3 3-3zM21 -180l6 0 3 2 16 16 10 27 0 6-2 4-3 2-3 1-3-1-5-3-3-6-5-18-2-3-9-6-27 4-6-2-8-8 0-3 1-3 7-5zM-363 -57l9-2 6 2 6 5 4 7 0 9-2 6-5 6-3 2-6 3-6 0-6-3-6-5-2-6-1-9 2-6 5-6zM-90 -47l6 0 69 1 54 4 60-1 12 2 33 8 5 3 2 3 3 6 0 3-3 6-7 4-6 1-78 0-11 1-5 3 0 3 3 6 7 6 18 9 42 10 39 8 20 6 4 3 1 3 0 6-4 5-3 2-3 1-12-1-15-4-27-10-18-5-41-6-13-3-7-3-4-3-1-3 0-6-2-3-4-2-10-4-4-3 0-3 3-9 0-3-1-3-3-3-9-3-21-1-69-10-5-4-2-6 1-6zM-150 -25l2 1 0 3-2 1-3-1 1-3zM-366 12l12-1 12 2 18 4 18 5 9 4 6 4 5 6 0 6-2 4-5 5-13 7-15 4-27 4-8 3-7 6-12 14-3 2-3 0-3-1-3-5-5-16-4-6-14-9-6-6-1-2 0-8 4-5 3-3 10-6 19-8zM189 113l6-1 27 6 39 13 42 8 15 5 6 2 5 4 1 3 0 6-3 6-6 3-6 1-15-1-12-2-21-8-15-5-36-7-12-3-15-5-4-3-2-3-2-6 1-6 1-3zM33 146l9-1 9 0 15 3 11 5 2 3 1 3-1 3-1 3-6 4-15 5-15 1-15-2-9-5-4-6 0-3 1-3 6-5z"/><path fill="#FF5A00" d="M-45 -231l15-2 9 0 9 2 6 3 5 3 1 3 0 3-3 4-9 3-24-2-9-1-7-4-3-3 0-3 3-3zM201 -195l6-2 9 0 9 4 9 7 8 9 6 12 1 9-3 6-6 3-6 1-6-2-12-5-10-9-7-9-3-9 0-9 2-4zM18 -177l6-1 3 2 15 14 11 27 0 6-2 3-3 1-3 0-5-4-2-6-4-18-10-7-3-1-13 2-14 1-6-2-4-5 0-3 2-3 5-3zM-360 -55l6-1 6 2 5 6 2 6 0 6-3 6-4 4-6 2-6-1-5-2-3-3-3-6 0-6 2-6 3-3zM-90 -43l6-1 72 1 51 4 63 1 39 6 4 2 3 3 2 6-1 3-2 4-3 2-6 1-36 0-45-3-39 0-15-3-24-2-66-8-5-3-2-3 0-6zM-369 18l12-2 15 1 15 2 15 4 10 4 8 5 3 4 0 6-2 3-4 4-12 6-15 4-24 4-6 1-8 5-13 15-3 1-3 0-3-4-5-15-3-6-13-12-2-3 0-6 4-6 9-6 10-5zM189 117l6-1 24 4 11 3 19 8 12 3 48 10 15 5 3 4 0 6-3 5-6 2-18 0-12-3-18-8-12-4-15-3-24-3-9-3-19-7-4-3-2-3-1-6 2-4zM33 149l15-1 13 2 7 3 4 3 1 3 0 3-3 3-4 3-12 4-12 1-12-2-6-3-3-3-2-3 0-3 2-3 3-3z"/><path fill="#FF1E00" d="M-42 -228l12-2 15 1 9 4 3 3 0 3-3 4-6 1-6 0-21-3-6-2-3-3 1-3zM207 -190l6-1 6 2 9 4 6 6 5 8 3 6 0 6-1 3-2 3-5 2-9-1-9-5-6-5-5-6-4-9 1-6 1-3zM21 -174l3 0 3 2 8 10-2 2-12-5-12 3-15 1-4-1-2-3 0-3 3-2zM42 -149l6 7 3 7 0 4-3 3-4-1-3-6-1-9zM-360 -52l6 0 3 0 3 2 4 5 0 3 0 6-4 5-3 2-6 1-3-1-3-2-4-5 0-6 1-3 1-3zM-90 -39l3-2 3 0 72 0 36 2 15 2 63 2 39 6 4 2 1 3 1 3-1 3-2 2-3 2-3 0-36 0-114-6-75-10-4-3-1-3zM-366 21l12-1 12 0 15 2 12 2 9 4 8 5 2 3 1 3-1 3-6 6-13 6-15 3-21 3-6 2-6 4-9 10-3 2-3 1-3-2-8-20-9-12 0-6 4-6 7-5 12-5zM192 120l30 3 9 3 21 10 12 3 33 4 9 2 15 6 3 4 0 4-3 3-3 1-18 0-12-3-18-9-15-5-12-2-21-1-9-2-14-6-10-6-1-3 0-3zM33 152l12-2 12 2 8 4 2 3-1 3-3 3-3 2-9 3-9 1-9-2-6-3-3-4 0-3 2-3z"/><path fill="#EB0000" d="M-39 -225l9-2 15 1 6 2 3 2 0 3-3 3-9 1-18-5-4-2zM210 -184l3-1 6 1 6 2 6 6 4 5 2 6-1 6-2 2-6 2-6-1-6-3-6-6-3-6-1-6 1-4zM-357 -49l3 0 3 1 3 3 1 3-1 6-3 3-3 1-6-1-3-3-1-3 1-6 3-3zM-87 -36l75-3 36 1 9 3 6 1 60 1 42 6 3 3 0 3-2 3-4 2-21-1-72-3-57-2-72-11-3-2zM-366 24l9-1 15-1 21 3 9 3 6 3 5 5 1 3-1 3-3 3-8 5-15 4-27 3-9 5-9 9-3 1-3 0-3-4-4-11-6-12-1-6 5-6 4-3 8-4zM198 126l12-2 13 2 12 6 3 3 0 3-10 2-15-2-12-6-3-3-1-3zM282 147l9-1 11 1 9 3 5 3 3 3-2 3-8 2-6 0-9-2-7-3-5-3-2-3 1-3zM33 155l9-2 9 1 6 2 3 3-1 3-3 3-8 3-6 0-6-1-5-2-2-3 0-3z"/><path fill="#CD0000" d="M-24 -223l6-1 6 1 2 1 1 3-3 2-6-1-4-1-5-3zM213 -181l3 0 6 1 7 6 3 6 1 3 0 3-2 2-3 2-6 0-6-4-3-3-2-3-2-6 1-4zM-354 -45l3 3 0 3-3 3-3-1-2-2 0-3 2-3zM-18 -37l6-1 36 1 9 5 6 1 64 1 35 6 1 3-31 2-69-5-6 0-9 2-36-1-12-4-17-3-6-3zM-369 27l9-2 12 0 21 1 15 5 6 5 1 3-1 3-3 3-6 3-15 4-24 2-7 3-11 8-3 1-3-2-3-6-5-13 0-6 1-3 4-4zM213 128l9 2 4 2 1 3-5 1-7-1-5-3 0-3zM297 150l9 3 1 3-4 1-6-1-5-3 2-3zM36 159l6-2 6 0 4 2 0 3-7 3-6-1-4-2z"/><path fill="#DC4141" d="M216 -178l6 1 6 6 2 6-2 4-3 1-3-1-6-4-4-6 0-3 1-2zM-15 -36l3-1 36 1 6 3 2 3 0 3-5 3-3 0-36 0-7-3-2-3 1-3zM-354 27l15 0 15 2 10 4 3 3 1 3-2 3-3 3-8 3-10 2-21 2-6 2-12 5-3 0-3-4-4-10 0-6 2-3 3-3 8-4z"/><path fill="#FFAFAF" d="M216 -174l3-1 3 1 3 3 1 3 0 3-1 1-3 1-3-2-3-3-1-3zM-15 -35l3-1 36 1 4 2 2 3-1 3-5 2-36 0-4-2-2-3 1-3zM-360 30l15-1 15 1 10 3 4 3 1 3-3 3-9 4-9 2-18 1-15 4-3 0-3-2-3-6 0-6 2-3 4-3z"/><path fill="#B9E1F5" d="M-258 -252l6-3 93 0 4 6 3 9 1 12 1 21 1 9 4 6 7 9 10 24 5 5 3 3 6 1 6-2 4-4 8-16 3-3 6-3 6-1 9 2 9 4 24 14 15 6 15 8 12 1 15 1 6 7 7 13 13 15 2 6 0 9-4 8-6 7-6 3-9 1-18-3-36 3-48 1-54-3-24-3-12 0-30 4-3 3-1 3 1 2 4 4 17 3 12 5 9 5 18 13 29 13 22 7 33 5 12 3 6 3 1 3-3 9 1 3 7 6 11 6 46 20 87 34 9 6 5 6 4 6 4 9 2 9-1 6-2 6-4 6-5 5-6 3-6 1-9 0-18-4-36-12-15-7-39-22-31-12-18-6-26-6-17 0-13 3-8 3-4 3-8 9-5 12-1 6 0 6 3 6 5 7 26 26 19 21 6 5 6 3 18 4 90 8 36 1 9-2 6-3 18-25 6-6 6-4 6-1 9 0 30 4 21 5 60 24 9 5 7 9 3 12 0 6-2 9-6 9-5 4-9 4-9 1-6 0-59-24-10-1-4 1-4 3-7 15-6 9-9 6-8 3-20 0-77-4-153 3-6-1-9-4-9-5-12-10-9-3-9-1-33 3-30 1-30 0-27-3-33-4-30-6-24-7-21-9 0-76 12 0 27 7 21 0 30-2 63-6 27-2 27 1 30 6 6-2 3-2 1-3 0-3-1-3-3-2-3-1-27 4-12 0-21-2-30-6-26-8-6-3-3-3-1-3 4-6 29-36 3-9 0-6-2-6-5-6-11-7-26-14-7-6-3-6-2-12 2-36-3-36 1-12 1-6 4-7 6-7 6-6 21-15 38-22 8-6 3-3 0-3 0-3-3-3-22-16-9-8-4-6-4-9 0-9 2-6 9-9zM-153 -30l-3 2-2 4 0 3 5 4 3 1 3-1 4-4 1-6-2-3-3-2-3 0zM-172 -27l-2 3 0 3 3 3 5 0 3-3 0-3-2-3-3-1zM93 -252l12-2 3 0 3 3 2 2 4 13 31 26 20 33 6 12 9 12 12 10 34 20 8 6 5 6 1 6-1 6-4 6-17 15-4 6-6 15-4 4-6 2-24-1-27 4-6-1-9-3-12-6-17-11-31-31-8-11-2-6 0-18-5-27 0-14 3-4 3-2 33-19 1-3-1-3-8-9-5-12-8-1-8 1-25 10-3 3-11 17-4 4-3 0-4-1-3-3 0-3 17-24 3-3 29-17zM174 -253l2-2 4 0 3 6 0 3-2 6-4 3-3-2-1-4-1-6zM273 20l54 6 36 5 3 2 3 3 2 3 0 6-1 3-4 5-6 2-3 0-45-9-39-8-3-2-3-2-2-4 2-6 3-3zM249 66l15 1 18 3 15 4 15 7 11 6 9 9 3 6 0 6-2 3-4 3-8 3-15 2-18-1-26-4-23-6-16-6-8-6-2-3 0-6 3-6 5-6 7-4 6-3zM378 156l9-2 9 2 6 3 6 6 3 6 0 9-3 9-6 7-9 4-63 10-6 0-6-2-8-7-3-6 0-3 0-3 2-3 4-3 21-9 20-13z"/><path fill="#96D2F0" d="M96 -249l9-2 3 2 2 3 1 3-1 9 2 3 32 25 19 29 10 18 10 12 12 10 24 14 7 6 4 6 2 6-2 6-5 6-12 12-12 18-6 5-9 2-33 3-9-1-12-4-9-6-11-8-14-18-19-15-6-9-3-9 0-24 2-9 4-6 9-12 8-7 9-5 18-4 3-2-2-6-4-6-20-18-4-9-6-3-15 1-30 12-7 8-8 14-3 2-2-1-1-3 18-24 27-16zM-81 -169l9 0 12 3 21 11 13 5 14 7 24 6 6 3 6 7 13 19 1 6-2 7-8 8-7 4-39 4-18 1-33 1-45-2-24 0-30-5-33-2-6 0-9 3-3 2-2 3 0 6 4 6 6 6 7 4 18 2 12 4 9 5 9 8 1 4-4 7-3 0-3-3-3-1-3 1-3 2-1 3 0 3 2 3 2 1 3 1 4-2 2-3 3 0 2 3 4 2 6 0 3-2 6-8 3 0 24 8 52 9 7 3 2 3-1 9 1 3 3 3 10 6 58 26 87 36 5 4 5 6 3 6 2 6 0 6-2 6-4 7-6 5-6 3-6 1-6 0-9-2-30-13-57-29-46-17-20-6-14-3-19-1-15 1-12 2-9 4-6 4-6 6-18 28-6 3-15 5-18 1-24-3-24-6-6-3-5-5-5-12 0-9 1-6 8-21 1-6-2-6-3-6-7-7-35-20-5-6-4-9 0-15 4-27 3-15 6-12 4-5 6-5 6-3 9-2 12 1 21 11 6 1 2-1 2-3-2-18 1-6 2-6 4-6 6-6 14-9 13-6 15-6 18-5 15-2 6 0 6 1 13 9 5 2 9 0 5-2 4-3 12-15 3-2zM240 83l12-2 19 3 13 6 4 3 2 3-1 3-4 3-12 2-12-1-12-2-9-4-5-4-1-3 1-3zM-282 135l24-1 24 0 27 2 27 5 6 0 9-2 6 1 3 1 6 6 6 9 3 9 3 15 6 6 9 5 15 4 18 3 21 2 33 1 54 0 54 2 12 0 5-2 2-3 3-15 2-6 6-9 6-6 3-1 6-2 24 2 33 6 30 11 33 15 6 4 4 4 2 6 1 9-2 6-5 6-6 4-6 2-9-1-41-17-18-6-19-1-11 1-4 2-2 4-1 9-3 7-6 5-6 2-93-5-153 4-9-4-7-6-4-9-5-15-2-4-3-1-9-1-36 7-27 3-33 0-30-3-30-6-24-8-10-5-8-6-6-6-3-6-1-6 2-6 5-6 6-3 11-3 20-3zM387 165l6 0 3 2 3 3 2 4 0 6-1 3-2 3-5 4-63 10-6-1-3-1-3-4-1-5 2-3 5-4 27-11z"/><path fill="#55C3F5" d="M96 -246l9-1 2 1 1 3-1 3-2 2-6 2-18-4zM141 -191l3 0 3 3 30 41 12 11 25 19 2 3 4 6 0 3-2 6-25 30-7 6-8 3-22 2-9 0-9-3-9-5-7-6-5-6-2-6-3-18-5-15 0-12-9-21 0-6 0-6 4-6 6-5 6-1 9 3 5 6 2 6-1 21 3 3 3 1 6 1 4-2 3-3 2-6 1-24-7-12zM-78 -160l6-1 10 2 32 12 45 21 7 6 5 9 1 6-3 6-6 6-5 3-20 5-15 2-33 2-60-2-24 2-12-2-39-12-7-4-5-6-1-6 0-3 3-6 10-9 12-6 18-7 15-3 9 1 15 4 9 0 10-4 17-13zM-288 -81l9-2 9 2 8 6 16 16 6 3 15 1 21 5 18 2 12 5 6 4 3 3 2 3-8 2-5 4-1 3 1 3 1 3 4 2 3 0 6-3 3 0 6 4 3 1 6-2 6-5 3 0 24 6 35 6 12 3 4 3 1 9 2 3 15 9 72 34 75 31 6 5 5 8 1 9-2 6-4 6-6 4-9 3-9-1-24-11-63-32-28-11-18-6-32-8-27-2-15 0-11 1-13 3-7 3-5 4-5 5-12 21-4 6-6 5-6 3-9 3-9 0-11-2-9-3-7-4-9-8-9-8-4-7-3-9 2-24-1-6-3-6-6-6-6-5-28-16-6-6-3-6-2-9 0-9 1-12 4-15 3-9 4-7 6-7zM-267 141l21 0 18 1 18 2 12 3 7 3 7 6 2 3 0 6-3 6-2 3-8 5-9 4-21 5-24 2-27-1-24-4-12-4-8-4-4-3-6-6-1-6 1-3 5-6 5-3 9-3 14-3zM114 165l21 1 36 6 30 10 33 16 5 3 3 3 2 6 0 6-1 3-3 4-6 4-9 1-37-15-20-6-26-3-25-2-9-2-3-3-4-5-2-6 0-6 3-6 3-4 3-3zM372 177l15-3 3 1 2 2-2 3-14 3-31 4-6 0-1-1 6-3 10-3zM-135 210l6 0 22 6 1 3-12 3-14 2-3-1-3-2-1-5 1-4z"/><path fill="#00BEFF" d="M-72 -147l18 1 18 4 12 4 24 12 9 6 5 6 1 6-1 6-5 5-7 4-11 4-15 2-39 2-51-1-24 2-9-1-11-5-17-12-4-6-1-6 4-6 8-6 15-7 15-3 18 1 9 0 24-10zM162 -148l3-1 3 1 25 22 11 15 2 6-1 3-5 9-14 17-6 5-6 4-6 2-9 2-9-1-10-2-8-5-5-7-1-6 2-6 4-7 18-17 6-9 3-6 1-12zM-288 -73l9-2 9 3 7 6 14 19 6 4 6 1 18-2 24 1 9 2 7 2 4 3 1 3-3 6-1 6 2 3 5 3 3 0 6-2 3 0 6 3 3 1 3-1 9-4 3 0 55 12 8 3 4 9 9 6 42 21 20 11 30 14 69 28 5 4 4 6 0 6-1 6-5 6-5 3-7 1-6-1-84-43-27-10-18-6-33-7-36-4-18 1-27 3-5 3-4 4-15 27-4 5-5 5-6 3-6 1-6 0-9-3-9-6-12-10-10-11-3-9-2-21-3-6-4-6-11-10-24-14-7-6-4-6-2-6-1-9 1-9 2-12 3-9 4-9 4-5zM111 170l3 0 9 0 27 3 21 3 15 5 13 5 35 17 3 3 2 4-1 6-4 5-6 2-30-12-14-4-19-4-33-4-15-4-9-4-3-5-1-3 1-6 3-4z"/><path fill="#14A0FA" d="M-84 -139l15-1 15 1 12 2 12 3 17 8 10 6 5 6 2 6-1 3-5 6-6 3-8 3-14 2-36 2-48-1-18 4-6 0-9-2-8-5-5-6-6-9 1-6 2-3 7-5 9-4 12-4 27-2zM171 -136l3 1 6 4 10 8 3 9 0 6-4 7-9 8-7 12-5 5-9 4-6 1-6-1-5-3-2-3 0-3 1-3 6-6 12-6 1-3-3-9 1-6 7-12 3-7zM-285 -67l3-1 6 0 6 3 7 8 11 19 3 4 6 3 9 0 24-4 18 0 9 3 2 2 2 9 2 3 6 4 12-1 9 3 12-3 3 0 38 9 9 3 9 9 51 24 15 9 13 10 12 7 12 5 75 29 4 3 2 3 1 6-1 3-3 4-4 2-5 1-5-1-46-24-36-21-24-8-15-3-42-8-42-4-24 1-18-2-6 2-6 7-12 22-8 11-4 3-6 2-9-1-6-3-12-9-6-5-6-8-3-6-6-21-2-6-5-6-11-10-24-14-6-6-4-6-2-6-1-9 4-18 6-14 3-4zM114 177l12-1 18 1 24 2 9 2 19 8 20 14 14 7 1 3-3 2-18-7-12-3-51-7-15-3-13-6-7-6-1-3z"/><path fill="#2387F5" d="M-90 -132l12-2 18 0 12 1 12 3 10 4 11 6 6 6 1 6-1 3-3 3-9 4-12 3-18 2-27 1-36-2-6 1-12 4-6 0-9-2-3-2-4-6-3-6 0-6 1-3 3-3 5-3 13-5 27-4zM174 -127l6 1 5 3 2 3 2 6-2 6-2 3-5 3-6 1-6-1-3-2-3-4-1-3 0-3 3-6 4-4zM-285 -61l3-1 6 1 6 4 6 9 9 19 3 4 6 4 9 1 30-5 18 0 6 2 6 7 6 3 12 0 9 2 9-1 6 0 24 6 8 3 12 9 31 11 22 10 14 9 6 6 0 3-3 3-3 0-21 0-66-7-30-2-21-6-6 0-3 1-3 4-10 22-8 12-6 4-3 2-6 0-6-2-12-8-10-11-3-6-7-18-8-12-11-10-24-14-6-6-3-5-2-10 1-15 3-9 3-6zM84 95l9 1 3 2 0 3-3 2-2-1-8-6zM138 183l15-1 18 1 15 6 4 3 2 3-3 3-9 1-21-2-13-2-8-3-4-3-1-3z"/><path fill="#3C73E6" d="M-81 -129l27 1 18 4 9 4 5 3 2 3 1 3 0 3-3 3-8 4-12 3-15 2-24 1-36-2-6 1-9 3-6 1-6-1-3-3-2-3-2-6 1-6 3-4 6-4 9-3 9-2 30-4zM174 -123l6 0 3 2 2 4 1 3 0 3-3 4-3 2-6 1-6-1-3-3-2-3 1-3 1-3 3-3zM-282 -55l6 0 6 6 4 7 8 24 3 4 6 3 9 1 21-2 15 0 6-2 8-4 4-1 3 1 6 4 6 3 9-1 9 2 12 0 9 1 17 6 13 9 36 11 17 7 16 9 3 3 1 3-1 3-6 2-15 1-87-9-9-2-21-11-6-1-5 2-2 3-6 21-4 9-4 5-5 4-4 1-9-1-9-5-9-10-11-24-6-9-7-8-9-7-19-9-5-4-4-5-3-9 0-6 1-9 3-8 3-4zM150 189l6-2 9 0 8 2 4 3-6 1-12 0-6-1z"/><path fill="#3250E6" d="M-84 -126l21 1 18 3 12 5 3 3 1 3-1 3-4 3-5 2-12 3-15 2-21 0-33-2-18 4-5-3-2-3 0-6 1-3 2-3 7-4 18-4 18-3zM174 -121l6 1 3 3 1 3-1 3-2 3-7 2-6-2-2-3 0-3 2-4zM-279 -48l3 1 3 3 3 7 2 7 0 12-2 5-3 2-6-1-6-4-4-5-1-6 0-6 2-9 3-4 3-2zM-189 -12l3-2 3 0 12 5 18 2 15 0 6 2 5 2 9 6 5 3 9 3 35 9 16 6 11 6 3 3 2 3-1 3-4 2-6 1-15 0-72-9-9-2-12-7-6-6-2-3 0-9-1-1-6-2-15 2-5-2-2-3 0-6zM-231 0l9-1 9 2 9 3 8 5 2 6 1 24-1 6-4 6-6 5-3 1-6-1-10-8-5-7-13-26-2-6 0-3 3-3z"/><path fill="#0A10F5" d="M-96 -123l21-1 21 3 11 4 4 3 1 3-2 3-8 4-12 2-12 2-18 0-30-2-12 0-3-1-3-2-1-3 1-3 3-3 7-3 14-4zM171 -118l6 0 3 1 1 3 0 3-4 3-3 0-3 0-3-3 0-3zM-282 -34l3-1 1 2 0 3-1 3-3-2zM-183 -9l5 3-5 3-2-3zM-141 0l6 0 11 6 9 3 50 12 13 6 5 3 3 3 0 3-7 3-15 0-27-2-48-8-9-5-5-6-1-3 1-3 5-6 6-5zM-219 18l6 3 4 6 2 9-3 4-3 0-3-2-5-8-2-9 1-2z"/><path fill="#4110F5" d="M-105 -120l18-2 21 2 14 3 4 3 1 3-2 3-8 3-12 2-12 1-27-1-15-3-7-2 0-3 3-3 7-3zM171 -115l3-1 3 0 1 2-1 3-3 1-3-1zM-141 8l9 0 60 13 15 6 5 3 1 3-2 3-4 1-15 0-27-3-39-7-7-3-3-3-2-3 0-3 2-3z"/><path fill="#8220F0" d="M-111 -117l18-3 18 1 13 2 6 3 1 3-3 3-8 2-21 3-12-1-12-2-8-2-3-3 2-3zM-138 12l6-1 53 10 10 3 7 3 3 3 0 3-10 2-18-1-48-9-6-3-3-4 1-3z"/></g>
<path fill="#fff" d="M-62.5 212.5L-55.5 216-35.5 216.9-11.5 216-7.5 218.5-3.5 227.5 5.5 240.5 6 246-72 246-72 212Z"/>
<use href="#land" fill="#fff" stroke="#7c7c7c" stroke-width="0.9"/>
<use href="#lakes" fill="#fff" stroke="#7c7c7c" stroke-width="0.9"/>
<use href="#ol" fill="none" stroke="#8a8a8a" stroke-width="1.1"/>
</g>
<text x="232.2" y="194.8" font-size="36.05" textLength="399.2" lengthAdjust="spacingAndGlyphs" fill="#05608a">CESM1-HR (10 Members)</text>
<text x="20.1" y="234.3" font-size="27.76" textLength="126.3" lengthAdjust="spacingAndGlyphs" fill="#000">1920-2100</text>
<g transform="translate(1275.2 462.6)">
<use href="#land" fill="#fff" stroke="#7c7c7c" stroke-width="0.9"/>
<use href="#lakes" fill="#fff" stroke="#7c7c7c" stroke-width="0.9"/>
<use href="#ol" fill="none" stroke="#8a8a8a" stroke-width="1.1"/>
</g>
<text x="1190.6" y="200.9" font-size="35.61" textLength="170.6" lengthAdjust="spacingAndGlyphs" fill="#000">ORAS5-dsl</text>
<text x="864.0" y="234.3" font-size="27.76" textLength="126.4" lengthAdjust="spacingAndGlyphs" fill="#000">1958-2023</text>
<g transform="translate(2118.9 462.6)">
<use href="#land" fill="#fff" stroke="#7c7c7c" stroke-width="0.9"/>
<use href="#lakes" fill="#fff" stroke="#7c7c7c" stroke-width="0.9"/>
<use href="#ol" fill="none" stroke="#8a8a8a" stroke-width="1.1"/>
</g>
<text x="1930.3" y="200.9" font-size="35.61" textLength="378.7" lengthAdjust="spacingAndGlyphs" fill="#000">CESM1-HR - ORAS5-dsl</text>
<g transform="translate(2962.6 462.6)">
<use href="#land" fill="#fff" stroke="#7c7c7c" stroke-width="0.9"/>
<use href="#lakes" fill="#fff" stroke="#7c7c7c" stroke-width="0.9"/>
<use href="#ol" fill="none" stroke="#8a8a8a" stroke-width="1.1"/>
</g>
<text x="2685.3" y="200.9" font-size="35.61" textLength="554.1" lengthAdjust="spacingAndGlyphs" fill="#000">Rank of ORAS5-dsl within Ensemble</text>
<g transform="translate(431.5 1040.8)">
<g clip-path="url(#clip)"><use href="#ol" fill="#FFF59B"/><path fill="#FFE141" d="M-102 -252l19-3 38 0 18 3 12 4 7 5 4 6 0 3-1 6-3 6-7 6-9 4-12 3-12 2-15 0-18-2-15-3-12-4-9-6-6-6-2-6 0-6 5-6 6-3zM198 -201l21 0 21 2 17 4 10 5 9 7 5 9 1 6 0 6-4 9-6 6-8 3-12 3-18 1-21-1-18-3-12-3-14-6-8-6-4-6-2-9 2-9 5-6 9-6 12-4zM-51 -190l9-2 12 1 15 3 21 7 12 2 18 0 6 2 6 4 4 8 3 18-1 12-3 4-3 0-3-2-18-14-45-2-38-13-8-6-1-3 0-6 5-7zM-114 -178l9 0 8 4 2 3 1 3-3 6-5 4-6 2-6 0-7-3-3-3-1-3 1-6 4-4zM306 -118l6 1 6 2 9 6 7 7 10 12 9 12 6 9 5 12 4 15 0 9-1 9-2 9-4 9-11 18-9 12-13 12-10 7-12 6-42 9-68 20-22 5-21 3-15 1-9-3-15-7-22-8-21-9-17-9-21-13-9-5-9-3-21-6-3-1-4-5 0-3 1-3 6-3 12 0 6-1 4-2 3-3 1-3-1-6-2-3-5-4-6-1-36-3-105-6-35-7-7-3-7-6-5-11-3-10 0-6 3-3 6-3 9 0 12 1 33 6 30 3 78 1 45-1 9-3 6-3 6-7 12-18 3-2 3 1 3 1 9 9 8 12 5 12 5 5 9 2 24 5 15 1 12 0 39-5 12-3 18-6 37-14 14-9 8-9 16-20 3-2zM-369 -76l9-2 9 1 9 6 5 8 2 6 1 9-8 36 1 6 3 6 5 3 12 5 27 3 9 3 10 7 7 9 1 6-1 6-4 6-4 4-9 6-9 4-30 7-7 3-6 6-3 6-1 6 0 3 2 4 6 4 45 9 4 1 5 3-1 3-11 3-9 0-36 2-30 3-6 0-6-2-5-3-4-6-15-39-6-6-9-3 0-64 10-8 8-12 4-9 9-30 2-6 6-7zM-117 57l6-1 6 1 7 3 3 3 1 3 0 3-2 3-6 5-6 2-9 1-6-3-5-5-1-6 1-3 3-3zM60 138l9-1 9 1 9 3 11 6 8 6 4 6 0 6-2 3-6 6-12 6-15 4-18 2-15 0-18-2-12-4-7-6-2-3 0-6 4-6 8-6 15-7z"/><path fill="#FFC81E" d="M204 -192l12-1 12 1 11 3 7 3 7 6 4 6 0 9-3 6-5 5-6 3-9 3-9 1-9 0-12-2-9-3-9-4-4-3-4-6-2-6 1-6 5-6 4-3 9-4zM-45 -177l9-3 12 0 9 2 15 6 9 2 27 1 3 1 3 3 2 6 0 6-2 4-3 1-9-5-9-1-15 0-18 2-7-1-26-12-3-3-2-3 1-3zM297 -85l6-1 6 0 9 6 6 6 5 8 3 9 3 9 1 9 0 9-4 15-6 15-11 13-6 5-9 5-9 2-24 4-14 4-73 30-24 7-21 3-15-2-29-8-26-12-28-18-9-3-31-7-5-2-2-3 0-3 2-3 20-2 22-7 1-3-8-4-10-8-5-2-6-2-39-3-106-5-27-9-5-3-6-7-6-11-2-6 1-3 4-3 9-1 10 1 23 6 15 2 141 6 15 0 6-2 3-2 6-13 6-9 6-5 3-1 6 3 6 7 3 5 2 15 2 3 5 2 12 2 36 4 18 0 18-2 21 0 12-2 33-14 33-10zM-366 -69l9-2 6 2 6 4 5 8 1 6 0 6-6 24-2 12 0 6 2 4 6 4 10 4 11 3 24 3 9 4 6 4 4 4 2 3 2 6-2 6-2 3-10 8-15 5-30 7-9 4-3 4-2 5-5 15-1 6 1 9-1 3-7 4-12 2-6-1-5-5-15-39-3-6-7-5-12-5 0-43 9-7 12-14 8-16 11-36 5-6zM63 141l9-1 6 1 6 2 6 4 5 6 1 6-1 6-2 3-6 4-9 4-18 3-18 2-12 0-9-3-6-3-4-4-1-3 1-3 7-6 9-5 18-6z"/><path fill="#FFAA00" d="M204 -181l12-2 6 1 8 2 4 3 3 3 2 6-1 3-2 3-5 3-6 2-9 1-12-3-5-3-3-3-2-6 4-6zM-24 -170l6 0 6 2 3 3 1 3-4 3-3 1-4-1-5-3-3-3 0-3zM63 -75l3 0 3 2 3 4 0 3 0 6-5 9 1 3 7 3 18 3 39 2 21 1 18-1 9 1 12 4 6 1 3 0 6-3 21-14 15-6 12-3 36-6 9 0 6 2 3 3 6 9 3 13-1 12-3 9-5 8-6 6-6 3-9 2-24 2-33 6-30 1-6 1-10 4-10 6-3 3-4 9-4 6-11 9-12 5-9 3-9 1-12 1-12-2-15-5-11-6-12-9-6-3-10-3-45-9-7-3 1-4 30-4 36-2 36-1 14-1-5-3-25-6-53-8-18-6-39-3-108-5-6-2-4-3-10-9-4-6-1-6 1-2 15 2 66 1 108 5 18-1 11-2 3-3-5-9 0-6 3-6 3-2zM-366 -64l9-2 6 2 5 4 3 6 0 9-9 39 0 6 2 3 3 3 6 3 23 6 21 3 8 3 9 6 2 3 2 6-3 6-2 3-10 6-12 4-30 6-9 5-4 6-6 15-8 14-3 3-6 2-3 0-3-2-6-10-5-10-6-18-4-5-6-5-15-8 0-27 12-10 15-20 7-15 10-33 2-3zM63 144l6-2 6 1 6 2 4 2 3 3 2 6-1 6-2 3-6 4-6 2-33 7-15-1-7-3-3-3-1-3 2-3 3-3 9-4 18-5 9-6z"/><path fill="#FF8700" d="M-363 -61l6-1 5 2 3 3 3 6-1 6-10 39 0 6 3 6 4 3 8 3 48 11 9 5 3 5 1 3-3 6-10 6-12 4-27 6-9 3-6 6-7 17-5 7-3 3-6 2-3-1-3-2-5-6-3-6-7-18-3-5-6-6-12-7-6-6 0-9 12-13 20-26 6-12 9-33 4-5zM246 -52l15-2 16 3 7 3 5 3 2 3 1 6-2 3-5 5-15 5-18 2-9 0-6-2-6-4-2-3-1-6 3-6 3-3 4-3zM-135 -45l54 0 51 0 60 3 33 1 25 2 68 3 12 0 9 2 5 4 5 6 1 6-4 9-4 5-6 4-9 1-57-7-81-9-21-4-36-2-105-5-5-1-5-3-1-3-1-3 1-3 2-3 3-2zM54 12l69 3 3 1 3 2 2 3 1 6-1 3-5 5-6 1-12-1-27-3-50-8-17-3-8-3 6-3 9-1zM63 147l9-2 6 1 3 2 4 5 1 6-2 3-4 3-5 2-15 2-18 6-12-1-7-3-1-3 2-3 9-4 15-1 3-1 7-9z"/><path fill="#FF5A00" d="M-363 -55l3-2 3 0 3 1 3 5 0 4-10 41 1 9 3 5 3 3 6 2 42 9 9 3 8 5 2 3 0 3-1 3-3 3-9 5-12 4-24 5-9 3-6 7-9 18-3 3-6 3-6-3-3-4-3-5-5-15-3-6-6-6-12-9-2-3-2-6 3-6 13-18 13-15 5-9 3-6 8-30zM-138 -41l3 0 24-1 81 0 174 8 15 3 12 1 4 3 2 3 1 6-2 6-4 3-4 2-27 1-156-16-120-5-7-3-1-3 0-3 2-2zM57 15l66 3 4 3 1 3 0 3-2 3-3 1-15 0-27-3-45-7-7-3zM72 147l6 2 3 2 2 5-2 4-3 3-6 2-6 0-6-3-1-3 1-6 3-3 3-2zM39 165l3 0 4 3-4 3-6 1-4-1-2-3 3-2z"/><path fill="#FF1E00" d="M-93 -39l66 0 171 7 7 2 11 7 3 1 2 1 0 3-17 8-6 1-147-14-132-6-3-1-2-3 1-3 4-2zM-372 -10l3 0 3 10 2 6 7 6 6 3 24 5 24 6 8 4 2 3 0 3-1 3-3 3-6 3-12 4-24 5-8 3-6 6-7 15-2 3-4 3-3 0-3-1-3-2-4-6-7-18-4-6-13-12-2-6 3-6 11-18zM72 21l15-1 29 1 7 1 1 2-1 3-3 1-35-4-14-3zM69 150l6 0 3 2 1 4-2 3-5 2-3 0-4-2-1-3 1-3z"/><path fill="#EB0000" d="M-108 -36l78-1 111 5 63 3 6 2 3 3 1 3 0 3-4 4-3 1-6 1-135-12-88-3-44-3-9-3 9-2zM-378 3l3-1 3 1 9 9 9 5 27 5 18 5 7 3 3 3 0 3-1 3-3 2-9 4-27 6-9 4-6 5-9 15-3 3-5 0-4-4-9-20-14-15-2-6 2-6 8-15 6-6zM72 155l1 1-2 0z"/><path fill="#CD0000" d="M-102 -33l30-2 42 0 87 5 87 3 5 3 1 3-1 3-2 2-6 1-111-11-90-2-33-1-9-1-3-3zM-381 9l6-1 18 10 27 5 14 4 7 3 3 3 1 3-2 3-8 4-27 7-9 4-7 6-8 11-3 1-3-2-8-16-11-12-4-6 0-6 4-9 4-7z"/><path fill="#DC4141" d="M-78 -33l51-1 11 1 15 3-38 1-42-1zM126 -24l18 0 2 3-1 3-4 0-23-3 2-2zM-381 13l6 0 18 7 21 4 12 3 9 4 3 2 0 3-2 3-5 3-32 9-5 3-10 8-3 1-3-3-7-9-8-9-4-6 0-6 1-4 4-8z"/><path fill="#FFAFAF" d="M-378 17l6 1 15 5 27 4 9 4 2 2 1 3-2 3-7 3-21 5-18 8-3 0-3-1-9-9-6-9-1-3 1-6 4-6 2-3z"/><path fill="#B9E1F5" d="M45 -252l7-3 182 0 24 4 18 7 10 7 2 3 1 6-3 6-6 6-7 3-12 3-27 1-66-4-24 0-20 3-43 13-12 2-9-1-12-2-9-4-6-4-4-7-1-12 2-12 6-9zM-204 -246l12 0 12 3 9 4 9 7 8 10 7 12 0 9-3 7-9 6-9 4-12 1-12-1-15-3-15-4-12-6-8-7-5-6-2-6 2-9 4-6 8-6 10-5 9-3zM-174 -168l9-2 9 1 6 2 10 8 10 6 13 4 9 0 6-2 21-8 6-1 36 9 21 6 42 3 11 10 11 12 4 9 0 9-1 6-3 9-7 10-9 5-18 3-39 3-54 0-45-4-42-7-12-1-9 1-3 2-3 3-2 3-1 6 7 21 2 5 4 4 5 3 9 2 33 6 93 5 55 5 5 3 2 3 0 6-1 3-7 4-15 0-6 2-3 1-2 2 0 3 1 3 4 5 6 4 11 3 13 5 50 28 42 18 9 6 13 12 9 4 9 1 18-2 87-12 30-2 57-1 18 3 18 5 21 10 18 13 0 79-9 7-12 8-24 12-33 11-33 7-39 5-36 1-39-3-36-5-27-5-30-9-31-10-7-3-4-3 2-3 37-13 18-9 7-5 5-5 2-4 2-6 0-6-3-6-4-5-6-4-6-2-33-8-12-2-18 2-21 5-17 8-12 9-4 6-2 6 1 6 1 3 3 4 6 6 23 17 0 3-14 4-27 4-30 2-33 0-111-7-114-5-33-3-33-5-27-7-21-7 0-38 6-2 9-3 9-1 21 0 36-4 60-4 21-5 7-3 3-3 0-3-3-3-5-3-53-21-5-3-1-3 1-3 3-3 20-11 15-11 5-5 3-6 2-9-1-6-3-6-6-6-9-7-6-3-6-2-18-1-9-2-7-3-6-6-1-6 0-6 7-36-2-24 0-6 3-6 3-5 3-3 6-3 6-1 15 3 6-2 23-25 10-8 12-8 30-13zM-127 54l-6 3-3 3-4 6 0 9 5 12 0 3-3 3-24 8-9 4-6 5-3 4 0 3 1 3 5 3 6 1 18-1 27-6 8-3 3-3 2-6-2-9 1-3 3-3 12-7 7-5 5-6 0-6-1-3-5-4-12-6-12-1zM75 -163l6 0 6 1 42 12 26 6 35 6 50 7 12 2 9 4 6 5 2 3 2 6-1 9-2 6-4 6-10 9-14 8-21 8-21 5-45 8-15 1-15-3-16-6-10-6-23-30-7-12-2-9 1-30 3-10 3-4z"/><path fill="#96D2F0" d="M198 -237l15-2 17 2 8 3 4 3 1 3-2 3-6 3-16 1-10-1-12-3-7-3-4-3 1-3zM-81 -151l6 0 9 0 24 4 24 6 39 3 12 11 7 10 3 9 1 6-1 6-2 6-4 6-3 3-10 4-27 4-39 2-39 0-24-2-24-2-42-8-15-2-6 0-6 2-3 3-1 2-2 6 2 9 8 24 2 5 5 4 8 3 41 6 90 5 57 5 3 2 3 3 0 3 0 3-3 4-6 2-15 0-18 3-2 3 14 12 6 4 20 8 49 27 45 20 7 4 5 6 4 6 3 12 0 9-2 3-5 5-9 3-12 2-9-2-33-8-9-1-6 2-27 12-21 13-11 10-13 20-9 6-12 3-15 2-18 0-18-1-21-3-22-6-12-6-4-3-2-3 0-3 2-3 6-6 27-21 17-10 6-4 5-7 4-14 3-4 19-15 6-6 1-3 0-3-1-3-3-3-8-6-14-6-15-3-15 1-13 5-4 3-5 6-7 18-3 6-22 17-15 14-6 5-6 2-6-1-20-13-25-11-7-4-6-6-4-6-1-9 2-6 13-22 2-8-1-9-3-6-7-8-9-9-9-7-6-2-3-1-12 2-6 0-4-2-5-4-3-8 1-9 2-11 6-15 3-3 3-1 3 1 12 13 3-1 1-4 0-12 1-6 4-6 3-4 6-3 9-1 6 2 9 5 3 1 3-1 22-17 7-6 3-6 4-12 7-9 12-9 17-9 12-4 12-3 12-1 18 2 12 0 12-2zM156 -132l18-1 24 2 24 3 17 5 10 6 6 6 1 6-1 9-3 6-9 8-9 5-12 6-18 5-27 4-21 5-15 1-7-1-8-3-10-6-14-17-12-10-6-6-4-6-2-6-1-6 1-5 3-5 3-1 6-1 15 4 9 0zM222 117l15-1 15 1 15 5 15 7 15 9 10 9 3 3 2 6-1 6-1 3-4 5-4 4-11 6-16 6-20 4-21 1-24-2-18-3-12-6-6-6-3-7-4-17 0-6 1-4 6-5 18-9 16-6z"/><path fill="#55C3F5" d="M-78 -144l12-1 18 2 30 6 36 3 9 8 6 7 3 5 2 12-2 9-3 4-6 4-9 3-12 2-42 4-45 0-39-4-33-7-12-4-9-4-6-5-5-5 0-6 4-6 13-8 15-6 15-5 33-3zM180 -126l15 0 15 2 12 3 11 4 7 6 4 6 0 6-2 6-4 6-8 6-11 5-13 4-59 10-9-1-9-5-5-7-2-6 0-6 3-12 6-9 10-8 12-5 12-4zM-276 -72l6 0 6 3 9 13 3 2 3 0 3-2 9-8 6-4 9-3 6 1 6 5 3 4 5 10 6 18 4 3 9 4 12 2 33 4 88 5 59 5 4 4 1 3-1 3-4 4-53 2-4 1-4 2 13 5 27 15 39 19 27 15 51 24 7 6 3 6 2 9-1 6-4 6-7 5-9 2-12-2-33-15-39-21-36-13-30-15-12-3-28-10-11-2-9-1-18 2-13 4-6 3-5 6-9 18-8 12-14 15-11 7-9 2-6 0-27-12-9-5-5-4-5-6-3-6-2-6 0-6 8-24 0-6 0-6-2-6-3-5-22-28-3-9 1-24-2-21 2-6 2-3zM-57 89l9-1 12 0 9 2 9 4 12 7 7 7 4 6 0 6-4 6-6 6-43 27-9 4-9 2-9 0-9-3-6-3-2-3-3-9 1-15 4-15 5-9 7-8 11-7zM225 132l6-2 6 1 9 3 5 4 1 3-2 6-4 4-9 3-9 0-9-4-3-3-1-6 1-3 2-3z"/><path fill="#00BEFF" d="M-75 -138l15 0 18 1 57 9 7 5 7 9 2 9-1 6-3 4-6 5-9 3-12 2-36 4-39 1-33-4-24-6-27-9-6-4-5-5 0-3 2-3 4-3 17-7 24-6zM189 -120l21 2 9 3 6 3 5 4 3 6 0 3-1 6-6 6-4 3-9 4-12 4-51 6-6-1-5-4-2-6 1-9 5-9 8-9 8-5 9-4 9-2zM-276 -69l6 0 4 3 8 14 6 7 3 1 4-1 11-11 6-4 6-2 6 1 6 5 3 4 6 16 4 6 5 3 9 2 45 6 73 4 70 6 4 1 2 2 1 3-1 3-2 2-3 1-99-1-20 1 9 3 56 10 9 3 41 20 52 28 50 23 4 4 3 5 1 6-1 6-4 6-5 4-6 1-9-1-24-12-48-28-36-13-30-12-15-3-30-8-21-3-33 4-6 2-3 3-3 5-8 16-10 18-9 12-6 4-9 4-6 0-9-3-16-8-9-6-5-6-5-9-2-6 0-6 4-24-2-12-3-6-9-12-9-15-5-9-1-6 0-24-3-18 3-6z"/><path fill="#14A0FA" d="M-66 -132l27 1 31 5 12 3 8 3 3 3 4 6 1 6-4 6-5 3-17 6-24 3-30 2-27-2-36-7-24-7-9-4-3-3 0-3 3-4 6-3 12-4 51-8zM177 -111l15-2 16 2 7 3 4 3 2 3 0 6-4 6-4 3-12 4-9 2-12 0-12-1-7-2-3-3-1-3 0-3 2-6 6-6 4-3zM-276 -66l5 0 4 3 9 18 6 6 6 4 3 0 3-2 7-11 5-4 5-2 4 0 6 2 3 4 7 15 2 3 4 3 9 3 50 5 24 1 70 6 50 5 3 1 1 3-1 2-3 2-45-1-78-2-19 2-2 2-9-2-9 0-9 3 3 3 3 1 7-1 11-3 6 1 7 2 15 3 47 8 24 4 31 15 56 31 57 26 3 3 3 6-1 6-1 3-2 3-5 3-6 1-6-1-72-43-66-23-15-2-33-8-18-1-24 1-15-1-3 0-3 2-3 5-8 19-12 24-6 9-7 5-6 2-6 0-9-3-12-7-8-6-5-6-5-9-2-12 2-21-2-12-2-6-10-12-5-9-6-12-3-9-2-24-2-18 2-4z"/><path fill="#2387F5" d="M-108 -123l42-3 15 0 15 2 18 4 10 3 5 3 2 3 1 3-1 3-3 3-6 3-9 3-17 3-21 1-30-2-33-4-21-5-5-2-4-3-1-3 3-3 6-3 16-4zM186 -102l6-1 8 1 4 3-1 3-3 3-5 1-6 1-6-2-3-3 1-3zM-273 -63l3 2 5 10 8 12 17 16 3 0 3-3 3-10 3-6 3-3 6-1 3 1 3 2 5 10 2 3 8 5 9 2 21 3 74 5 65 6 27 3 8 2 1 1-1 1-24 0-99-3-42 2-14 3-3 3 1 3 3 3 7 4 6-1 15-4 9 0 69 12 24 5 29 14 37 26 75 31 3 3 1 3-1 6-2 3-4 2-6 0-3-1-24-16-36-26-6-3-72-20-15-2-45-8-15 0-12 1-6-1-6-2-12-8-3 0-2 3-9 30-14 30-4 6-4 4-6 2-6 0-6-2-9-5-9-7-6-7-4-9-2-12 0-21-2-12-4-6-10-12-9-18-4-9-3-42 2-3z"/><path fill="#3C73E6" d="M-111 -120l30-1 30 2 10 2 8 3 4 3 1 3-5 4-12 4-15 1-18 1-21-1-21-2-15-3-7-4-1-3 5-4 12-3zM-270 -49l18 19 12 15 6 6 6 4 2-1 1-9 5-12 1-2 3 0 21 6 12 2 45 4 30 2 55 6 8 2 10 1-16 1-66-2-45 3-10 1-10 3-4 3 1 3 8 9 1 6 1 15-3 15-4 12-13 28-6 6-3 1-6 0-9-3-9-7-7-7-5-9-3-12-1-24-1-9-3-6-7-6-5-6-9-18-3-9-2-15 2-12zM-144 11l9 0 39 6 30 5 21 5 20 9 8 6 2 4-1 2-2 0-9 0-21-3-21-3-39-6-33-2-7-4-6-6-2-3 0-3 3-3zM84 99l3-1 6 1 4 3 0 3-4 2-3-1-4-4z"/><path fill="#3250E6" d="M-117 -117l18-2 21 1 18 3 7 4-1 3-5 3-13 2-12 1-15 1-15-2-13-2-7-3-1-3 4-3zM-267 -39l3 1 9 9 24 33 3 2 3 1 7-1 6-3-1-3-5-9-1-6 3-6 6-3 3 0 15 3 12 2 81 7 3 3-69 3-18 3-10 3-5 3 1 3 8 6 4 6 3 12 1 12-4 15-11 27-5 7-3 2-6 1-6-2-9-6-7-8-5-9-3-15-1-24-1-6-2-3-11-8-3-4-12-27-1-6 0-9 1-4zM-144 14l6-1 6 0 42 7 27 5 18 5 12 6 3 3 0 1-1 2-5 1-24-2-54-8-24-2-8-4-4-6 0-3z"/><path fill="#0A10F5" d="M-120 -114l15-2 15 0 14 2 6 3-1 3-10 3-24 1-9-1-11-3-2-3zM-264 -33l3 2 6 6 17 25 3 6 1 9 6 0 18-2 9 2 6 3 6 9 2 6 0 9-2 15-10 24-5 6-3 2-6 0-8-5-7-7-5-8-2-6-2-12 0-33-9-3-6-2-3-3-2-4-8-18-3-9 0-9 1-2zM-210 -22l6 0 18 3 43 4 22 3-15 3-29 2-36 5-6 0-6-4-3-6 1-6zM-144 18l3-2 6-1 51 8 30 7 8 3 3 3-2 2-6 1-15-1-69-10-5-1-4-3-1-3z"/><path fill="#4110F5" d="M-114 -111l15-2 13 2-3 3-13 1-10-1-3-3zM-264 -27l3 0 3 2 17 25 2 6-1 3-3 3-6 0-3-2-3-4-10-24 0-6zM-210 -20l6-1 60 9-54 7-9 1-3-2-3-3-1-3 0-3zM-138 20l3-1 21 1 27 4 24 6 6 3-3 2-6 1-24-3-45-8-2-1-2-3zM-225 23l12-2 9 2 6 4 3 4 2 5 1 12-5 18-4 9-3 5-3 3-3 1-6-2-6-4-7-9-3-9-2-12 0-12 3-8 3-4z"/><path fill="#8220F0" d="M-207 -19l31 4 10 3-26 5-12 1-3 0-3-3-2-3 0-3 2-3zM-258 -17l6 6 9 14 0 3-3 3-3 0-4-3-5-15-1-6zM-105 26l6 0 12 1 11 3-5 1-11-1-14-3zM-222 29l6-1 9 2 6 5 3 7 0 9-2 12-4 9-3 4-3 1-6 0-6-4-5-7-2-6-2-12 1-9 3-6z"/></g>
<path fill="#fff" d="M-62.5 212.5L-55.5 216-35.5 216.9-11.5 216-7.5 218.5-3.5 227.5 5.5 240.5 6 246-72 246-72 212Z"/>
<use href="#land" fill="#fff" stroke="#7c7c7c" stroke-width="0.9"/>
<use href="#lakes" fill="#fff" stroke="#7c7c7c" stroke-width="0.9"/>
<use href="#ol" fill="none" stroke="#8a8a8a" stroke-width="1.1"/>
</g>
<text x="235.1" y="773.0" font-size="36.05" textLength="393.6" lengthAdjust="spacingAndGlyphs" fill="#55835b">CESM1-LR (10 Members)</text>
<text x="20.1" y="812.5" font-size="27.76" textLength="126.3" lengthAdjust="spacingAndGlyphs" fill="#000">1920-2100</text>
<g transform="translate(1275.2 1040.8)">
<use href="#land" fill="#fff" stroke="#7c7c7c" stroke-width="0.9"/>
<use href="#lakes" fill="#fff" stroke="#7c7c7c" stroke-width="0.9"/>
<use href="#ol" fill="none" stroke="#8a8a8a" stroke-width="1.1"/>
</g>
<text x="1190.6" y="779.1" font-size="35.61" textLength="170.6" lengthAdjust="spacingAndGlyphs" fill="#000">ORAS5-dsl</text>
<text x="864.0" y="812.5" font-size="27.76" textLength="126.4" lengthAdjust="spacingAndGlyphs" fill="#000">1958-2023</text>
<g transform="translate(2118.9 1040.8)">
<use href="#land" fill="#fff" stroke="#7c7c7c" stroke-width="0.9"/>
<use href="#lakes" fill="#fff" stroke="#7c7c7c" stroke-width="0.9"/>
<use href="#ol" fill="none" stroke="#8a8a8a" stroke-width="1.1"/>
</g>
<text x="1933.1" y="779.1" font-size="35.61" textLength="373.1" lengthAdjust="spacingAndGlyphs" fill="#000">CESM1-LR - ORAS5-dsl</text>
<g transform="translate(2962.6 1040.8)">
<use href="#land" fill="#fff" stroke="#7c7c7c" stroke-width="0.9"/>
<use href="#lakes" fill="#fff" stroke="#7c7c7c" stroke-width="0.9"/>
<use href="#ol" fill="none" stroke="#8a8a8a" stroke-width="1.1"/>
</g>
<text x="2685.3" y="779.1" font-size="35.61" textLength="554.1" lengthAdjust="spacingAndGlyphs" fill="#000">Rank of ORAS5-dsl within Ensemble</text>
<g transform="translate(431.5 1619)">
<g clip-path="url(#clip)"><use href="#ol" fill="#FFF59B"/><path fill="#FFE141" d="M-138 -252l6-3 144 0 9 5 5 7 2 6 0 6-2 6-5 7-9 8-16 9-2 3 1 3 3 3 5 3 18 4 27 8 24 10 3-1 3-6 6-18 19-39 5-6 6-5 6-3 9-3 15 0 12 3 9 5 19 12 8 3 11 3 46 7 15 4 18 6 18 10 7 6 5 6 8 12 11 30 6 9 9 9 32 24 12 12 7 9 7 12 4 15 0 15-4 12-8 15-12 13-15 12-21 12-24 10-69 24-96 40-12 4-6-1-3-1-21-15-32-11-16-8-8-7-12-18-7-5-6-3-25-7-5-2-3-4 0-3 1-3 5-6 1-3-2-3-2-1-9-4-39-10-78-15-6-3-12-12-22-12-10-9-2-3 0-3 3-3 9-3 10-1 21-1 48 3 30-1 42-2 39-4 9-1 9-5 3-3 1-6 0-12-3-12-7-12-12-14-3-2-12-2-33 3-6-1-25-8-12-6-7-6-3-6 1-9 4-12-1-3-7-3-25-5-18-5-15-9-11-11-4-9 0-6 3-5zM72 -162l-3 2-5 7-1 3-1 6 3 24 5 15 14 24 9 12 6 5 6 3 18 6 12 2 12-1 27-7 39-6 27-8 21-9 20-12 12-12 4-9 0-6-5-6-12-6-13-4-93-12-15-1-30 2-12 0-15-3-27-11zM41 -48l13 1 8-1-8-3zM-366 -108l9 0 9 3 9 8 6 7 5 9 3 9 5 30 5 15 7 12 23 27 6 12 2 9-1 6-2 6-5 8-6 6-9 8-27 17-6 5-2 4 0 3 1 3 4 2 35 10 13 6 2 3-3 3-5 2-15 3-18 2-45 1-18-1-7-4-5-6-1-6-2-14-3-7-6-6-9-6 0-107 5-10 9-33 9-18 7-9 6-6 9-5zM-123 44l9-1 12 1 9 2 11 5 9 6 6 6 3 6 0 6-5 6-6 4-9 5-9 3-6 1-9-1-9-2-9-4-6-4-5-5-3-6 0-6 1-6 4-8 6-5zM42 123l9 0 15 4 33 10 24 3 6 2 7 5 5 9 1 9-1 6-4 6-5 4-15 9-24 9-27 4-27 1-21-3-18-5-12-6-6-4-7-9-1-9 3-9 5-6 12-10 18-9 18-9z"/><path fill="#FFC81E" d="M-75 -249l33-1 15 1 12 3 9 2 6 4 3 3 2 6-1 3-4 5-6 4-6 2-15 4-21 1-24-1-21-4-14-5-4-3-5-6 0-3 1-3 3-3 6-3 13-4zM126 -219l9-3 9 1 30 7 51 3 15 2 12 4 16 7 11 9 4 6 2 6 1 6-1 6-3 6-3 3-6 4-12 3-18 1-30-2-45-8-36-3-12-3-8-4-4-4-3-5-1-9 2-9 5-11 6-7zM-42 -190l9-1 9 1 21 7 24 3 24 7 6 3 5 5 2 6-1 12 1 15 0 9 0 9-1 2-2-5-8-12-11-12-7-6-14-2-33 3-6-1-17-6-13-7-5-5-2-3 0-3 1-6 6-7 6-3zM60 -111l1 3 26 39 11 12 2 3-4 3 1 3 44-2 30-7 39-5 33-9 51-19 12-2 9 0 9 1 12 5 9 5 10 9 7 9 4 9 1 9-1 9-5 12-7 10-12 10-15 10-21 10-56 23-47 27-26 13-24 9-9 3-6 0-41-13-19-7-12-8-11-15-7-7-9-4-24-7-8-3-2-3 0-3 1-3 7-6 1-3 0-3-2-3-3-2-15-5-22-5-92-16-7-5-8-11-17-13-4-6 0-3 3-3 6-2 9-1 21-1 36 2 42 0 42-3 36-4 9-3 3-2 3-4 3-9 1-15 1-3zM35 -51l-5 3 24 3 6-1 6-2-3-3-6-1zM-366 -91l6 0 9 3 6 4 6 6 8 15 8 30 5 11 7 10 17 17 6 7 5 9 2 6 1 6-1 6-3 6-4 6-6 6-9 7-30 16-7 7-5 9 0 6 3 3 6 4 20 5 5 3-3 3-13 2-36 3-15 0-6-2-3-3-2-3-2-18-5-11-9-13-12-8 0-74 7-8 5-9 8-30 8-18 5-7 6-6 6-4zM-123 48l9-3 9 1 9 2 9 3 9 6 5 6 2 6-2 6-5 6-5 3-7 4-6 1-6 1-9-1-6-1-8-4-5-3-5-6-1-3-1-6 1-6 4-6 3-3zM45 132l15-1 15 2 40 14 5 3 6 6 1 6-1 6-3 5-4 4-8 5-9 4-21 5-24 3-21-1-21-3-9-3-9-4-6-4-5-5-2-6 1-6 4-6 6-6 8-5 12-6 18-5z"/><path fill="#FFAA00" d="M186 -204l18-2 18 0 15 3 12 4 12 7 6 6 3 9-1 9-4 6-3 3-10 4-15 3-21-1-15-2-14-4-36-12-13-6-6-6-1-6 2-3 2-3 5-3 10-2zM-39 -184l12-1 27 7 18 1 27 7 6 5 2 6-2 20-3 2-15-10-3-2-5-1-10-1-36 3-6-1-6-3-17-10-4-6 1-6 2-3 6-5zM63 -91l3 0 3 2 22 32 1 3-4 3-2 3 10 3 33 0 12-1 30-7 27-3 15-3 66-17 12-2 9 0 9 1 9 2 6 3 8 6 5 6 3 6 2 6 0 9-3 9-7 9-8 7-12 8-24 11-53 16-13 5-11 7-25 21-18 12-12 6-12 4-9 2-6 1-24-4-24-8-12-7-12-15-9-6-9-4-21-5-9-4-2-2 0-3 17-18 1-3-4-3-10-3-17-3-75-10-39-7-5-4-3-3-4-15-7-9 1-3 3-2 12-2 96 0 36-2 27-4 15-3 3-2zM47 -54l-23 2-4 1-1 3 17 3 18 1 9-1 8-3-3-3-8-2-6-1zM-369 -79l9-2 6 2 6 4 6 6 7 12 8 27 6 12 6 8 18 16 6 6 5 9 2 9 0 6-2 6-4 6-6 6-13 8-24 12-8 7-6 9-5 9-1 6 1 9-5 4-12 1-9-1-3-1-3-6-1-12-11-21-9-11-12-9 0-55 9-9 6-10 3-8 8-27 5-12 8-10zM-111 48l9 1 9 2 6 3 7 6 2 3 1 6-3 6-2 3-5 4-6 3-12 2-12-2-6-3-6-4-3-5-2-4 1-6 1-3 3-5 6-4 6-2zM39 138l12-2 12-1 12 1 9 3 17 8 10 6 4 6 1 6-4 6-3 3-10 6-15 5-21 3-24 0-21-3-15-5-8-6-2-3 0-6 2-6 6-6 8-5 9-4z"/><path fill="#FF8700" d="M213 -201l12 1 9 1 9 3 6 4 7 6 3 6 1 6-3 6-6 6-8 3-12 2-15 0-15-3-15-5-10-6-6-6-1-6 1-3 7-6 15-6 9-2zM-33 -180l9 0 24 5 18 0 24 7 4 3 2 3 1 6-1 5-3 4-3 1-12-5-15-2-33 3-9-1-13-8-6-6-1-3 0-3 2-4 6-4zM63 -78l3-3 3 1 3 3 13 17 2 3 0 3-6 4-3 1-3-1-17-7-2-3 1-3zM-363 -73l9 2 6 5 3 3 7 12 8 24 6 12 6 7 17 14 6 6 6 9 2 9-2 9-4 6-4 5-12 8-21 10-7 4-5 5-21 29-3 2-3 1-3-1-3-2-3-4-9-14-12-22-6-7-12-10 0-37 12-13 6-10 4-10 7-24 7-15 5-6 4-3zM264 -66l15-2 12 0 12 2 9 5 7 7 2 6 0 9-4 9-5 6-9 7-12 7-12 4-27 7-45 7-18 7-14 9-5 9-6 6-6 9-8 7-15 8-9 3-9 1-16-1-17-5-8-4-13-12-10-6-11-4-27-8-5-3 0-3 2-3 6-5 6-3 36-7 1-3-6-3-28-6-99-10-45-8-6-3-3-3-1-6 2-6 5-7 9-4 12-2 18 0 69 3 7 1 2 3 6 3 18 3 18 2 21 0 18-4 21 5 33 1 15-2 24-8 30-1 9-1zM42 -60l3 0-4 0zM-114 51l12 0 9 3 5 3 3 3 3 6-1 6-2 3-8 6-6 2-6 1-9-1-10-5-5-6-1-3 0-6 4-6 3-3zM45 141l12-2 9-1 9 1 9 3 9 5 8 6 4 6 1 6-4 6-12 7-12 3-18 3-21 0-18-2-12-3-8-5-2-3 0-6 4-6 6-6 15-7z"/><path fill="#FF5A00" d="M207 -195l9-1 9 1 9 2 6 3 6 4 3 6 1 6-2 3-2 3-6 4-7 2-8 1-15-1-10-3-6-3-7-6-3-6 1-3 2-3 5-4 6-3zM-36 -175l6-1 6-1 21 4 21 1 24 7 2 3 1 6-3 4-3 0-6-1-18-2-33 4-6-1-8-4-7-6-2-3 0-3 1-3zM69 -70l3 1 6 6 4 6 0 3-7 1-5-1-5-3 0-3 1-6zM-369 -64l6-1 6 0 6 4 3 2 7 11 9 27 5 9 6 7 18 14 6 6 4 6 2 9-2 9-7 9-12 8-21 9-6 4-5 6-13 18-6 5-6 2-6-3-6-5-5-8-10-20-6-8-10-11-5-9 0-10 2-5 19-29 4-10 8-24 4-9 5-8zM252 -57l12-2 12 0 9 1 6 2 6 4 4 4 1 6-1 6-4 6-8 6-10 6-9 3-24 5-42 3-9 3-18 9-12 2-15-1-15 2-6-2-42-9-58-9-65-5-48-5-36-7-4-4 0-3 1-6 3-3 3-1 36-4 132 9 9-1 18-3 21 6 36 1 12-2 15-6 9-2 12-1 18 1 9 0zM66 9l12-1 60 2 6 3 6 6 4 8 0 6-2 6-5 6-3 2-6 3-21 1-18-1-18-3-36-13-26-7-5-3-1-3 5-5 6-3 15-2zM-114 54l6-1 6 1 6 2 6 4 3 6-1 6-2 3-6 4-9 2-9-1-5-2-4-3-4-6 1-6 4-6zM60 141l9-1 6 1 6 2 7 4 7 6 3 6 0 6-2 3-9 6-9 3-15 3-18 2-15-1-15-2-9-5-3-3 0-3 3-4 6-6 6-5 12-5z"/><path fill="#FF1E00" d="M210 -190l12 0 6 1 6 3 3 3 2 3 1 3-1 3-5 5-9 2-12 0-10-4-4-3-2-3 0-3 1-3 3-3zM-30 -172l6-1 21 2 21 2 15 4 6 3 1 3-1 2-3 1-21-1-36 4-7-3-6-6-1-3 0-3 2-3zM-366 -58l6-1 3 1 6 4 3 3 5 9 8 21 5 10 7 8 21 18 5 7 2 8-3 9-5 7-9 6-21 10-6 4-6 6-12 17-6 5-6 1-3-1-6-3-5-7-13-26-13-19-2-9 1-6 3-6 11-18 5-9 12-36 7-9zM249 -48l15-1 9 3 2 1 3 3 0 3-1 3-7 6-13 6-20 3-30-3-9 4-15 11-9 5-6 1-12-1-18 4-67-9-47-5-72-5-33-3-12-3-24-5-4-3-1-3 2-4 3-2 36-3 105 4 30 2 24-4 12 5 9 1 45 2 6-1 15-8 9-2 15 0 18 6 6 1 6-1 15-5zM66 12l12-1 60 6 6 3 4 4 2 6 0 3-3 6-2 3-7 4-6 0-27-2-21-3-24-4-36-10-7-3-1-3 2-3 9-3zM-114 57l9-1 6 1 4 3 3 3 1 3 0 3-2 3-6 5-6 1-6 0-7-3-3-3-2-3 0-3 3-6zM57 143l9-1 6 0 6 2 6 3 4 3 4 6 0 6-1 3-7 6-9 4-15 3-15 2-12 0-12-2-9-3-5-4 1-3 2-3 13-9 7-3z"/><path fill="#EB0000" d="M-27 -169l6-1 36 4 7 1 5 3-3 1-9 0-27 5-9 1-6-3-3-4-1-3 1-2zM-366 -52l6-1 3 1 6 5 6 10 8 19 4 9 8 9 15 12 6 6 3 6 2 6-1 4-2 5-6 6-9 6-22 11-6 6-14 19-4 3-6 2-6-3-8-8-10-23-11-19-2-9 2-9 15-27 12-33 5-8zM168 -43l9-1 9 0 6 3 3 2 1 3-1 3-2 3-9 6-10 9-6 2-9-1-15 10-6 1-105-12-114-8-15-5-21-4-2-4 2-2 5-1 31-3 105 3 30 2 21-2 21 5 42 1 15 3 3-2 5-7zM48 15l30-1 60 6 6 3 3 4 0 3 0 3-3 6-6 4-3 0-24-2-54-7-28-7-7-3-2-3 3-3 4-1zM-111 59l9 1 5 3 1 3 0 3-3 3-3 2-6 1-8-3-2-3-1-3 2-4zM66 144l6 0 6 2 6 4 2 3 2 6 0 3-2 3-4 3-7 3-9 3-15 3-12 1-9 0-9-1-7-3-3-3 0-3 7-5 34-16 8-2z"/><path fill="#CD0000" d="M-24 -166l3-1 11 2 7 3-9 3-9 1-2-1-3-3 1-3zM-366 -45l3-1 6 1 6 5 4 7 8 18 5 9 7 8 18 16 4 6 1 6-2 6-4 6-8 6-23 12-5 6-13 18-4 3-6 2-6-3-7-8-17-39-2-9 1-6 2-6 12-24 10-27 4-7zM-87 -39l6-1 105 3 33 2 18 0 21 3 42 2 6 1 3 2 4 6 1 3-3 6-3 3-5 3-6 1-90-10-126-9-3 0-9-5-12-4 1-3zM168 -39l6-3 6 0 7 3 2 3-2 3-4 2-6 3-6 0-3-1-3-4 0-3zM33 18l18-2 24 0 39 3 24 3 3 2 3 3 1 3-2 6-5 4-6 0-30-2-48-7-24-6-3-1-3-3zM-111 65l3-1 4 2-1 3-3 1-3-1-1-3zM60 146l9 0 9 2 5 5 2 3 0 3-1 3-6 5-6 2-21 6-9 2-9 0-9-1-6-2-4-3 1-3 4-3 20-7 13-8z"/><path fill="#DC4141" d="M-363 -40l6 1 3 3 4 6 12 24 8 10 18 17 3 6 0 3-2 6-5 6-26 16-6 6-12 18-3 2-6 2-6-3-6-8-14-36-2-9 3-12 11-24 8-21 6-9zM-87 -37l6-1 105 3 30 2 21 0 24 3 39 2 4 1 4 3 2 6-1 3-3 5-3 2-6 1-112-11-89-5-15-2-7-2-3-3-2-3 3-3zM177 -36l1 0-3 0zM45 18l30-1 33 3 30 4 4 3 1 3-2 5-3 2-3 1-12-1-69-7-21-6-2-3zM57 150l9-3 9 2 5 4 2 3-1 3-1 3-5 3-30 10-9 1-9-1-5-1-4-3 1-3 5-3 21-5 7-7z"/><path fill="#FFAFAF" d="M-84 -37l108 4 105 6 9 1 3 1 4 4 0 3 0 3-4 4-3 2-9 0-105-10-87-5-18-1-5-2-3-3 0-3zM-366 -31l3-2 3 0 3 2 3 3 15 25 22 24 3 6 0 3-2 6-2 3-8 6-16 10-6 6-12 18-3 2-6 2-6-3-6-9-10-29-2-12 1-6 3-9 17-38zM39 21l21-2 30 1 45 6 3 1 2 3-1 3-1 2-3 1-45-4-27-2-14-3-10-3-1-3zM63 150l6-1 6 2 2 2 1 3 0 3-3 3-6 3-9 1-6-1-1-3 1-6 2-3zM24 168l9-3 9 0 6 1 3 1 1 1-3 3-4 2-5 1-7 0-6 0-5-3z"/><path fill="#B9E1F5" d="M-222 -237l9-2 9 0 15 3 15 7 12 10 9 12 3 9-1 3-2 4-16 14 0 3 31 18 12 3 12 1 12-4 12-5 6-1 6 1 24 10 27 8 9 1 33-3 9 2 7 5 11 15 4 9 2 9 1 9-2 6-2 3-6 3-12 3-24 3-48 3-36 1-51-4-27 0-17 3-10 3-3 3 1 3 6 6 12 9 16 9 16 7 15 11 71 15 40 11 13 4 4 3 0 3-3 6-1 3 2 6 3 2 30 10 6 3 7 6 11 18 6 6 15 8 30 11 9 6 6 8 4 9-1 6-3 6-6 5-6 2-6 1-9-1-9-2-48-20-18-3-6 1-6 1-3 4-2 6-3 6-7 6-24 18-9 9-5 9-7 21-4 6-8 5-9 4-27 5-90 12-39 1-27-1-105-9-33-4-27-4 0-58 15-2 36-1 60-6 18-3 15-4 10-4 3-3 0-3-3-3-45-18-5-3-2-3 0-3 4-6 20-19 10-11 5-10 1-11-1-9-5-9-7-11-11-13-11-18-5-15 0-15 3-11 8-19 8-24 4-9 7-9 9-10 12-10 15-9 25-13 3-3 0-3-3-3-13-10-8-8-5-9 0-6 3-9 5-6 10-6zM-128 42l-7 5-6 7-2 6-1 9 1 6 4 6 7 6 9 5 15 6 9 1 6 0 12-4 36-15 1-2-2-3-9-9-11-9-16-9-14-5-12-3-12 0zM63 -231l3 1 3 5 1 6-2 6-3 6-5 4-6 3-6 1-3-2-1-3 0-3 2-6 8-12 6-5zM153 -144l18-2 18 1 36 5 24 5 13 6 8 6 3 6 1 3 0 6-5 9-10 9-15 9-16 6-18 5-36 5-30 7-9 0-11-2-13-6-12-8-9-8-6-8-9-15-3-9-3-12 2-12 1-3 3-2 6 0 18 4 12 1 12-1zM324 75l30 0 24 4 12 3 11 5 10 6 6 5 0 95-11 11-12 9-13 8-15 8-15 6-33 10-18 4-21 2-21 2-18-1-21-1-18-3-18-4-15-4-12-6-7-6-4-6-1-3 1-6 4-9 13-21 4-12 0-12-6-18 0-6 2-6 5-6 13-9 18-9 24-11 21-7 18-5 18-3z"/><path fill="#96D2F0" d="M-93 -150l9-2 9 0 54 12 33-2 9 2 3 1 6 5 9 12 5 14 1 6-1 6-3 6-8 3-27 5-30 3-27 1-30 0-69-4-18 0-21 2-6 3-3 5 1 6 2 5 5 4 21 12 31 13 15 9 57 12 54 15 9 3 3 2 1 3-2 9 1 3 1 3 4 3 28 9 7 3 6 6 11 19 3 4 6 5 12 7 33 12 5 4 5 6 1 6 0 6-3 6-5 4-6 2-9 0-6-1-45-22-36-8-18-7-9-4-23-18-32-18-13-6-22-7-12-1-9 0-6 3-6 4-6 7-2 6-2 9 0 6 2 6 5 6 8 6 19 11 9 4 6 2 12 0 21-6 9-2 9 1 12 3 12 6 6 8 1 6-1 3-4 6-10 9-28 21-9 6-9 4-12 4-33 6-39 10-24 5-18 2-15 0-33-1-54-9-18-4-11-5-4-3-1-3 2-3 5-3 42-16 42-22 6-4 1-3 0-3-4-3-32-12-13-6-4-3-3-6 0-6 4-6 15-21 4-6 3-9 0-9-2-9-4-9-20-27-6-12-5-12-1-6-1-9 3-9 3-6 8-7 14-8 8-6 13-21 10-12 11-9 13-6 18-6 24-3 30-3 39 1zM174 -141l15 0 21 2 19 4 14 5 9 5 8 8 2 6-2 9-4 6-7 6-9 6-15 6-21 5-33 5-24 5-9 1-9-2-9-5-15-16-18-14-6-10-2-8 2-5 2-1 16 1 6 0 45-15 12-3zM249 102l18-3 18 1 17 5 17 9 7 6 5 6 3 6 2 6 0 6-1 6-2 6-3 6-9 9-12 8-15 6-15 4-18 1-15-1-12-4-12-7-9-9-7-13-3-12 1-9 2-6 5-6 10-9 13-7z"/><path fill="#55C3F5" d="M-90 -144l18-1 51 8 27-1 12 2 9 6 9 10 4 12 0 9-2 3-3 3-11 4-31 5-32 3-42 0-72-6-39 1-5 2-3 3-3 6 0 9 3 6 5 5 6 4 25 12 26 9 15 8 48 11 57 16 12 4 4 3-1 9 1 3 5 6 6 3 24 7 8 5 5 6 11 21 6 6 12 7 30 11 6 3 3 3 3 6 0 6-1 3-2 3-6 4-6 1-6 0-45-24-36-6-21-9-6-3-22-17-47-23-24-7-12-2-9-1-12 5-8 7-5 12-1 9 0 6 1 6 4 6 6 5 20 13 6 6 3 6 0 3-1 3-2 3-5 3-6 3-12 1-18-3-3-1-9-7-3-1-3 1-4 4-3 12-4 12 0 18-1 3-3 3-3 3-7 3-14 3-15-1-15-3-4-2-3-3-1-3 0-3 10-21 13-15 0-3 0-3-5-6-6-3-25-9-13-6-5-3-4-6-1-6 1-6 12-21 3-9 1-6 0-9-2-9-4-9-17-24-9-18-4-12-1-6 0-6 2-6 5-7 9-7 9-2 12-2 8-3 4-5 12-16 8-9 10-8 12-6 18-6 33-6 21-4 33-3zM168 -135l15-2 15 1 18 2 16 5 11 6 6 6 3 6 0 3-1 6-4 6-10 8-12 6-12 4-15 3-27 2-24 5-9 0-6-2-6-5-4-6-2-6-2-9 0-6 4-9 9-9 9-6 14-6zM255 117l9-1 9 1 6 2 6 4 4 6 0 6-1 6-3 4-9 6-12 3-12-2-10-5-3-3-3-6 0-6 1-3 6-7 6-3zM-63 120l7 0 5 3 1 3 0 3-7 6-6 2-6 0-6-2-2-3 0-3 1-3 4-3z"/><path fill="#00BEFF" d="M-90 -138l15-1 15 0 39 5 21 1 12 2 9 4 8 7 4 7 1 8-1 3-3 4-4 2-11 4-29 5-34 3-33 0-78-9-30-3-6 1-3 1-6 3-3 4-2 6-1 6 1 6 4 9 7 8 9 6 25 10 26 9 15 7 14 2 28 7 57 16 15 5 3 2 1 3 0 6 1 3 5 6 5 3 27 9 9 6 4 6 11 24 6 6 9 5 36 13 3 4 1 5-1 5-3 3-6 2-6-1-33-20-9-3-30-4-12-3-18-8-27-19-25-12-35-14-15-4-15-3-6 0-10 3-6 3-3 3-4 6-2 6-3 18 0 9 3 6 2 3 5 5 18 10 5 6 1 6-2 3-4 3-6 1-3 0-12-8-15-4-6 0-9 5-15 13-6 3-6 0-6-2-18-15-29-11-7-4-7-5-3-6-1-9 2-6 8-21 1-9 0-9-2-6-4-10-6-10-13-19-10-24-2-6 0-6 1-6 4-6 5-5 9-3 9-1 15 3 6-1 6-5 15-17 12-10 29-15 21-9 16-5 15-3zM180 -132l12-1 15 2 12 3 12 5 8 6 3 6 1 6-3 6-5 6-7 5-9 4-12 3-12 2-45 4-6 0-6-3-4-6-2-12 2-9 5-9 7-6 10-6 12-4z"/><path fill="#14A0FA" d="M-99 -132l21-2 21 1 18 1 33 5 12 3 12 6 5 4 1 3 0 3-3 5-6 3-21 7-27 4-30 1-30-1-45-7-22-6-6-3-3-3-1-3 1-3 3-3 13-6 21-5zM174 -126l12-2 12 0 11 2 10 3 6 3 7 6 2 6-1 6-4 6-7 5-8 4-11 3-14 2-21-1-12-1-6-3-3-3-1-3-1-6 1-6 3-6 6-6 4-3 6-3zM-228 -72l3-1 3 1 3 2 10 13 6 6 8 5 8 4 25 9 24 7 15 7 12 2 33 8 51 15 16 6 2 3 3 9 6 7 6 3 24 8 6 3 3 3 5 6 4 9 6 18 0 6-5 3-10 1-12 0-12-2-21-9-24-18-24-12-42-16-21-6-9-1-12 2-9 3-6 4-4 6-4 12-2 21 1 11 5 10-1 3-10 3-6 3-21 16-9 3-9-2-18-12-25-11-5-4-5-5-4-9 0-9 4-18 1-9 0-9-2-9-7-15-14-21-4-9-8-21-1-9 1-6 3-4 3-3 6-3 6-1 6 0 9 3 9 6 6 1 4-2 14-12zM90 103l12 2 3 2 1 4-1 3-3 1-5-1-8-6-2-3z"/><path fill="#2387F5" d="M-96 -129l36 0 33 4 36 9 6 3 1 2 0 3-3 3-4 2-30 7-21 3-27 1-30-3-36-5-15-5-5-3-3-3 0-3 3-3 5-3 9-3 21-4zM177 -121l9-2 9 0 16 3 6 3 7 6 1 3-1 6-2 3-6 5-12 5-18 2-9-1-9-2-6-3-3-3-1-3 0-6 3-6 3-3 4-3zM-288 -61l6-1 9 2 5 3 10 10 6 3 6-2 15-10 6-2 3 0 6 3 22 13 25 9 31 9 15 6 16 3 84 24 6 3 4 3 4 9 6 6 4 3 29 11 7 4 5 6 5 12 2 12-1 5-5 4-7 2-12 0-9-3-21-9-24-18-24-12-30-11-27-9-12-3-12 1-10 2-8 3-4 3-5 6-4 12-4 24-1 15-2 6-2 3-12 12-8 6-9 3-9-2-16-10-22-12-7-6-4-6-2-9 2-30-3-18-8-18-14-21-7-15-5-15 0-6 2-6 3-3z"/><path fill="#3C73E6" d="M-108 -126l18 0 18 1 24 3 24 7 24-1 9 3 2 2 0 3-5 3-6 2-24-1-24 5-33 2-27-2-18-3-15-4-5-2-3-3-1-3 3-3 6-3 15-4zM180 -114l12-3 6 1 8 2 5 3 2 3 1 3-1 3-6 5-9 3-12 0-9-2-4-3-2-3 0-3 1-3 3-3zM-288 -58l3-1 6 0 6 2 3 3 12 15 6 4 3 0 3-1 12-9 6-3 6-2 6 1 24 10 26 9 43 13 12 2 82 24 7 3 4 3 6 9 11 9 7 4 24 8 6 4 4 5 4 9 2 9-1 8-3 3-6 3-9 1-9-2-21-9-6-3-19-16-26-12-36-14-27-8-6-1-15 1-9 1-9 3-6 3-6 7-2 5-2 6-5 45-3 6-4 6-8 7-6 4-6 1-9-2-34-22-6-6-4-6-3-9 0-27-3-18-7-16-15-23-11-30 0-6 1-3 1-3z"/><path fill="#3250E6" d="M-120 -123l24-1 24 2 10 2 8 3 5 3 1 3-2 3-10 4-15 2-18 1-18-1-15-2-12-4-4-3-1-3 3-3 8-4zM-12 -112l6-2 6 1 6 2 0 3-6 2-9 0-5-2 0-3zM-288 -55l6-1 7 2 17 22 6 4 6 0 3-2 12-10 6-3 6-2 6 1 6 1 16 7 29 9 36 11 15 3 54 15 23 7 10 6 8 9 12 9 7 4 24 8 9 6 4 6 3 9 1 6-2 6-3 4-6 2-6 1-9-2-21-9-24-19-9-5-18-8-36-13-30-9-9 0-15 1-12 3-8 3-5 3-6 6-2 6-1 6-3 27-1 18-1 6-4 6-8 7-6 2-6 1-6-2-29-20-6-6-5-9-3-9-3-30-3-15-7-15-15-24-9-27-1-6 3-5z"/><path fill="#0A10F5" d="M-123 -121l21-1 21 1 13 4 4 3 0 3-4 3-7 2-12 2-12 0-24-2-8-2-5-3-1-3 3-3zM-3 -111l1 0-1 2-1-2zM-288 -52l6-1 5 2 17 24 8 5 6 0 3-1 12-12 6-4 6-2 9 0 54 18 33 9 11 2 73 21 6 3 4 3 8 9 14 9 10 5 20 7 10 5 5 7 3 6 0 6 0 6-2 3-6 4-6 1-9-2-21-9-24-20-24-11-42-15-27-9-24 1-13 3-9 3-7 3-7 6-3 6-1 6-1 30 0 18-1 6-4 6-8 6-6 2-6-1-7-4-20-15-8-9-5-9-3-9-4-27-3-15-9-18-12-21-4-9-6-21 1-3z"/><path fill="#4110F5" d="M-114 -120l12-1 12 1 12 3 4 3-1 3-6 3-15 2-21-1-6-1-6-3-2-3 4-3zM-285 -48l3-1 3 2 16 23 8 5 6 2 6 0 3-2 9-11 6-5 6-2 9-1 60 18 24 7 12 2 18 6 15 3 37 11 6 3 12 12 9 6 14 7 22 8 12 6 3 3 4 6 1 6 0 6-3 5-3 2-6 2-9-1-21-10-18-16-6-5-24-10-69-24-15 0-15 2-15 3-10 4-6 3-6 6-3 6-1 6 3 48-1 6-4 6-5 4-6 2-6-1-13-8-10-9-8-9-6-9-4-12-4-27-3-12-7-15-14-25-6-20-1-9z"/><path fill="#8220F0" d="M-117 -117l9-2 12 1 7 1 6 3-2 3-5 2-9 1-9 0-14-3-2-3zM-222 -33l9-3 9 1 57 18 33 8 18 6 15 2 31 10 7 3 3 3 8 9 11 7 15 7 22 7 14 7 3 3 3 5 1 6 0 6-2 3-5 3-6 1-6-1-21-10-18-18-9-6-21-8-63-22-9-2-27 3-17 3-13 4-10 5-6 6-1 3-1 6 5 27 2 27-2 6-5 5-6 2-6-1-9-6-11-9-8-9-6-9-4-12-6-30-3-12-16-33-4-12 1-5 3 1 6 7 12 7 6 3 6 0 5-4 10-14z"/></g>
<path fill="#fff" d="M-62.5 212.5L-55.5 216-35.5 216.9-11.5 216-7.5 218.5-3.5 227.5 5.5 240.5 6 246-72 246-72 212Z"/>
<use href="#land" fill="#fff" stroke="#7c7c7c" stroke-width="0.9"/>
<use href="#lakes" fill="#fff" stroke="#7c7c7c" stroke-width="0.9"/>
<use href="#ol" fill="none" stroke="#8a8a8a" stroke-width="1.1"/>
</g>
<text x="212.6" y="1351.2" font-size="36.05" textLength="438.6" lengthAdjust="spacingAndGlyphs" fill="#c8c369">CESM1-LENS (40 Members)</text>
<text x="20.1" y="1390.7" font-size="27.76" textLength="126.3" lengthAdjust="spacingAndGlyphs" fill="#000">1920-2100</text>
<g transform="translate(1275.2 1619)">
<use href="#land" fill="#fff" stroke="#7c7c7c" stroke-width="0.9"/>
<use href="#lakes" fill="#fff" stroke="#7c7c7c" stroke-width="0.9"/>
<use href="#ol" fill="none" stroke="#8a8a8a" stroke-width="1.1"/>
</g>
<text x="1190.6" y="1357.3" font-size="35.61" textLength="170.6" lengthAdjust="spacingAndGlyphs" fill="#000">ORAS5-dsl</text>
<text x="864.0" y="1390.7" font-size="27.76" textLength="126.4" lengthAdjust="spacingAndGlyphs" fill="#000">1958-2023</text>
<g transform="translate(2118.9 1619)">
<use href="#land" fill="#fff" stroke="#7c7c7c" stroke-width="0.9"/>
<use href="#lakes" fill="#fff" stroke="#7c7c7c" stroke-width="0.9"/>
<use href="#ol" fill="none" stroke="#8a8a8a" stroke-width="1.1"/>
</g>
<text x="1910.4" y="1357.3" font-size="35.61" textLength="418.0" lengthAdjust="spacingAndGlyphs" fill="#000">CESM1-LENS - ORAS5-dsl</text>
<g transform="translate(2962.6 1619)">
<use href="#land" fill="#fff" stroke="#7c7c7c" stroke-width="0.9"/>
<use href="#lakes" fill="#fff" stroke="#7c7c7c" stroke-width="0.9"/>
<use href="#ol" fill="none" stroke="#8a8a8a" stroke-width="1.1"/>
</g>
<text x="2685.3" y="1357.3" font-size="35.61" textLength="554.1" lengthAdjust="spacingAndGlyphs" fill="#000">Rank of ORAS5-dsl within Ensemble</text>
<rect x="58.1" y="1911.3" width="34" height="30.5" fill="#8220F0"/>
<rect x="92.1" y="1911.3" width="34" height="30.5" fill="#4110F5"/>
<rect x="126.1" y="1911.3" width="34" height="30.5" fill="#0A10F5"/>
<rect x="160.1" y="1911.3" width="34" height="30.5" fill="#3250E6"/>
<rect x="194.1" y="1911.3" width="34" height="30.5" fill="#3C73E6"/>
<rect x="228.1" y="1911.3" width="34" height="30.5" fill="#2387F5"/>
<rect x="262.1" y="1911.3" width="34" height="30.5" fill="#14A0FA"/>
<rect x="296.1" y="1911.3" width="34" height="30.5" fill="#00BEFF"/>
<rect x="330.1" y="1911.3" width="34" height="30.5" fill="#55C3F5"/>
<rect x="364.1" y="1911.3" width="34" height="30.5" fill="#96D2F0"/>
<rect x="398.1" y="1911.3" width="34" height="30.5" fill="#B9E1F5"/>
<rect x="432.1" y="1911.3" width="34" height="30.5" fill="#FFF59B"/>
<rect x="466.1" y="1911.3" width="34" height="30.5" fill="#FFE141"/>
<rect x="500.1" y="1911.3" width="34" height="30.5" fill="#FFC81E"/>
<rect x="534.1" y="1911.3" width="34" height="30.5" fill="#FFAA00"/>
<rect x="568.1" y="1911.3" width="34" height="30.5" fill="#FF8700"/>
<rect x="602.1" y="1911.3" width="34" height="30.5" fill="#FF5A00"/>
<rect x="636.1" y="1911.3" width="34" height="30.5" fill="#FF1E00"/>
<rect x="670.1" y="1911.3" width="34" height="30.5" fill="#EB0000"/>
<rect x="704.1" y="1911.3" width="34" height="30.5" fill="#CD0000"/>
<rect x="738.1" y="1911.3" width="34" height="30.5" fill="#DC4141"/>
<rect x="772.1" y="1911.3" width="34" height="30.5" fill="#FFAFAF"/>
<line x1="92.1" x2="92.1" y1="1911.3" y2="1941.8" stroke="#b4b4b4" stroke-width="1"/>
<line x1="126.1" x2="126.1" y1="1911.3" y2="1941.8" stroke="#b4b4b4" stroke-width="1"/>
<line x1="160.1" x2="160.1" y1="1911.3" y2="1941.8" stroke="#b4b4b4" stroke-width="1"/>
<line x1="194.1" x2="194.1" y1="1911.3" y2="1941.8" stroke="#b4b4b4" stroke-width="1"/>
<line x1="228.1" x2="228.1" y1="1911.3" y2="1941.8" stroke="#b4b4b4" stroke-width="1"/>
<line x1="262.1" x2="262.1" y1="1911.3" y2="1941.8" stroke="#b4b4b4" stroke-width="1"/>
<line x1="296.1" x2="296.1" y1="1911.3" y2="1941.8" stroke="#b4b4b4" stroke-width="1"/>
<line x1="330.1" x2="330.1" y1="1911.3" y2="1941.8" stroke="#b4b4b4" stroke-width="1"/>
<line x1="364.1" x2="364.1" y1="1911.3" y2="1941.8" stroke="#b4b4b4" stroke-width="1"/>
<line x1="398.1" x2="398.1" y1="1911.3" y2="1941.8" stroke="#b4b4b4" stroke-width="1"/>
<line x1="432.1" x2="432.1" y1="1911.3" y2="1941.8" stroke="#b4b4b4" stroke-width="1"/>
<line x1="466.1" x2="466.1" y1="1911.3" y2="1941.8" stroke="#b4b4b4" stroke-width="1"/>
<line x1="500.1" x2="500.1" y1="1911.3" y2="1941.8" stroke="#b4b4b4" stroke-width="1"/>
<line x1="534.1" x2="534.1" y1="1911.3" y2="1941.8" stroke="#b4b4b4" stroke-width="1"/>
<line x1="568.1" x2="568.1" y1="1911.3" y2="1941.8" stroke="#b4b4b4" stroke-width="1"/>
<line x1="602.1" x2="602.1" y1="1911.3" y2="1941.8" stroke="#b4b4b4" stroke-width="1"/>
<line x1="636.1" x2="636.1" y1="1911.3" y2="1941.8" stroke="#b4b4b4" stroke-width="1"/>
<line x1="670.1" x2="670.1" y1="1911.3" y2="1941.8" stroke="#b4b4b4" stroke-width="1"/>
<line x1="704.1" x2="704.1" y1="1911.3" y2="1941.8" stroke="#b4b4b4" stroke-width="1"/>
<line x1="738.1" x2="738.1" y1="1911.3" y2="1941.8" stroke="#b4b4b4" stroke-width="1"/>
<line x1="772.1" x2="772.1" y1="1911.3" y2="1941.8" stroke="#b4b4b4" stroke-width="1"/>
<text x="92.1" y="1978.0" font-size="39.24" text-anchor="middle" textLength="54.2" lengthAdjust="spacingAndGlyphs" fill="#000">-10</text>
<text x="160.1" y="1978.0" font-size="39.24" text-anchor="middle" textLength="33.3" lengthAdjust="spacingAndGlyphs" fill="#000">-8</text>
<text x="228.1" y="1978.0" font-size="39.24" text-anchor="middle" textLength="33.3" lengthAdjust="spacingAndGlyphs" fill="#000">-6</text>
<text x="296.1" y="1978.0" font-size="39.24" text-anchor="middle" textLength="33.3" lengthAdjust="spacingAndGlyphs" fill="#000">-4</text>
<text x="364.1" y="1978.0" font-size="39.24" text-anchor="middle" textLength="33.3" lengthAdjust="spacingAndGlyphs" fill="#000">-2</text>
<text x="432.1" y="1978.0" font-size="39.24" text-anchor="middle" textLength="20.8" lengthAdjust="spacingAndGlyphs" fill="#000">0</text>
<text x="500.1" y="1978.0" font-size="39.24" text-anchor="middle" textLength="20.8" lengthAdjust="spacingAndGlyphs" fill="#000">2</text>
<text x="568.1" y="1978.0" font-size="39.24" text-anchor="middle" textLength="20.8" lengthAdjust="spacingAndGlyphs" fill="#000">4</text>
<text x="636.1" y="1978.0" font-size="39.24" text-anchor="middle" textLength="20.8" lengthAdjust="spacingAndGlyphs" fill="#000">6</text>
<text x="704.1" y="1978.0" font-size="39.24" text-anchor="middle" textLength="20.8" lengthAdjust="spacingAndGlyphs" fill="#000">8</text>
<text x="772.1" y="1978.0" font-size="39.24" text-anchor="middle" textLength="41.7" lengthAdjust="spacingAndGlyphs" fill="#000">10</text>
<text x="387.3" y="2014.0" font-size="39.24" textLength="88.7" lengthAdjust="spacingAndGlyphs" fill="#000">cm/C</text>
<rect x="901.8" y="1911.3" width="34" height="30.5" fill="#8220F0"/>
<rect x="935.8" y="1911.3" width="34" height="30.5" fill="#4110F5"/>
<rect x="969.8" y="1911.3" width="34" height="30.5" fill="#0A10F5"/>
<rect x="1003.8" y="1911.3" width="34" height="30.5" fill="#3250E6"/>
<rect x="1037.8" y="1911.3" width="34" height="30.5" fill="#3C73E6"/>
<rect x="1071.8" y="1911.3" width="34" height="30.5" fill="#2387F5"/>
<rect x="1105.8" y="1911.3" width="34" height="30.5" fill="#14A0FA"/>
<rect x="1139.8" y="1911.3" width="34" height="30.5" fill="#00BEFF"/>
<rect x="1173.8" y="1911.3" width="34" height="30.5" fill="#55C3F5"/>
<rect x="1207.8" y="1911.3" width="34" height="30.5" fill="#96D2F0"/>
<rect x="1241.8" y="1911.3" width="34" height="30.5" fill="#B9E1F5"/>
<rect x="1275.8" y="1911.3" width="34" height="30.5" fill="#FFF59B"/>
<rect x="1309.8" y="1911.3" width="34" height="30.5" fill="#FFE141"/>
<rect x="1343.8" y="1911.3" width="34" height="30.5" fill="#FFC81E"/>
<rect x="1377.8" y="1911.3" width="34" height="30.5" fill="#FFAA00"/>
<rect x="1411.8" y="1911.3" width="34" height="30.5" fill="#FF8700"/>
<rect x="1445.8" y="1911.3" width="34" height="30.5" fill="#FF5A00"/>
<rect x="1479.8" y="1911.3" width="34" height="30.5" fill="#FF1E00"/>
<rect x="1513.8" y="1911.3" width="34" height="30.5" fill="#EB0000"/>
<rect x="1547.8" y="1911.3" width="34" height="30.5" fill="#CD0000"/>
<rect x="1581.8" y="1911.3" width="34" height="30.5" fill="#DC4141"/>
<rect x="1615.8" y="1911.3" width="34" height="30.5" fill="#FFAFAF"/>
<line x1="935.8" x2="935.8" y1="1911.3" y2="1941.8" stroke="#b4b4b4" stroke-width="1"/>
<line x1="969.8" x2="969.8" y1="1911.3" y2="1941.8" stroke="#b4b4b4" stroke-width="1"/>
<line x1="1003.8" x2="1003.8" y1="1911.3" y2="1941.8" stroke="#b4b4b4" stroke-width="1"/>
<line x1="1037.8" x2="1037.8" y1="1911.3" y2="1941.8" stroke="#b4b4b4" stroke-width="1"/>
<line x1="1071.8" x2="1071.8" y1="1911.3" y2="1941.8" stroke="#b4b4b4" stroke-width="1"/>
<line x1="1105.8" x2="1105.8" y1="1911.3" y2="1941.8" stroke="#b4b4b4" stroke-width="1"/>
<line x1="1139.8" x2="1139.8" y1="1911.3" y2="1941.8" stroke="#b4b4b4" stroke-width="1"/>
<line x1="1173.8" x2="1173.8" y1="1911.3" y2="1941.8" stroke="#b4b4b4" stroke-width="1"/>
<line x1="1207.8" x2="1207.8" y1="1911.3" y2="1941.8" stroke="#b4b4b4" stroke-width="1"/>
<line x1="1241.8" x2="1241.8" y1="1911.3" y2="1941.8" stroke="#b4b4b4" stroke-width="1"/>
<line x1="1275.8" x2="1275.8" y1="1911.3" y2="1941.8" stroke="#b4b4b4" stroke-width="1"/>
<line x1="1309.8" x2="1309.8" y1="1911.3" y2="1941.8" stroke="#b4b4b4" stroke-width="1"/>
<line x1="1343.8" x2="1343.8" y1="1911.3" y2="1941.8" stroke="#b4b4b4" stroke-width="1"/>
<line x1="1377.8" x2="1377.8" y1="1911.3" y2="1941.8" stroke="#b4b4b4" stroke-width="1"/>
<line x1="1411.8" x2="1411.8" y1="1911.3" y2="1941.8" stroke="#b4b4b4" stroke-width="1"/>
<line x1="1445.8" x2="1445.8" y1="1911.3" y2="1941.8" stroke="#b4b4b4" stroke-width="1"/>
<line x1="1479.8" x2="1479.8" y1="1911.3" y2="1941.8" stroke="#b4b4b4" stroke-width="1"/>
<line x1="1513.8" x2="1513.8" y1="1911.3" y2="1941.8" stroke="#b4b4b4" stroke-width="1"/>
<line x1="1547.8" x2="1547.8" y1="1911.3" y2="1941.8" stroke="#b4b4b4" stroke-width="1"/>
<line x1="1581.8" x2="1581.8" y1="1911.3" y2="1941.8" stroke="#b4b4b4" stroke-width="1"/>
<line x1="1615.8" x2="1615.8" y1="1911.3" y2="1941.8" stroke="#b4b4b4" stroke-width="1"/>
<text x="935.8" y="1978.0" font-size="39.24" text-anchor="middle" textLength="54.2" lengthAdjust="spacingAndGlyphs" fill="#000">-10</text>
<text x="1003.8" y="1978.0" font-size="39.24" text-anchor="middle" textLength="33.3" lengthAdjust="spacingAndGlyphs" fill="#000">-8</text>
<text x="1071.8" y="1978.0" font-size="39.24" text-anchor="middle" textLength="33.3" lengthAdjust="spacingAndGlyphs" fill="#000">-6</text>
<text x="1139.8" y="1978.0" font-size="39.24" text-anchor="middle" textLength="33.3" lengthAdjust="spacingAndGlyphs" fill="#000">-4</text>
<text x="1207.8" y="1978.0" font-size="39.24" text-anchor="middle" textLength="33.3" lengthAdjust="spacingAndGlyphs" fill="#000">-2</text>
<text x="1275.8" y="1978.0" font-size="39.24" text-anchor="middle" textLength="20.8" lengthAdjust="spacingAndGlyphs" fill="#000">0</text>
<text x="1343.8" y="1978.0" font-size="39.24" text-anchor="middle" textLength="20.8" lengthAdjust="spacingAndGlyphs" fill="#000">2</text>
<text x="1411.8" y="1978.0" font-size="39.24" text-anchor="middle" textLength="20.8" lengthAdjust="spacingAndGlyphs" fill="#000">4</text>
<text x="1479.8" y="1978.0" font-size="39.24" text-anchor="middle" textLength="20.8" lengthAdjust="spacingAndGlyphs" fill="#000">6</text>
<text x="1547.8" y="1978.0" font-size="39.24" text-anchor="middle" textLength="20.8" lengthAdjust="spacingAndGlyphs" fill="#000">8</text>
<text x="1615.8" y="1978.0" font-size="39.24" text-anchor="middle" textLength="41.7" lengthAdjust="spacingAndGlyphs" fill="#000">10</text>
<text x="1231.0" y="2014.0" font-size="39.24" textLength="88.7" lengthAdjust="spacingAndGlyphs" fill="#000">cm/C</text>
<rect x="1745.5" y="1911.3" width="34" height="30.5" fill="#8220F0"/>
<rect x="1779.5" y="1911.3" width="34" height="30.5" fill="#4110F5"/>
<rect x="1813.5" y="1911.3" width="34" height="30.5" fill="#0A10F5"/>
<rect x="1847.5" y="1911.3" width="34" height="30.5" fill="#3250E6"/>
<rect x="1881.5" y="1911.3" width="34" height="30.5" fill="#3C73E6"/>
<rect x="1915.5" y="1911.3" width="34" height="30.5" fill="#2387F5"/>
<rect x="1949.5" y="1911.3" width="34" height="30.5" fill="#14A0FA"/>
<rect x="1983.5" y="1911.3" width="34" height="30.5" fill="#00BEFF"/>
<rect x="2017.5" y="1911.3" width="34" height="30.5" fill="#55C3F5"/>
<rect x="2051.5" y="1911.3" width="34" height="30.5" fill="#96D2F0"/>
<rect x="2085.5" y="1911.3" width="34" height="30.5" fill="#B9E1F5"/>
<rect x="2119.5" y="1911.3" width="34" height="30.5" fill="#FFF59B"/>
<rect x="2153.5" y="1911.3" width="34" height="30.5" fill="#FFE141"/>
<rect x="2187.5" y="1911.3" width="34" height="30.5" fill="#FFC81E"/>
<rect x="2221.5" y="1911.3" width="34" height="30.5" fill="#FFAA00"/>
<rect x="2255.5" y="1911.3" width="34" height="30.5" fill="#FF8700"/>
<rect x="2289.5" y="1911.3" width="34" height="30.5" fill="#FF5A00"/>
<rect x="2323.5" y="1911.3" width="34" height="30.5" fill="#FF1E00"/>
<rect x="2357.5" y="1911.3" width="34" height="30.5" fill="#EB0000"/>
<rect x="2391.5" y="1911.3" width="34" height="30.5" fill="#CD0000"/>
<rect x="2425.5" y="1911.3" width="34" height="30.5" fill="#DC4141"/>
<rect x="2459.5" y="1911.3" width="34" height="30.5" fill="#FFAFAF"/>
<line x1="1779.5" x2="1779.5" y1="1911.3" y2="1941.8" stroke="#b4b4b4" stroke-width="1"/>
<line x1="1813.5" x2="1813.5" y1="1911.3" y2="1941.8" stroke="#b4b4b4" stroke-width="1"/>
<line x1="1847.5" x2="1847.5" y1="1911.3" y2="1941.8" stroke="#b4b4b4" stroke-width="1"/>
<line x1="1881.5" x2="1881.5" y1="1911.3" y2="1941.8" stroke="#b4b4b4" stroke-width="1"/>
<line x1="1915.5" x2="1915.5" y1="1911.3" y2="1941.8" stroke="#b4b4b4" stroke-width="1"/>
<line x1="1949.5" x2="1949.5" y1="1911.3" y2="1941.8" stroke="#b4b4b4" stroke-width="1"/>
<line x1="1983.5" x2="1983.5" y1="1911.3" y2="1941.8" stroke="#b4b4b4" stroke-width="1"/>
<line x1="2017.5" x2="2017.5" y1="1911.3" y2="1941.8" stroke="#b4b4b4" stroke-width="1"/>
<line x1="2051.5" x2="2051.5" y1="1911.3" y2="1941.8" stroke="#b4b4b4" stroke-width="1"/>
<line x1="2085.5" x2="2085.5" y1="1911.3" y2="1941.8" stroke="#b4b4b4" stroke-width="1"/>
<line x1="2119.5" x2="2119.5" y1="1911.3" y2="1941.8" stroke="#b4b4b4" stroke-width="1"/>
<line x1="2153.5" x2="2153.5" y1="1911.3" y2="1941.8" stroke="#b4b4b4" stroke-width="1"/>
<line x1="2187.5" x2="2187.5" y1="1911.3" y2="1941.8" stroke="#b4b4b4" stroke-width="1"/>
<line x1="2221.5" x2="2221.5" y1="1911.3" y2="1941.8" stroke="#b4b4b4" stroke-width="1"/>
<line x1="2255.5" x2="2255.5" y1="1911.3" y2="1941.8" stroke="#b4b4b4" stroke-width="1"/>
<line x1="2289.5" x2="2289.5" y1="1911.3" y2="1941.8" stroke="#b4b4b4" stroke-width="1"/>
<line x1="2323.5" x2="2323.5" y1="1911.3" y2="1941.8" stroke="#b4b4b4" stroke-width="1"/>
<line x1="2357.5" x2="2357.5" y1="1911.3" y2="1941.8" stroke="#b4b4b4" stroke-width="1"/>
<line x1="2391.5" x2="2391.5" y1="1911.3" y2="1941.8" stroke="#b4b4b4" stroke-width="1"/>
<line x1="2425.5" x2="2425.5" y1="1911.3" y2="1941.8" stroke="#b4b4b4" stroke-width="1"/>
<line x1="2459.5" x2="2459.5" y1="1911.3" y2="1941.8" stroke="#b4b4b4" stroke-width="1"/>
<text x="1779.5" y="1978.0" font-size="39.24" text-anchor="middle" textLength="54.2" lengthAdjust="spacingAndGlyphs" fill="#000">-10</text>
<text x="1847.5" y="1978.0" font-size="39.24" text-anchor="middle" textLength="33.3" lengthAdjust="spacingAndGlyphs" fill="#000">-8</text>
<text x="1915.5" y="1978.0" font-size="39.24" text-anchor="middle" textLength="33.3" lengthAdjust="spacingAndGlyphs" fill="#000">-6</text>
<text x="1983.5" y="1978.0" font-size="39.24" text-anchor="middle" textLength="33.3" lengthAdjust="spacingAndGlyphs" fill="#000">-4</text>
<text x="2051.5" y="1978.0" font-size="39.24" text-anchor="middle" textLength="33.3" lengthAdjust="spacingAndGlyphs" fill="#000">-2</text>
<text x="2119.5" y="1978.0" font-size="39.24" text-anchor="middle" textLength="20.8" lengthAdjust="spacingAndGlyphs" fill="#000">0</text>
<text x="2187.5" y="1978.0" font-size="39.24" text-anchor="middle" textLength="20.8" lengthAdjust="spacingAndGlyphs" fill="#000">2</text>
<text x="2255.5" y="1978.0" font-size="39.24" text-anchor="middle" textLength="20.8" lengthAdjust="spacingAndGlyphs" fill="#000">4</text>
<text x="2323.5" y="1978.0" font-size="39.24" text-anchor="middle" textLength="20.8" lengthAdjust="spacingAndGlyphs" fill="#000">6</text>
<text x="2391.5" y="1978.0" font-size="39.24" text-anchor="middle" textLength="20.8" lengthAdjust="spacingAndGlyphs" fill="#000">8</text>
<text x="2459.5" y="1978.0" font-size="39.24" text-anchor="middle" textLength="41.7" lengthAdjust="spacingAndGlyphs" fill="#000">10</text>
<text x="2074.7" y="2014.0" font-size="39.24" textLength="88.7" lengthAdjust="spacingAndGlyphs" fill="#000">cm/C</text>
<rect x="2589.2" y="1911.3" width="62.3" height="30.5" fill="#0000FF"/>
<rect x="2651.5" y="1911.3" width="62.3" height="30.5" fill="#6666FF"/>
<rect x="2713.9" y="1911.3" width="62.3" height="30.5" fill="#B2B2FF"/>
<rect x="2776.2" y="1911.3" width="124.7" height="30.5" fill="#E4E4FC"/>
<rect x="2900.9" y="1911.3" width="124.7" height="30.5" fill="#FFFFFF"/>
<rect x="3025.5" y="1911.3" width="124.7" height="30.5" fill="#E4FCE4"/>
<rect x="3150.2" y="1911.3" width="62.3" height="30.5" fill="#BCFCBC"/>
<rect x="3212.5" y="1911.3" width="62.3" height="30.5" fill="#90FF90"/>
<rect x="3274.9" y="1911.3" width="62.3" height="30.5" fill="#00FF00"/>
<line x1="2651.5" x2="2651.5" y1="1911.3" y2="1941.8" stroke="#c4c4c4" stroke-width="1"/>
<line x1="2713.9" x2="2713.9" y1="1911.3" y2="1941.8" stroke="#c4c4c4" stroke-width="1"/>
<line x1="2776.2" x2="2776.2" y1="1911.3" y2="1941.8" stroke="#c4c4c4" stroke-width="1"/>
<line x1="2900.9" x2="2900.9" y1="1911.3" y2="1941.8" stroke="#c4c4c4" stroke-width="1"/>
<line x1="3025.5" x2="3025.5" y1="1911.3" y2="1941.8" stroke="#c4c4c4" stroke-width="1"/>
<line x1="3150.2" x2="3150.2" y1="1911.3" y2="1941.8" stroke="#c4c4c4" stroke-width="1"/>
<line x1="3212.5" x2="3212.5" y1="1911.3" y2="1941.8" stroke="#c4c4c4" stroke-width="1"/>
<line x1="3274.9" x2="3274.9" y1="1911.3" y2="1941.8" stroke="#c4c4c4" stroke-width="1"/>
<text x="2651.5" y="1978.0" font-size="39.24" text-anchor="middle" textLength="20.8" lengthAdjust="spacingAndGlyphs" fill="#000">0</text>
<text x="2713.9" y="1978.0" font-size="39.24" text-anchor="middle" textLength="20.8" lengthAdjust="spacingAndGlyphs" fill="#000">5</text>
<text x="2776.2" y="1978.0" font-size="39.24" text-anchor="middle" textLength="41.7" lengthAdjust="spacingAndGlyphs" fill="#000">10</text>
<text x="2900.9" y="1978.0" font-size="39.24" text-anchor="middle" textLength="41.7" lengthAdjust="spacingAndGlyphs" fill="#000">20</text>
<text x="3025.5" y="1978.0" font-size="39.24" text-anchor="middle" textLength="41.7" lengthAdjust="spacingAndGlyphs" fill="#000">80</text>
<text x="3150.2" y="1978.0" font-size="39.24" text-anchor="middle" textLength="41.7" lengthAdjust="spacingAndGlyphs" fill="#000">90</text>
<text x="3212.5" y="1978.0" font-size="39.24" text-anchor="middle" textLength="41.7" lengthAdjust="spacingAndGlyphs" fill="#000">95</text>
<text x="3274.9" y="1978.0" font-size="39.24" text-anchor="middle" textLength="62.5" lengthAdjust="spacingAndGlyphs" fill="#000">100</text>
<text x="2963.2" y="2014.0" font-size="39.24" text-anchor="middle" textLength="33.3" lengthAdjust="spacingAndGlyphs" fill="#000">%</text>
<rect x="58.1" y="1911.3" width="748" height="30.5" fill="none" stroke="#d4d4d4" stroke-width="1"/>
<rect x="901.8" y="1911.3" width="748" height="30.5" fill="none" stroke="#d4d4d4" stroke-width="1"/>
<rect x="1745.5" y="1911.3" width="748" height="30.5" fill="none" stroke="#d4d4d4" stroke-width="1"/>
<rect x="2589.2" y="1911.3" width="748" height="30.5" fill="none" stroke="#d4d4d4" stroke-width="1"/>
</svg>
</body></html>
